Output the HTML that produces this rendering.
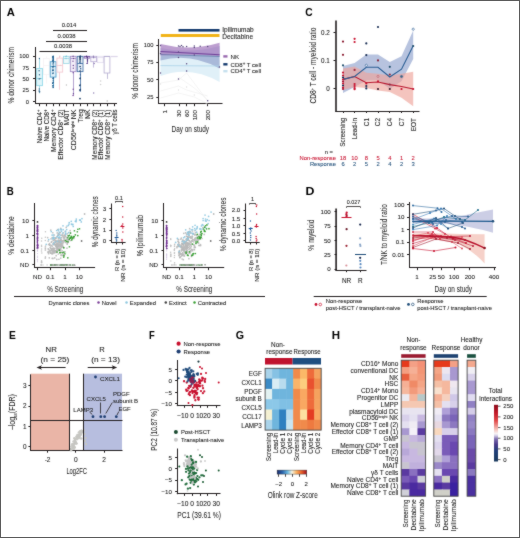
<!DOCTYPE html>
<html><head><meta charset="utf-8"><style>
html,body{margin:0;padding:0;background:#fff;}
body{width:520px;height:538px;overflow:hidden;}
svg{display:block;font-family:"Liberation Sans",sans-serif;will-change:transform;}
</style></head><body>
<svg width="520" height="538" viewBox="0 0 520 538">
<defs><filter id="soft" x="0" y="0" width="520" height="538" filterUnits="userSpaceOnUse" color-interpolation-filters="sRGB"><feConvolveMatrix order="3" kernelMatrix="1 2 1 2 24 2 1 2 1" edgeMode="duplicate"/></filter></defs>
<g filter="url(#soft)">
<rect x="0" y="0" width="520" height="538" fill="#fff"/>
<text transform="translate(6.82 16.30) scale(1.030 1)" x="0" y="0" font-size="10.87" font-weight="bold" fill="#000">A</text>
<line x1="35.5" y1="47" x2="35.5" y2="104" stroke="#231f20" stroke-width="1"/>
<line x1="35" y1="103.5" x2="117" y2="103.5" stroke="#231f20" stroke-width="1"/>
<line x1="33" y1="101.5" x2="35" y2="101.5" stroke="#231f20" stroke-width="1"/>
<text x="29.00" y="103.59" font-size="5.8" text-anchor="end" fill="#222" stroke="#222" stroke-width="0.08">0</text>
<line x1="33" y1="90.5" x2="35" y2="90.5" stroke="#231f20" stroke-width="1"/>
<text x="29.00" y="92.29" font-size="5.8" text-anchor="end" fill="#222" stroke="#222" stroke-width="0.08">25</text>
<line x1="33" y1="78.5" x2="35" y2="78.5" stroke="#231f20" stroke-width="1"/>
<text x="29.00" y="80.99" font-size="5.8" text-anchor="end" fill="#222" stroke="#222" stroke-width="0.08">50</text>
<line x1="33" y1="67.5" x2="35" y2="67.5" stroke="#231f20" stroke-width="1"/>
<text x="29.00" y="69.69" font-size="5.8" text-anchor="end" fill="#222" stroke="#222" stroke-width="0.08">75</text>
<line x1="33" y1="56.5" x2="35" y2="56.5" stroke="#231f20" stroke-width="1"/>
<text x="29.00" y="58.39" font-size="5.8" text-anchor="end" fill="#222" stroke="#222" stroke-width="0.08">100</text>
<text x="14.24" y="75.30" font-size="9.0" text-anchor="middle" textLength="56.5" lengthAdjust="spacingAndGlyphs" fill="#222" stroke="#222" stroke-width="0.04" transform="rotate(-90 14.24 75.30)">% donor chimerism</text>
<line x1="39.5" y1="103.5" x2="39.5" y2="106.2" stroke="#231f20" stroke-width="1"/>
<line x1="46.5" y1="103.5" x2="46.5" y2="106.2" stroke="#231f20" stroke-width="1"/>
<line x1="53.5" y1="103.5" x2="53.5" y2="106.2" stroke="#231f20" stroke-width="1"/>
<line x1="59.5" y1="103.5" x2="59.5" y2="106.2" stroke="#231f20" stroke-width="1"/>
<line x1="66.5" y1="103.5" x2="66.5" y2="106.2" stroke="#231f20" stroke-width="1"/>
<line x1="73.5" y1="103.5" x2="73.5" y2="106.2" stroke="#231f20" stroke-width="1"/>
<line x1="80.5" y1="103.5" x2="80.5" y2="106.2" stroke="#231f20" stroke-width="1"/>
<line x1="87.5" y1="103.5" x2="87.5" y2="106.2" stroke="#231f20" stroke-width="1"/>
<line x1="93.5" y1="103.5" x2="93.5" y2="106.2" stroke="#231f20" stroke-width="1"/>
<line x1="100.5" y1="103.5" x2="100.5" y2="106.2" stroke="#231f20" stroke-width="1"/>
<line x1="107.5" y1="103.5" x2="107.5" y2="106.2" stroke="#231f20" stroke-width="1"/>
<line x1="114.5" y1="103.5" x2="114.5" y2="106.2" stroke="#231f20" stroke-width="1"/>
<text x="42.10" y="109.50" font-size="6.4" text-anchor="end" textLength="33.8" lengthAdjust="spacingAndGlyphs" fill="#222" stroke="#222" stroke-width="0.08" transform="rotate(-90 42.10 109.50)">Naive CD4<tspan dy="-2" font-size="4.6">+</tspan></text>
<text x="48.90" y="109.50" font-size="6.4" text-anchor="end" textLength="32" lengthAdjust="spacingAndGlyphs" fill="#222" stroke="#222" stroke-width="0.08" transform="rotate(-90 48.90 109.50)">Naive CD8<tspan dy="-2" font-size="4.6">+</tspan></text>
<text x="55.70" y="109.50" font-size="6.4" text-anchor="end" textLength="42.5" lengthAdjust="spacingAndGlyphs" fill="#222" stroke="#222" stroke-width="0.08" transform="rotate(-90 55.70 109.50)">Memory CD4<tspan dy="-2" font-size="4.6">+</tspan></text>
<text x="62.50" y="109.50" font-size="6.4" text-anchor="end" textLength="50.2" lengthAdjust="spacingAndGlyphs" fill="#222" stroke="#222" stroke-width="0.08" transform="rotate(-90 62.50 109.50)">Effector CD8<tspan dy="-2" font-size="4.6">+</tspan><tspan dy="2"> (2)</tspan></text>
<text x="69.30" y="109.50" font-size="6.4" text-anchor="end" textLength="16.1" lengthAdjust="spacingAndGlyphs" fill="#222" stroke="#222" stroke-width="0.08" transform="rotate(-90 69.30 109.50)">MAIT</text>
<text x="76.10" y="109.50" font-size="6.4" text-anchor="end" textLength="40.7" lengthAdjust="spacingAndGlyphs" fill="#222" stroke="#222" stroke-width="0.08" transform="rotate(-90 76.10 109.50)">CD56<tspan dy="-2" font-size="4">bright</tspan><tspan dy="2"> NK</tspan></text>
<text x="82.90" y="109.50" font-size="6.4" text-anchor="end" textLength="13" lengthAdjust="spacingAndGlyphs" fill="#222" stroke="#222" stroke-width="0.08" transform="rotate(-90 82.90 109.50)">Treg</text>
<text x="89.70" y="109.50" font-size="6.4" text-anchor="end" textLength="9.5" lengthAdjust="spacingAndGlyphs" fill="#222" stroke="#222" stroke-width="0.08" transform="rotate(-90 89.70 109.50)">NK</text>
<text x="96.50" y="109.50" font-size="6.4" text-anchor="end" textLength="50.2" lengthAdjust="spacingAndGlyphs" fill="#222" stroke="#222" stroke-width="0.08" transform="rotate(-90 96.50 109.50)">Memory CD8<tspan dy="-2" font-size="4.6">+</tspan><tspan dy="2"> (2)</tspan></text>
<text x="103.30" y="109.50" font-size="6.4" text-anchor="end" textLength="50.2" lengthAdjust="spacingAndGlyphs" fill="#222" stroke="#222" stroke-width="0.08" transform="rotate(-90 103.30 109.50)">Effector CD8<tspan dy="-2" font-size="4.6">+</tspan><tspan dy="2"> (1)</tspan></text>
<text x="110.10" y="109.50" font-size="6.4" text-anchor="end" textLength="50.2" lengthAdjust="spacingAndGlyphs" fill="#222" stroke="#222" stroke-width="0.08" transform="rotate(-90 110.10 109.50)">Memory CD8<tspan dy="-2" font-size="4.6">+</tspan><tspan dy="2"> (1)</tspan></text>
<text x="116.90" y="109.50" font-size="6.4" text-anchor="end" textLength="25.1" lengthAdjust="spacingAndGlyphs" fill="#222" stroke="#222" stroke-width="0.08" transform="rotate(-90 116.90 109.50)">γδ T cells</text>
<line x1="39.5" y1="51.5" x2="87" y2="51.5" stroke="#231f20" stroke-width="1"/>
<text x="63.00" y="48.12" font-size="5.9" text-anchor="middle" fill="#222" stroke="#222" stroke-width="0.08">0.0038</text>
<line x1="46" y1="41.5" x2="87" y2="41.5" stroke="#231f20" stroke-width="1"/>
<text x="66.50" y="37.72" font-size="5.9" text-anchor="middle" fill="#222" stroke="#222" stroke-width="0.08">0.0038</text>
<line x1="53" y1="30.5" x2="87" y2="30.5" stroke="#231f20" stroke-width="1"/>
<text x="69.00" y="27.12" font-size="5.9" text-anchor="middle" fill="#222" stroke="#222" stroke-width="0.08">0.014</text>
<line x1="39.5" y1="58.56" x2="39.5" y2="68.50399999999999" stroke="#8ad6e6" stroke-width="0.8"/>
<line x1="39.5" y1="85.68" x2="39.5" y2="93.364" stroke="#8ad6e6" stroke-width="0.8"/>
<rect x="36.70" y="68.50" width="5.80" height="17.18" fill="#dff5fa" stroke="#8ad6e6" stroke-width="0.8"/>
<line x1="36.7" y1="78.5" x2="42.5" y2="78.5" stroke="#8ad6e6" stroke-width="0.8"/>
<circle cx="39.39" cy="58.56" r="0.7" fill="#3a6a90"/>
<circle cx="39.18" cy="78.90" r="0.7" fill="#3a6a90"/>
<circle cx="39.09" cy="70.71" r="0.7" fill="#3a6a90"/>
<circle cx="39.44" cy="74.71" r="0.7" fill="#3a6a90"/>
<circle cx="39.61" cy="91.35" r="0.7" fill="#3a6a90"/>
<circle cx="39.52" cy="92.06" r="0.7" fill="#3a6a90"/>
<circle cx="39.11" cy="90.93" r="0.7" fill="#3a6a90"/>
<circle cx="39.99" cy="78.59" r="0.7" fill="#3a6a90"/>
<circle cx="39.27" cy="89.06" r="0.7" fill="#3a6a90"/>
<line x1="46.5" y1="56.3" x2="46.5" y2="58.56" stroke="#f6f2f4" stroke-width="0.8"/>
<line x1="46.5" y1="74.38" x2="46.5" y2="83.42" stroke="#f6f2f4" stroke-width="0.8"/>
<rect x="43.50" y="58.56" width="5.80" height="15.82" fill="#ffffff" stroke="#f6f2f4" stroke-width="0.8"/>
<line x1="43.5" y1="65.5" x2="49.3" y2="65.5" stroke="#f6f2f4" stroke-width="0.8"/>
<line x1="53.5" y1="56.3" x2="53.5" y2="61.724" stroke="#3f97c8" stroke-width="0.8"/>
<line x1="53.5" y1="77.092" x2="53.5" y2="87.94" stroke="#3f97c8" stroke-width="0.8"/>
<rect x="50.20" y="61.72" width="5.80" height="15.37" fill="#e2f1f9" stroke="#3f97c8" stroke-width="0.8"/>
<line x1="50.2" y1="66.5" x2="56.0" y2="66.5" stroke="#3f97c8" stroke-width="0.8"/>
<circle cx="53.25" cy="56.30" r="0.7" fill="#24608f"/>
<circle cx="53.64" cy="66.24" r="0.7" fill="#24608f"/>
<circle cx="52.98" cy="69.68" r="0.7" fill="#24608f"/>
<circle cx="52.56" cy="57.05" r="0.7" fill="#24608f"/>
<circle cx="52.85" cy="60.78" r="0.7" fill="#24608f"/>
<circle cx="52.64" cy="83.38" r="0.7" fill="#24608f"/>
<circle cx="53.48" cy="78.18" r="0.7" fill="#24608f"/>
<circle cx="53.20" cy="82.22" r="0.7" fill="#24608f"/>
<circle cx="52.95" cy="67.72" r="0.7" fill="#24608f"/>
<circle cx="52.58" cy="70.61" r="0.7" fill="#24608f"/>
<circle cx="52.75" cy="86.05" r="0.7" fill="#24608f"/>
<circle cx="53.01" cy="66.41" r="0.7" fill="#24608f"/>
<circle cx="53.20" cy="78.00" r="0.7" fill="#24608f"/>
<circle cx="52.86" cy="73.60" r="0.7" fill="#24608f"/>
<circle cx="53.34" cy="62.81" r="0.7" fill="#24608f"/>
<circle cx="53.19" cy="80.22" r="0.7" fill="#24608f"/>
<line x1="59.5" y1="56.3" x2="59.5" y2="58.108" stroke="#f2c6cf" stroke-width="0.8"/>
<line x1="59.5" y1="72.12" x2="59.5" y2="89.748" stroke="#f2c6cf" stroke-width="0.8"/>
<rect x="56.90" y="58.11" width="5.80" height="14.01" fill="#fffafa" stroke="#f2c6cf" stroke-width="0.8"/>
<line x1="56.9" y1="65.5" x2="62.699999999999996" y2="65.5" stroke="#f2c6cf" stroke-width="0.8"/>
<circle cx="59.83" cy="56.30" r="0.7" fill="#f0c0c8"/>
<circle cx="60.25" cy="65.34" r="0.7" fill="#f0c0c8"/>
<line x1="66.3" y1="56.5" x2="66.3" y2="56.5" stroke="#9ad6e4" stroke-width="0.8"/>
<line x1="66.3" y1="63.5" x2="66.3" y2="63.5" stroke="#9ad6e4" stroke-width="0.8"/>
<rect x="63.40" y="56.30" width="5.80" height="7.23" fill="#eef9fb" stroke="#9ad6e4" stroke-width="0.8"/>
<line x1="63.4" y1="58.5" x2="69.2" y2="58.5" stroke="#9ad6e4" stroke-width="0.8"/>
<circle cx="66.58" cy="56.30" r="0.7" fill="#7cc8dc"/>
<circle cx="66.05" cy="58.56" r="0.7" fill="#7cc8dc"/>
<circle cx="65.84" cy="56.44" r="0.7" fill="#7cc8dc"/>
<line x1="73.2" y1="56.5" x2="73.2" y2="56.5" stroke="#a08ac4" stroke-width="0.8"/>
<line x1="73.5" y1="71.668" x2="73.5" y2="95.172" stroke="#a08ac4" stroke-width="0.8"/>
<rect x="70.30" y="56.30" width="5.80" height="15.37" fill="#f3eef8" stroke="#a08ac4" stroke-width="0.8"/>
<line x1="70.3" y1="58.5" x2="76.10000000000001" y2="58.5" stroke="#a08ac4" stroke-width="0.8"/>
<circle cx="73.10" cy="56.30" r="0.7" fill="#6a3f90"/>
<circle cx="73.51" cy="58.56" r="0.7" fill="#6a3f90"/>
<circle cx="73.19" cy="89.26" r="0.7" fill="#6a3f90"/>
<circle cx="73.40" cy="93.65" r="0.7" fill="#6a3f90"/>
<circle cx="73.29" cy="65.45" r="0.7" fill="#6a3f90"/>
<circle cx="72.98" cy="61.14" r="0.7" fill="#6a3f90"/>
<circle cx="73.31" cy="68.14" r="0.7" fill="#6a3f90"/>
<circle cx="73.15" cy="72.63" r="0.7" fill="#6a3f90"/>
<line x1="80.1" y1="56.5" x2="80.1" y2="56.5" stroke="#3a6aa0" stroke-width="0.8"/>
<line x1="80.5" y1="71.668" x2="80.5" y2="91.556" stroke="#3a6aa0" stroke-width="0.8"/>
<rect x="77.20" y="56.30" width="5.80" height="15.37" fill="#eaf1f8" stroke="#3a6aa0" stroke-width="0.8"/>
<line x1="77.19999999999999" y1="63.5" x2="83.0" y2="63.5" stroke="#3a6aa0" stroke-width="0.8"/>
<circle cx="80.51" cy="56.30" r="0.7" fill="#1f4f86"/>
<circle cx="80.63" cy="63.08" r="0.7" fill="#1f4f86"/>
<circle cx="80.30" cy="74.84" r="0.7" fill="#1f4f86"/>
<circle cx="80.34" cy="89.42" r="0.7" fill="#1f4f86"/>
<circle cx="80.69" cy="68.74" r="0.7" fill="#1f4f86"/>
<circle cx="79.84" cy="62.58" r="0.7" fill="#1f4f86"/>
<circle cx="80.30" cy="77.95" r="0.7" fill="#1f4f86"/>
<circle cx="80.05" cy="90.76" r="0.7" fill="#1f4f86"/>
<circle cx="79.64" cy="85.63" r="0.7" fill="#1f4f86"/>
<circle cx="80.42" cy="89.48" r="0.7" fill="#1f4f86"/>
<line x1="87.0" y1="56.5" x2="87.0" y2="56.5" stroke="#7a58a8" stroke-width="0.8"/>
<line x1="87.5" y1="58.108" x2="87.5" y2="63.984" stroke="#7a58a8" stroke-width="0.8"/>
<rect x="84.10" y="56.30" width="5.80" height="1.81" fill="#efe8f6" stroke="#7a58a8" stroke-width="0.8"/>
<line x1="84.1" y1="56.5" x2="89.9" y2="56.5" stroke="#7a58a8" stroke-width="0.8"/>
<circle cx="86.56" cy="56.30" r="0.7" fill="#4a2f78"/>
<circle cx="86.70" cy="56.75" r="0.7" fill="#4a2f78"/>
<circle cx="87.45" cy="60.98" r="0.7" fill="#4a2f78"/>
<circle cx="86.94" cy="63.36" r="0.7" fill="#4a2f78"/>
<circle cx="87.46" cy="59.76" r="0.7" fill="#4a2f78"/>
<circle cx="87.44" cy="57.69" r="0.7" fill="#4a2f78"/>
<line x1="93.7" y1="56.5" x2="93.7" y2="56.5" stroke="#b8acd4" stroke-width="0.8"/>
<line x1="93.5" y1="61.724" x2="93.5" y2="67.6" stroke="#b8acd4" stroke-width="0.8"/>
<rect x="90.80" y="56.30" width="5.80" height="5.42" fill="#faf8fc" stroke="#b8acd4" stroke-width="0.8"/>
<line x1="90.8" y1="57.5" x2="96.60000000000001" y2="57.5" stroke="#b8acd4" stroke-width="0.8"/>
<circle cx="93.43" cy="56.30" r="0.7" fill="#8a78b0"/>
<circle cx="93.60" cy="57.66" r="0.7" fill="#8a78b0"/>
<circle cx="94.16" cy="63.55" r="0.7" fill="#8a78b0"/>
<line x1="100.4" y1="56.5" x2="100.4" y2="56.5" stroke="#e2dcee" stroke-width="0.8"/>
<line x1="100.4" y1="62.5" x2="100.4" y2="62.5" stroke="#e2dcee" stroke-width="0.8"/>
<rect x="97.50" y="56.30" width="5.80" height="6.33" fill="#fdfcfe" stroke="#e2dcee" stroke-width="0.8"/>
<line x1="97.5" y1="57.5" x2="103.30000000000001" y2="57.5" stroke="#e2dcee" stroke-width="0.8"/>
<line x1="107.0" y1="56.5" x2="107.0" y2="56.5" stroke="#b4acd0" stroke-width="0.8"/>
<line x1="107.5" y1="73.024" x2="107.5" y2="78.9" stroke="#b4acd0" stroke-width="0.8"/>
<rect x="104.10" y="56.30" width="5.80" height="16.72" fill="#ffffff" stroke="#b4acd0" stroke-width="0.8"/>
<line x1="104.1" y1="56.5" x2="109.9" y2="56.5" stroke="#b4acd0" stroke-width="0.8"/>
<line x1="114.3" y1="56.5" x2="114.3" y2="56.5" stroke="#ddd6ea" stroke-width="0.8"/>
<line x1="114.3" y1="56.5" x2="114.3" y2="56.5" stroke="#ddd6ea" stroke-width="0.8"/>
<rect x="111.40" y="56.30" width="5.80" height="0.45" fill="#ffffff" stroke="#ddd6ea" stroke-width="0.8"/>
<line x1="111.39999999999999" y1="56.5" x2="117.2" y2="56.5" stroke="#ddd6ea" stroke-width="0.8"/>
<circle cx="53.10" cy="56.50" r="0.8" fill="#24608f"/>
<circle cx="53.10" cy="57.50" r="0.8" fill="#24608f"/>
<circle cx="53.10" cy="58.50" r="0.8" fill="#24608f"/>
<circle cx="53.10" cy="59.50" r="0.8" fill="#24608f"/>
<circle cx="53.10" cy="60.50" r="0.8" fill="#24608f"/>
<circle cx="53.10" cy="61.50" r="0.8" fill="#24608f"/>
<circle cx="53.10" cy="64.00" r="0.8" fill="#24608f"/>
<circle cx="53.10" cy="66.50" r="0.8" fill="#24608f"/>
<circle cx="53.10" cy="70.50" r="0.8" fill="#24608f"/>
<circle cx="53.10" cy="73.00" r="0.8" fill="#24608f"/>
<circle cx="53.10" cy="78.50" r="0.8" fill="#24608f"/>
<circle cx="53.10" cy="82.50" r="0.8" fill="#24608f"/>
<circle cx="53.10" cy="85.50" r="0.8" fill="#24608f"/>
<circle cx="53.10" cy="87.50" r="0.8" fill="#24608f"/>
<circle cx="80.10" cy="56.30" r="0.85" fill="#1f3f66"/>
<circle cx="80.10" cy="57.20" r="0.85" fill="#1f3f66"/>
<circle cx="80.10" cy="58.20" r="0.85" fill="#1f3f66"/>
<circle cx="80.10" cy="59.50" r="0.85" fill="#1f3f66"/>
<circle cx="80.10" cy="61.00" r="0.85" fill="#1f3f66"/>
<circle cx="80.10" cy="66.50" r="0.85" fill="#1f3f66"/>
<circle cx="80.10" cy="71.00" r="0.85" fill="#1f3f66"/>
<circle cx="80.10" cy="78.50" r="0.85" fill="#1f3f66"/>
<circle cx="80.10" cy="85.00" r="0.85" fill="#1f3f66"/>
<circle cx="80.10" cy="90.00" r="0.85" fill="#1f3f66"/>
<circle cx="80.00" cy="98.60" r="0.9" fill="#1f3f66"/>
<circle cx="73.10" cy="95.50" r="0.8" fill="#7a4a9a"/>
<circle cx="66.40" cy="85.00" r="0.7" fill="#c0c0c0"/>
<circle cx="93.70" cy="93.00" r="0.7" fill="#8a78b0"/>
<circle cx="100.60" cy="81.00" r="0.8" fill="#d0d0d0"/>
<circle cx="100.60" cy="84.50" r="0.8" fill="#d0d0d0"/>
<circle cx="107.20" cy="101.00" r="0.7" fill="#aaa"/>
<line x1="158.5" y1="39" x2="158.5" y2="104" stroke="#231f20" stroke-width="1"/>
<line x1="158.5" y1="103.5" x2="222.5" y2="103.5" stroke="#231f20" stroke-width="1"/>
<line x1="156.3" y1="97.5" x2="158.5" y2="97.5" stroke="#231f20" stroke-width="1"/>
<text x="153.50" y="99.14" font-size="5.8" text-anchor="end" fill="#222" stroke="#222" stroke-width="0.08">25</text>
<line x1="156.3" y1="79.5" x2="158.5" y2="79.5" stroke="#231f20" stroke-width="1"/>
<text x="153.50" y="81.79" font-size="5.8" text-anchor="end" fill="#222" stroke="#222" stroke-width="0.08">50</text>
<line x1="156.3" y1="62.5" x2="158.5" y2="62.5" stroke="#231f20" stroke-width="1"/>
<text x="153.50" y="64.44" font-size="5.8" text-anchor="end" fill="#222" stroke="#222" stroke-width="0.08">75</text>
<line x1="156.3" y1="45.5" x2="158.5" y2="45.5" stroke="#231f20" stroke-width="1"/>
<text x="153.50" y="47.09" font-size="5.8" text-anchor="end" fill="#222" stroke="#222" stroke-width="0.08">100</text>
<text x="137.84" y="70.90" font-size="9.0" text-anchor="middle" textLength="55.7" lengthAdjust="spacingAndGlyphs" fill="#222" stroke="#222" stroke-width="0.04" transform="rotate(-90 137.84 70.90)">% donor chimerism</text>
<line x1="164.5" y1="103.5" x2="164.5" y2="106.2" stroke="#231f20" stroke-width="1"/>
<text x="166.83" y="110.00" font-size="6.2" text-anchor="end" fill="#222" stroke="#222" stroke-width="0.08" transform="rotate(-90 166.83 110.00)">1</text>
<line x1="179.5" y1="103.5" x2="179.5" y2="106.2" stroke="#231f20" stroke-width="1"/>
<text x="181.43" y="110.00" font-size="6.2" text-anchor="end" fill="#222" stroke="#222" stroke-width="0.08" transform="rotate(-90 181.43 110.00)">30</text>
<line x1="186.5" y1="103.5" x2="186.5" y2="106.2" stroke="#231f20" stroke-width="1"/>
<text x="188.83" y="110.00" font-size="6.2" text-anchor="end" fill="#222" stroke="#222" stroke-width="0.08" transform="rotate(-90 188.83 110.00)">60</text>
<line x1="194.5" y1="103.5" x2="194.5" y2="106.2" stroke="#231f20" stroke-width="1"/>
<text x="196.53" y="110.00" font-size="6.2" text-anchor="end" fill="#222" stroke="#222" stroke-width="0.08" transform="rotate(-90 196.53 110.00)">100</text>
<line x1="207.5" y1="103.5" x2="207.5" y2="106.2" stroke="#231f20" stroke-width="1"/>
<text x="209.93" y="110.00" font-size="6.2" text-anchor="end" fill="#222" stroke="#222" stroke-width="0.08" transform="rotate(-90 209.93 110.00)">200</text>
<text x="190.30" y="132.44" font-size="9.0" text-anchor="middle" textLength="37.5" lengthAdjust="spacingAndGlyphs" fill="#222" stroke="#222" stroke-width="0.04">Day on study</text>
<rect x="160.80" y="34.00" width="58.70" height="3.00" fill="#f2b418"/>
<rect x="178.50" y="29.00" width="41.00" height="2.60" fill="#143a6e"/>
<text x="222.30" y="31.94" font-size="6.5" fill="#222" stroke="#222" stroke-width="0.08">Ipilimumab</text>
<text x="222.30" y="38.94" font-size="6.5" fill="#222" stroke="#222" stroke-width="0.08">Decitabine</text>
<path d="M160.5,58 Q190,55.0 219.6,60 L219.6,82 Q190,65.0 160.5,76 Z" fill="#e0f0f8"/>
<path d="M160.5,48 Q190,54.0 219.6,46 L219.6,68.5 Q190,52.5 160.5,60.5 Z" fill="#a9b9d9"/>
<path d="M160.5,44 Q190,51.449999999999996 219.6,42.7 L219.6,56.2 Q190,53.74999999999999 160.5,55.5 Z" fill="#b18ec8" opacity="0.85"/>
<line x1="160.5" y1="51.5" x2="219.6" y2="54.8" stroke="#6e4098" stroke-width="1.1"/>
<line x1="160.5" y1="54.5" x2="219.6" y2="56.5" stroke="#3a5f90" stroke-width="0.5"/>
<line x1="160.5" y1="65.6" x2="219.6" y2="66.0" stroke="#a9d2e8" stroke-width="0.8"/>
<path d="M160.50,83.00 L178.50,80.00 L186.60,73.00 L207.70,101.00" fill="none" stroke="#ececec" stroke-width="0.6"/>
<path d="M160.50,91.00 L178.50,86.00 L186.60,90.00 L207.70,96.00" fill="none" stroke="#ececec" stroke-width="0.6"/>
<path d="M160.50,98.00 L178.50,93.00 L194.30,97.00 L207.70,104.00" fill="none" stroke="#ececec" stroke-width="0.6"/>
<path d="M178.50,77.00 L194.30,88.00 L207.70,100.00" fill="none" stroke="#ececec" stroke-width="0.6"/>
<circle cx="178.50" cy="46.00" r="0.75" fill="#5a4a80"/>
<circle cx="180.00" cy="46.50" r="0.75" fill="#5a4a80"/>
<circle cx="181.50" cy="45.50" r="0.75" fill="#5a4a80"/>
<circle cx="183.00" cy="46.80" r="0.75" fill="#5a4a80"/>
<circle cx="186.60" cy="46.50" r="0.75" fill="#5a4a80"/>
<circle cx="194.30" cy="46.00" r="0.75" fill="#5a4a80"/>
<circle cx="194.30" cy="47.50" r="0.75" fill="#5a4a80"/>
<circle cx="200.20" cy="46.20" r="0.75" fill="#5a4a80"/>
<circle cx="207.70" cy="46.50" r="0.75" fill="#5a4a80"/>
<circle cx="160.50" cy="45.50" r="0.75" fill="#5a4a80"/>
<circle cx="160.50" cy="53.50" r="0.75" fill="#5a4a80"/>
<circle cx="178.50" cy="57.50" r="0.75" fill="#5a4a80"/>
<circle cx="186.60" cy="63.70" r="0.75" fill="#5a4a80"/>
<circle cx="186.60" cy="71.00" r="0.75" fill="#5a4a80"/>
<circle cx="178.50" cy="79.00" r="0.75" fill="#5a4a80"/>
<circle cx="207.70" cy="100.70" r="0.75" fill="#5a4a80"/>
<circle cx="219.50" cy="67.00" r="0.75" fill="#5a4a80"/>
<circle cx="160.50" cy="73.00" r="0.75" fill="#5a4a80"/>
<circle cx="194.30" cy="55.00" r="0.75" fill="#5a4a80"/>
<circle cx="178.50" cy="52.00" r="0.75" fill="#5a4a80"/>
<circle cx="186.60" cy="87.00" r="0.7" fill="#e0e0e0"/>
<circle cx="178.50" cy="90.00" r="0.7" fill="#e0e0e0"/>
<circle cx="160.50" cy="84.00" r="0.7" fill="#e0e0e0"/>
<circle cx="194.30" cy="95.00" r="0.7" fill="#e0e0e0"/>
<rect x="223.30" y="55.20" width="4.20" height="2.40" fill="#9a6ab0"/>
<text x="230.60" y="58.73" font-size="6.2" fill="#222" stroke="#222" stroke-width="0.08">NK</text>
<rect x="223.30" y="63.10" width="4.20" height="2.40" fill="#143a6e"/>
<text x="230.60" y="66.53" font-size="6.2" textLength="30.5" lengthAdjust="spacingAndGlyphs" fill="#222" stroke="#222" stroke-width="0.08">CD8<tspan dy="-2" font-size="4.6">+</tspan><tspan dy="2"> T cell</tspan></text>
<rect x="223.30" y="70.00" width="4.20" height="2.40" fill="#c6e0ee"/>
<text x="230.60" y="73.43" font-size="6.2" textLength="30.5" lengthAdjust="spacingAndGlyphs" fill="#222" stroke="#222" stroke-width="0.08">CD4<tspan dy="-2" font-size="4.6">+</tspan><tspan dy="2"> T cell</tspan></text>
<text transform="translate(305.19 15.90) scale(0.941 1)" x="0" y="0" font-size="10.87" font-weight="bold" fill="#000">C</text>
<line x1="336.0" y1="20.5" x2="336.0" y2="111.8" stroke="#231f20" stroke-width="1.6"/>
<line x1="335.3" y1="111.5" x2="419.5" y2="111.5" stroke="#231f20" stroke-width="1"/>
<line x1="333.5" y1="88.5" x2="335.8" y2="88.5" stroke="#231f20" stroke-width="1"/>
<text x="329.80" y="91.17" font-size="6.3" text-anchor="end" fill="#222" stroke="#222" stroke-width="0.08">0</text>
<line x1="333.5" y1="60.5" x2="335.8" y2="60.5" stroke="#231f20" stroke-width="1"/>
<text x="329.80" y="63.17" font-size="6.3" text-anchor="end" fill="#222" stroke="#222" stroke-width="0.08">0.1</text>
<line x1="333.5" y1="32.5" x2="335.8" y2="32.5" stroke="#231f20" stroke-width="1"/>
<text x="329.80" y="35.17" font-size="6.3" text-anchor="end" fill="#222" stroke="#222" stroke-width="0.08">0.2</text>
<text x="316.22" y="65.50" font-size="8.4" text-anchor="middle" textLength="76" lengthAdjust="spacingAndGlyphs" fill="#222" stroke="#222" stroke-width="0.04" transform="rotate(-90 316.22 65.50)">CD8<tspan dy="-2" font-size="4.6">+</tspan><tspan dy="2"> T cell - myeloid ratio</tspan></text>
<line x1="343.5" y1="111" x2="343.5" y2="113" stroke="#231f20" stroke-width="1"/>
<text x="345.30" y="118.00" font-size="6.4" text-anchor="end" fill="#222" stroke="#222" stroke-width="0.08" transform="rotate(-90 345.30 118.00)">Screening</text>
<line x1="354.5" y1="111" x2="354.5" y2="113" stroke="#231f20" stroke-width="1"/>
<text x="356.90" y="118.00" font-size="6.4" text-anchor="end" fill="#222" stroke="#222" stroke-width="0.08" transform="rotate(-90 356.90 118.00)">Lead-in</text>
<line x1="366.5" y1="111" x2="366.5" y2="113" stroke="#231f20" stroke-width="1"/>
<text x="368.60" y="118.00" font-size="6.4" text-anchor="end" fill="#222" stroke="#222" stroke-width="0.08" transform="rotate(-90 368.60 118.00)">C1</text>
<line x1="378.5" y1="111" x2="378.5" y2="113" stroke="#231f20" stroke-width="1"/>
<text x="380.30" y="118.00" font-size="6.4" text-anchor="end" fill="#222" stroke="#222" stroke-width="0.08" transform="rotate(-90 380.30 118.00)">C2</text>
<line x1="389.5" y1="111" x2="389.5" y2="113" stroke="#231f20" stroke-width="1"/>
<text x="392.10" y="118.00" font-size="6.4" text-anchor="end" fill="#222" stroke="#222" stroke-width="0.08" transform="rotate(-90 392.10 118.00)">C4</text>
<line x1="401.5" y1="111" x2="401.5" y2="113" stroke="#231f20" stroke-width="1"/>
<text x="403.80" y="118.00" font-size="6.4" text-anchor="end" fill="#222" stroke="#222" stroke-width="0.08" transform="rotate(-90 403.80 118.00)">C7</text>
<line x1="413.5" y1="111" x2="413.5" y2="113" stroke="#231f20" stroke-width="1"/>
<text x="415.50" y="118.00" font-size="6.4" text-anchor="end" fill="#222" stroke="#222" stroke-width="0.08" transform="rotate(-90 415.50 118.00)">EOT</text>
<path d="M343.00,66.00 L354.60,63.00 L366.30,54.40 L378.00,54.40 L389.80,62.00 L401.50,56.30 L413.20,30.40 L413.20,59.00 L401.50,81.30 L389.80,89.00 L378.00,80.00 L366.30,80.40 L354.60,87.00 L343.00,93.00Z" fill="#9fafd4" opacity="0.75"/>
<path d="M343.00,68.50 L354.60,66.50 L366.30,72.70 L378.00,73.70 L389.80,75.60 L401.50,73.70 L413.20,71.70 L413.20,106.30 L401.50,97.70 L389.80,92.00 L378.00,90.40 L366.30,88.00 L354.60,87.00 L343.00,90.00Z" fill="#eea59b" opacity="0.65"/>
<path d="M343.00,79.40 L354.60,76.50 L366.30,82.70 L378.00,82.00 L389.80,84.60 L401.50,86.50 L413.20,89.00" fill="none" stroke="#b8172f" stroke-width="1.1"/>
<path d="M343.00,79.40 L354.60,76.50 L366.30,67.30 L378.00,67.30 L389.80,77.00 L401.50,69.20 L413.20,45.80" fill="none" stroke="#2a5d93" stroke-width="1.1"/>
<circle cx="343.00" cy="41.60" r="1.1" fill="#8a1a30"/>
<circle cx="343.00" cy="54.80" r="1.1" fill="#8a1a30"/>
<circle cx="354.60" cy="38.80" r="1.1" fill="#c8102e"/>
<circle cx="354.60" cy="42.00" r="1.1" fill="#c8102e"/>
<circle cx="366.30" cy="43.40" r="1.1" fill="#1a2f55"/>
<circle cx="378.00" cy="27.00" r="1.1" fill="#1a2f55"/>
<circle cx="343.00" cy="65.30" r="1.1" fill="#1f4f6a"/>
<circle cx="366.30" cy="55.10" r="1.1" fill="#1a2f55"/>
<circle cx="354.60" cy="69.90" r="1.1" fill="#9a2a40"/>
<circle cx="378.00" cy="60.40" r="1.1" fill="#8a2a40"/>
<circle cx="389.80" cy="66.80" r="1.1" fill="#1f4f6a"/>
<circle cx="389.80" cy="74.50" r="1.1" fill="#8a2a40"/>
<circle cx="401.50" cy="76.50" r="1.1" fill="#3a6a7a"/>
<circle cx="413.20" cy="46.00" r="1.1" fill="#1f4f6a"/>
<circle cx="378.00" cy="89.00" r="1.1" fill="#3a1a2a"/>
<circle cx="389.80" cy="89.00" r="1.1" fill="#3a1a2a"/>
<circle cx="401.50" cy="89.00" r="1.1" fill="#c8102e"/>
<circle cx="413.20" cy="89.00" r="1.1" fill="#c8102e"/>
<circle cx="366.30" cy="88.40" r="1.1" fill="#1a2f55"/>
<circle cx="366.30" cy="83.40" r="1.1" fill="#c8102e"/>
<circle cx="378.00" cy="81.30" r="1.1" fill="#c8102e"/>
<circle cx="389.80" cy="84.50" r="1.1" fill="#8a2a40"/>
<circle cx="343.00" cy="72.60" r="1.1" fill="#c8102e"/>
<circle cx="366.30" cy="86.00" r="1.1" fill="#1a2f55"/>
<circle cx="343.00" cy="75.50" r="1.1" fill="#c8102e"/>
<circle cx="343.00" cy="77.50" r="1.1" fill="#1a2f55"/>
<circle cx="343.00" cy="79.50" r="1.1" fill="#c8102e"/>
<circle cx="343.00" cy="81.50" r="1.1" fill="#a01030"/>
<circle cx="343.00" cy="83.50" r="1.1" fill="#c8102e"/>
<circle cx="343.00" cy="85.50" r="1.1" fill="#1a2f55"/>
<circle cx="343.00" cy="87.50" r="1.1" fill="#c8102e"/>
<circle cx="343.00" cy="89.00" r="1.1" fill="#a01030"/>
<circle cx="354.60" cy="84.00" r="1.1" fill="#c8102e"/>
<circle cx="354.60" cy="86.00" r="1.1" fill="#c8102e"/>
<circle cx="354.60" cy="88.00" r="1.1" fill="#c8102e"/>
<circle cx="354.60" cy="89.20" r="1.1" fill="#c8102e"/>
<circle cx="413.20" cy="29.20" r="1.1" fill="#fff" stroke="#2a5d93" stroke-width="0.6"/>
<circle cx="366.30" cy="65.30" r="1.1" fill="#fff" stroke="#2a5d93" stroke-width="0.6"/>
<circle cx="378.00" cy="76.40" r="1.1" fill="none" stroke="#c06070" stroke-width="0.6"/>
<circle cx="401.50" cy="76.50" r="1.1" fill="none" stroke="#2a5d93" stroke-width="0.6"/>
<text x="333.00" y="154.49" font-size="5.8" text-anchor="end" fill="#222" stroke="#222" stroke-width="0.08">n =</text>
<text x="336.00" y="160.29" font-size="5.8" text-anchor="end" fill="#c8102e" stroke="#c8102e" stroke-width="0.08">Non-response</text>
<text x="336.00" y="166.19" font-size="5.8" text-anchor="end" fill="#1f4e79" stroke="#1f4e79" stroke-width="0.08">Response</text>
<text x="343.00" y="160.29" font-size="5.8" text-anchor="middle" fill="#c8102e" stroke="#c8102e" stroke-width="0.08">18</text>
<text x="343.00" y="166.19" font-size="5.8" text-anchor="middle" fill="#1f4e79" stroke="#1f4e79" stroke-width="0.08">6</text>
<text x="354.60" y="160.29" font-size="5.8" text-anchor="middle" fill="#c8102e" stroke="#c8102e" stroke-width="0.08">10</text>
<text x="354.60" y="166.19" font-size="5.8" text-anchor="middle" fill="#1f4e79" stroke="#1f4e79" stroke-width="0.08">2</text>
<text x="366.30" y="160.29" font-size="5.8" text-anchor="middle" fill="#c8102e" stroke="#c8102e" stroke-width="0.08">8</text>
<text x="366.30" y="166.19" font-size="5.8" text-anchor="middle" fill="#1f4e79" stroke="#1f4e79" stroke-width="0.08">5</text>
<text x="378.00" y="160.29" font-size="5.8" text-anchor="middle" fill="#c8102e" stroke="#c8102e" stroke-width="0.08">5</text>
<text x="378.00" y="166.19" font-size="5.8" text-anchor="middle" fill="#1f4e79" stroke="#1f4e79" stroke-width="0.08">2</text>
<text x="389.80" y="160.29" font-size="5.8" text-anchor="middle" fill="#c8102e" stroke="#c8102e" stroke-width="0.08">4</text>
<text x="389.80" y="166.19" font-size="5.8" text-anchor="middle" fill="#1f4e79" stroke="#1f4e79" stroke-width="0.08">4</text>
<text x="401.50" y="160.29" font-size="5.8" text-anchor="middle" fill="#c8102e" stroke="#c8102e" stroke-width="0.08">1</text>
<text x="401.50" y="166.19" font-size="5.8" text-anchor="middle" fill="#1f4e79" stroke="#1f4e79" stroke-width="0.08">2</text>
<text x="413.20" y="160.29" font-size="5.8" text-anchor="middle" fill="#c8102e" stroke="#c8102e" stroke-width="0.08">2</text>
<text x="413.20" y="166.19" font-size="5.8" text-anchor="middle" fill="#1f4e79" stroke="#1f4e79" stroke-width="0.08">3</text>
<text transform="translate(6.87 195.10) scale(0.890 1)" x="0" y="0" font-size="10.87" font-weight="bold" fill="#000">B</text>
<line x1="34.5" y1="203" x2="34.5" y2="268" stroke="#231f20" stroke-width="1"/>
<line x1="34.6" y1="267.5" x2="95.1" y2="267.5" stroke="#231f20" stroke-width="1"/>
<line x1="32.4" y1="220.5" x2="34.6" y2="220.5" stroke="#231f20" stroke-width="1"/>
<text x="29.00" y="222.63" font-size="6.2" text-anchor="end" fill="#222" stroke="#222" stroke-width="0.08">10</text>
<line x1="32.4" y1="235.5" x2="34.6" y2="235.5" stroke="#231f20" stroke-width="1"/>
<text x="29.00" y="237.73" font-size="6.2" text-anchor="end" fill="#222" stroke="#222" stroke-width="0.08">1</text>
<line x1="32.4" y1="250.5" x2="34.6" y2="250.5" stroke="#231f20" stroke-width="1"/>
<text x="29.00" y="252.53" font-size="6.2" text-anchor="end" fill="#222" stroke="#222" stroke-width="0.08">0.1</text>
<line x1="32.4" y1="264.5" x2="34.6" y2="264.5" stroke="#231f20" stroke-width="1"/>
<text x="29.00" y="267.03" font-size="6.2" text-anchor="end" fill="#222" stroke="#222" stroke-width="0.08">ND</text>
<line x1="37.5" y1="267.5" x2="37.5" y2="270.2" stroke="#231f20" stroke-width="1"/>
<text x="37.50" y="279.43" font-size="6.2" text-anchor="middle" fill="#222" stroke="#222" stroke-width="0.08">ND</text>
<line x1="50.5" y1="267.5" x2="50.5" y2="270.2" stroke="#231f20" stroke-width="1"/>
<text x="50.20" y="279.43" font-size="6.2" text-anchor="middle" fill="#222" stroke="#222" stroke-width="0.08">0.1</text>
<line x1="65.5" y1="267.5" x2="65.5" y2="270.2" stroke="#231f20" stroke-width="1"/>
<text x="65.10" y="279.43" font-size="6.2" text-anchor="middle" fill="#222" stroke="#222" stroke-width="0.08">1</text>
<line x1="79.5" y1="267.5" x2="79.5" y2="270.2" stroke="#231f20" stroke-width="1"/>
<text x="79.30" y="279.43" font-size="6.2" text-anchor="middle" fill="#222" stroke="#222" stroke-width="0.08">10</text>
<text x="65.20" y="291.64" font-size="9.0" text-anchor="middle" textLength="36" lengthAdjust="spacingAndGlyphs" fill="#222" stroke="#222" stroke-width="0.04">% Screening</text>
<text x="13.84" y="235.50" font-size="9.0" text-anchor="middle" textLength="38.5" lengthAdjust="spacingAndGlyphs" fill="#222" stroke="#222" stroke-width="0.04" transform="rotate(-90 13.84 235.50)">% decitabine</text>
<circle cx="37.40" cy="248.01" r="0.75" fill="#6e2e90" opacity="0.9"/>
<circle cx="37.42" cy="229.64" r="0.75" fill="#6e2e90" opacity="0.9"/>
<circle cx="37.50" cy="230.98" r="0.75" fill="#6e2e90" opacity="0.9"/>
<circle cx="37.43" cy="239.34" r="0.75" fill="#6e2e90" opacity="0.9"/>
<circle cx="37.48" cy="225.60" r="0.75" fill="#6e2e90" opacity="0.9"/>
<circle cx="37.52" cy="234.18" r="0.75" fill="#6e2e90" opacity="0.9"/>
<circle cx="37.56" cy="247.90" r="0.75" fill="#6e2e90" opacity="0.9"/>
<circle cx="37.54" cy="237.61" r="0.75" fill="#6e2e90" opacity="0.9"/>
<circle cx="37.37" cy="241.39" r="0.75" fill="#6e2e90" opacity="0.9"/>
<circle cx="37.58" cy="246.64" r="0.75" fill="#6e2e90" opacity="0.9"/>
<circle cx="37.59" cy="246.05" r="0.75" fill="#6e2e90" opacity="0.9"/>
<circle cx="37.47" cy="234.72" r="0.75" fill="#6e2e90" opacity="0.9"/>
<circle cx="37.54" cy="227.93" r="0.75" fill="#6e2e90" opacity="0.9"/>
<circle cx="37.37" cy="226.96" r="0.75" fill="#6e2e90" opacity="0.9"/>
<circle cx="37.40" cy="230.41" r="0.75" fill="#6e2e90" opacity="0.9"/>
<circle cx="37.37" cy="233.49" r="0.75" fill="#6e2e90" opacity="0.9"/>
<circle cx="37.40" cy="225.51" r="0.75" fill="#6e2e90" opacity="0.9"/>
<circle cx="37.46" cy="227.88" r="0.75" fill="#6e2e90" opacity="0.9"/>
<circle cx="37.61" cy="226.10" r="0.75" fill="#6e2e90" opacity="0.9"/>
<circle cx="37.39" cy="239.93" r="0.75" fill="#6e2e90" opacity="0.9"/>
<circle cx="37.45" cy="231.43" r="0.75" fill="#6e2e90" opacity="0.9"/>
<circle cx="37.39" cy="234.06" r="0.75" fill="#6e2e90" opacity="0.9"/>
<circle cx="37.65" cy="245.45" r="0.75" fill="#6e2e90" opacity="0.9"/>
<circle cx="37.50" cy="236.45" r="0.75" fill="#6e2e90" opacity="0.9"/>
<circle cx="37.38" cy="227.52" r="0.75" fill="#6e2e90" opacity="0.9"/>
<circle cx="37.43" cy="233.55" r="0.75" fill="#6e2e90" opacity="0.9"/>
<circle cx="37.40" cy="244.98" r="0.75" fill="#6e2e90" opacity="0.9"/>
<circle cx="37.64" cy="226.04" r="0.75" fill="#6e2e90" opacity="0.9"/>
<circle cx="37.39" cy="237.91" r="0.75" fill="#6e2e90" opacity="0.9"/>
<circle cx="37.36" cy="238.26" r="0.75" fill="#6e2e90" opacity="0.9"/>
<circle cx="37.64" cy="237.91" r="0.75" fill="#6e2e90" opacity="0.9"/>
<circle cx="37.56" cy="245.79" r="0.75" fill="#6e2e90" opacity="0.9"/>
<circle cx="37.46" cy="231.64" r="0.75" fill="#6e2e90" opacity="0.9"/>
<circle cx="37.58" cy="229.43" r="0.75" fill="#6e2e90" opacity="0.9"/>
<circle cx="37.58" cy="238.02" r="0.75" fill="#6e2e90" opacity="0.9"/>
<circle cx="37.42" cy="233.25" r="0.75" fill="#6e2e90" opacity="0.9"/>
<circle cx="37.65" cy="244.57" r="0.75" fill="#6e2e90" opacity="0.9"/>
<circle cx="37.59" cy="245.54" r="0.75" fill="#6e2e90" opacity="0.9"/>
<circle cx="37.57" cy="244.73" r="0.75" fill="#6e2e90" opacity="0.9"/>
<circle cx="37.51" cy="230.83" r="0.75" fill="#6e2e90" opacity="0.9"/>
<circle cx="37.36" cy="233.86" r="0.75" fill="#6e2e90" opacity="0.9"/>
<circle cx="37.43" cy="226.16" r="0.75" fill="#6e2e90" opacity="0.9"/>
<circle cx="37.56" cy="231.59" r="0.75" fill="#6e2e90" opacity="0.9"/>
<circle cx="37.48" cy="247.98" r="0.75" fill="#6e2e90" opacity="0.9"/>
<circle cx="37.65" cy="247.52" r="0.75" fill="#6e2e90" opacity="0.9"/>
<circle cx="37.46" cy="247.94" r="0.75" fill="#6e2e90" opacity="0.9"/>
<circle cx="37.42" cy="230.68" r="0.75" fill="#6e2e90" opacity="0.9"/>
<circle cx="37.41" cy="230.12" r="0.75" fill="#6e2e90" opacity="0.9"/>
<circle cx="37.62" cy="240.17" r="0.75" fill="#6e2e90" opacity="0.9"/>
<circle cx="37.49" cy="245.25" r="0.75" fill="#6e2e90" opacity="0.9"/>
<circle cx="37.59" cy="240.84" r="0.75" fill="#6e2e90" opacity="0.9"/>
<circle cx="37.55" cy="227.49" r="0.75" fill="#6e2e90" opacity="0.9"/>
<circle cx="37.58" cy="246.88" r="0.75" fill="#6e2e90" opacity="0.9"/>
<circle cx="37.49" cy="243.13" r="0.75" fill="#6e2e90" opacity="0.9"/>
<circle cx="37.59" cy="229.70" r="0.75" fill="#6e2e90" opacity="0.9"/>
<circle cx="37.59" cy="233.31" r="0.75" fill="#6e2e90" opacity="0.9"/>
<circle cx="37.47" cy="248.33" r="0.75" fill="#6e2e90" opacity="0.9"/>
<circle cx="37.63" cy="234.93" r="0.75" fill="#6e2e90" opacity="0.9"/>
<circle cx="37.40" cy="242.53" r="0.75" fill="#6e2e90" opacity="0.9"/>
<circle cx="37.40" cy="228.49" r="0.75" fill="#6e2e90" opacity="0.9"/>
<circle cx="37.50" cy="260.76" r="0.6" fill="#cbbcdc" opacity="0.8"/>
<circle cx="37.50" cy="259.48" r="0.6" fill="#cbbcdc" opacity="0.8"/>
<circle cx="37.50" cy="250.90" r="0.6" fill="#cbbcdc" opacity="0.8"/>
<circle cx="37.50" cy="259.74" r="0.6" fill="#cbbcdc" opacity="0.8"/>
<circle cx="37.50" cy="261.74" r="0.6" fill="#cbbcdc" opacity="0.8"/>
<circle cx="37.50" cy="257.54" r="0.6" fill="#cbbcdc" opacity="0.8"/>
<circle cx="37.50" cy="253.56" r="0.6" fill="#cbbcdc" opacity="0.8"/>
<circle cx="37.50" cy="256.13" r="0.6" fill="#cbbcdc" opacity="0.8"/>
<circle cx="37.50" cy="250.70" r="0.6" fill="#cbbcdc" opacity="0.8"/>
<circle cx="37.50" cy="249.19" r="0.6" fill="#cbbcdc" opacity="0.8"/>
<circle cx="37.50" cy="221.90" r="0.9" fill="#333"/>
<circle cx="41.79" cy="253.09" r="0.75" fill="#bdbdbd" opacity="0.9"/>
<circle cx="41.61" cy="262.74" r="0.75" fill="#bdbdbd" opacity="0.9"/>
<circle cx="41.57" cy="260.64" r="0.75" fill="#bdbdbd" opacity="0.9"/>
<circle cx="41.73" cy="238.18" r="0.75" fill="#bdbdbd" opacity="0.9"/>
<circle cx="41.50" cy="240.96" r="0.75" fill="#bdbdbd" opacity="0.9"/>
<circle cx="41.50" cy="250.94" r="0.75" fill="#bdbdbd" opacity="0.9"/>
<circle cx="41.50" cy="245.25" r="0.75" fill="#bdbdbd" opacity="0.9"/>
<circle cx="41.45" cy="261.94" r="0.75" fill="#bdbdbd" opacity="0.9"/>
<circle cx="41.54" cy="246.58" r="0.75" fill="#bdbdbd" opacity="0.9"/>
<circle cx="41.63" cy="261.75" r="0.75" fill="#bdbdbd" opacity="0.9"/>
<circle cx="41.57" cy="262.20" r="0.75" fill="#bdbdbd" opacity="0.9"/>
<circle cx="41.60" cy="249.08" r="0.75" fill="#bdbdbd" opacity="0.9"/>
<circle cx="45.41" cy="231.64" r="0.75" fill="#bdbdbd" opacity="0.9"/>
<circle cx="45.38" cy="237.23" r="0.75" fill="#bdbdbd" opacity="0.9"/>
<circle cx="45.20" cy="258.17" r="0.75" fill="#bdbdbd" opacity="0.9"/>
<circle cx="45.27" cy="247.10" r="0.75" fill="#bdbdbd" opacity="0.9"/>
<circle cx="45.49" cy="249.92" r="0.75" fill="#bdbdbd" opacity="0.9"/>
<circle cx="45.33" cy="248.62" r="0.75" fill="#bdbdbd" opacity="0.9"/>
<circle cx="45.42" cy="257.67" r="0.75" fill="#bdbdbd" opacity="0.9"/>
<circle cx="45.24" cy="250.05" r="0.75" fill="#bdbdbd" opacity="0.9"/>
<circle cx="45.30" cy="240.42" r="0.75" fill="#bdbdbd" opacity="0.9"/>
<circle cx="45.51" cy="248.26" r="0.75" fill="#bdbdbd" opacity="0.9"/>
<circle cx="45.42" cy="256.84" r="0.75" fill="#bdbdbd" opacity="0.9"/>
<circle cx="45.56" cy="246.07" r="0.75" fill="#bdbdbd" opacity="0.9"/>
<circle cx="50.94" cy="245.98" r="0.85" fill="#b9b9b9" opacity="0.9"/>
<circle cx="48.08" cy="252.27" r="0.85" fill="#b9b9b9" opacity="0.9"/>
<circle cx="50.70" cy="252.98" r="0.85" fill="#b9b9b9" opacity="0.9"/>
<circle cx="51.05" cy="238.87" r="0.85" fill="#b9b9b9" opacity="0.9"/>
<circle cx="60.97" cy="240.64" r="0.85" fill="#b9b9b9" opacity="0.9"/>
<circle cx="58.24" cy="241.81" r="0.85" fill="#b9b9b9" opacity="0.9"/>
<circle cx="62.52" cy="245.49" r="0.85" fill="#b9b9b9" opacity="0.9"/>
<circle cx="61.36" cy="243.94" r="0.85" fill="#b9b9b9" opacity="0.9"/>
<circle cx="65.63" cy="242.40" r="0.85" fill="#b9b9b9" opacity="0.9"/>
<circle cx="57.22" cy="232.91" r="0.85" fill="#b9b9b9" opacity="0.9"/>
<circle cx="63.87" cy="247.74" r="0.85" fill="#b9b9b9" opacity="0.9"/>
<circle cx="54.81" cy="244.58" r="0.85" fill="#b9b9b9" opacity="0.9"/>
<circle cx="66.24" cy="227.40" r="0.85" fill="#b9b9b9" opacity="0.9"/>
<circle cx="62.73" cy="255.37" r="0.85" fill="#b9b9b9" opacity="0.9"/>
<circle cx="52.55" cy="253.40" r="0.85" fill="#b9b9b9" opacity="0.9"/>
<circle cx="67.90" cy="235.84" r="0.85" fill="#b9b9b9" opacity="0.9"/>
<circle cx="61.44" cy="247.32" r="0.85" fill="#b9b9b9" opacity="0.9"/>
<circle cx="51.74" cy="249.40" r="0.85" fill="#b9b9b9" opacity="0.9"/>
<circle cx="59.79" cy="248.22" r="0.85" fill="#b9b9b9" opacity="0.9"/>
<circle cx="56.67" cy="244.69" r="0.85" fill="#b9b9b9" opacity="0.9"/>
<circle cx="50.78" cy="248.58" r="0.85" fill="#b9b9b9" opacity="0.9"/>
<circle cx="62.39" cy="241.73" r="0.85" fill="#b9b9b9" opacity="0.9"/>
<circle cx="51.14" cy="245.39" r="0.85" fill="#b9b9b9" opacity="0.9"/>
<circle cx="73.93" cy="238.40" r="0.85" fill="#b9b9b9" opacity="0.9"/>
<circle cx="57.69" cy="229.48" r="0.85" fill="#b9b9b9" opacity="0.9"/>
<circle cx="61.28" cy="244.92" r="0.85" fill="#b9b9b9" opacity="0.9"/>
<circle cx="67.38" cy="239.56" r="0.85" fill="#b9b9b9" opacity="0.9"/>
<circle cx="57.34" cy="248.44" r="0.85" fill="#b9b9b9" opacity="0.9"/>
<circle cx="58.14" cy="240.43" r="0.85" fill="#b9b9b9" opacity="0.9"/>
<circle cx="66.96" cy="248.18" r="0.85" fill="#b9b9b9" opacity="0.9"/>
<circle cx="48.17" cy="248.90" r="0.85" fill="#b9b9b9" opacity="0.9"/>
<circle cx="59.01" cy="245.02" r="0.85" fill="#b9b9b9" opacity="0.9"/>
<circle cx="53.62" cy="242.54" r="0.85" fill="#b9b9b9" opacity="0.9"/>
<circle cx="70.64" cy="240.51" r="0.85" fill="#b9b9b9" opacity="0.9"/>
<circle cx="48.56" cy="244.51" r="0.85" fill="#b9b9b9" opacity="0.9"/>
<circle cx="68.17" cy="242.27" r="0.85" fill="#b9b9b9" opacity="0.9"/>
<circle cx="68.63" cy="240.81" r="0.85" fill="#b9b9b9" opacity="0.9"/>
<circle cx="52.35" cy="250.99" r="0.85" fill="#b9b9b9" opacity="0.9"/>
<circle cx="57.39" cy="248.40" r="0.85" fill="#b9b9b9" opacity="0.9"/>
<circle cx="52.73" cy="248.37" r="0.85" fill="#b9b9b9" opacity="0.9"/>
<circle cx="60.21" cy="245.18" r="0.85" fill="#b9b9b9" opacity="0.9"/>
<circle cx="61.05" cy="243.48" r="0.85" fill="#b9b9b9" opacity="0.9"/>
<circle cx="56.17" cy="251.00" r="0.85" fill="#b9b9b9" opacity="0.9"/>
<circle cx="56.39" cy="241.13" r="0.85" fill="#b9b9b9" opacity="0.9"/>
<circle cx="53.47" cy="248.50" r="0.85" fill="#b9b9b9" opacity="0.9"/>
<circle cx="56.65" cy="246.81" r="0.85" fill="#b9b9b9" opacity="0.9"/>
<circle cx="57.31" cy="246.38" r="0.85" fill="#b9b9b9" opacity="0.9"/>
<circle cx="54.81" cy="239.85" r="0.85" fill="#b9b9b9" opacity="0.9"/>
<circle cx="60.81" cy="248.75" r="0.85" fill="#b9b9b9" opacity="0.9"/>
<circle cx="59.39" cy="242.47" r="0.85" fill="#b9b9b9" opacity="0.9"/>
<circle cx="58.53" cy="238.53" r="0.85" fill="#b9b9b9" opacity="0.9"/>
<circle cx="52.59" cy="253.67" r="0.85" fill="#b9b9b9" opacity="0.9"/>
<circle cx="47.66" cy="237.56" r="0.85" fill="#b9b9b9" opacity="0.9"/>
<circle cx="52.96" cy="258.38" r="0.85" fill="#b9b9b9" opacity="0.9"/>
<circle cx="53.24" cy="240.49" r="0.85" fill="#b9b9b9" opacity="0.9"/>
<circle cx="53.30" cy="251.77" r="0.85" fill="#b9b9b9" opacity="0.9"/>
<circle cx="60.19" cy="244.00" r="0.85" fill="#b9b9b9" opacity="0.9"/>
<circle cx="66.55" cy="241.91" r="0.85" fill="#b9b9b9" opacity="0.9"/>
<circle cx="57.69" cy="248.58" r="0.85" fill="#b9b9b9" opacity="0.9"/>
<circle cx="67.86" cy="242.41" r="0.85" fill="#b9b9b9" opacity="0.9"/>
<circle cx="61.74" cy="235.17" r="0.85" fill="#b9b9b9" opacity="0.9"/>
<circle cx="57.11" cy="249.86" r="0.85" fill="#b9b9b9" opacity="0.9"/>
<circle cx="56.66" cy="252.27" r="0.85" fill="#b9b9b9" opacity="0.9"/>
<circle cx="61.65" cy="247.18" r="0.85" fill="#b9b9b9" opacity="0.9"/>
<circle cx="58.92" cy="259.25" r="0.85" fill="#b9b9b9" opacity="0.9"/>
<circle cx="64.03" cy="238.47" r="0.85" fill="#b9b9b9" opacity="0.9"/>
<circle cx="60.74" cy="258.04" r="0.85" fill="#b9b9b9" opacity="0.9"/>
<circle cx="56.16" cy="251.52" r="0.85" fill="#b9b9b9" opacity="0.9"/>
<circle cx="62.79" cy="240.83" r="0.85" fill="#b9b9b9" opacity="0.9"/>
<circle cx="50.56" cy="252.04" r="0.85" fill="#b9b9b9" opacity="0.9"/>
<circle cx="60.54" cy="249.42" r="0.85" fill="#b9b9b9" opacity="0.9"/>
<circle cx="61.67" cy="241.86" r="0.85" fill="#b9b9b9" opacity="0.9"/>
<circle cx="62.70" cy="244.10" r="0.85" fill="#b9b9b9" opacity="0.9"/>
<circle cx="58.36" cy="244.79" r="0.85" fill="#b9b9b9" opacity="0.9"/>
<circle cx="56.51" cy="250.10" r="0.85" fill="#b9b9b9" opacity="0.9"/>
<circle cx="50.23" cy="247.42" r="0.85" fill="#b9b9b9" opacity="0.9"/>
<circle cx="55.37" cy="238.16" r="0.85" fill="#b9b9b9" opacity="0.9"/>
<circle cx="52.16" cy="237.55" r="0.85" fill="#b9b9b9" opacity="0.9"/>
<circle cx="53.82" cy="251.62" r="0.85" fill="#b9b9b9" opacity="0.9"/>
<circle cx="60.32" cy="242.51" r="0.85" fill="#b9b9b9" opacity="0.9"/>
<circle cx="54.05" cy="239.53" r="0.85" fill="#b9b9b9" opacity="0.9"/>
<circle cx="68.32" cy="239.31" r="0.85" fill="#b9b9b9" opacity="0.9"/>
<circle cx="62.38" cy="235.84" r="0.85" fill="#b9b9b9" opacity="0.9"/>
<circle cx="53.84" cy="237.29" r="0.85" fill="#b9b9b9" opacity="0.9"/>
<circle cx="62.75" cy="246.43" r="0.85" fill="#b9b9b9" opacity="0.9"/>
<circle cx="58.64" cy="233.66" r="0.85" fill="#b9b9b9" opacity="0.9"/>
<circle cx="51.77" cy="241.51" r="0.85" fill="#b9b9b9" opacity="0.9"/>
<circle cx="57.58" cy="246.60" r="0.85" fill="#b9b9b9" opacity="0.9"/>
<circle cx="61.62" cy="245.97" r="0.85" fill="#b9b9b9" opacity="0.9"/>
<circle cx="67.21" cy="244.11" r="0.85" fill="#b9b9b9" opacity="0.9"/>
<circle cx="48.88" cy="249.27" r="0.85" fill="#b9b9b9" opacity="0.9"/>
<circle cx="49.66" cy="245.21" r="0.85" fill="#b9b9b9" opacity="0.9"/>
<circle cx="56.64" cy="245.92" r="0.85" fill="#b9b9b9" opacity="0.9"/>
<circle cx="58.04" cy="235.21" r="0.85" fill="#b9b9b9" opacity="0.9"/>
<circle cx="49.89" cy="251.33" r="0.85" fill="#b9b9b9" opacity="0.9"/>
<circle cx="55.57" cy="244.90" r="0.85" fill="#b9b9b9" opacity="0.9"/>
<circle cx="55.82" cy="242.00" r="0.85" fill="#b9b9b9" opacity="0.9"/>
<circle cx="61.59" cy="243.91" r="0.85" fill="#b9b9b9" opacity="0.9"/>
<circle cx="55.78" cy="242.56" r="0.85" fill="#b9b9b9" opacity="0.9"/>
<circle cx="52.82" cy="232.73" r="0.85" fill="#b9b9b9" opacity="0.9"/>
<circle cx="51.45" cy="250.40" r="0.85" fill="#b9b9b9" opacity="0.9"/>
<circle cx="48.62" cy="253.72" r="0.85" fill="#b9b9b9" opacity="0.9"/>
<circle cx="56.30" cy="237.90" r="0.85" fill="#b9b9b9" opacity="0.9"/>
<circle cx="55.27" cy="245.13" r="0.85" fill="#b9b9b9" opacity="0.9"/>
<circle cx="60.50" cy="246.35" r="0.85" fill="#b9b9b9" opacity="0.9"/>
<circle cx="55.87" cy="241.42" r="0.85" fill="#b9b9b9" opacity="0.9"/>
<circle cx="56.18" cy="245.87" r="0.85" fill="#b9b9b9" opacity="0.9"/>
<circle cx="61.71" cy="243.45" r="0.85" fill="#b9b9b9" opacity="0.9"/>
<circle cx="51.28" cy="242.20" r="0.85" fill="#b9b9b9" opacity="0.9"/>
<circle cx="54.05" cy="243.59" r="0.85" fill="#b9b9b9" opacity="0.9"/>
<circle cx="50.51" cy="250.26" r="0.85" fill="#b9b9b9" opacity="0.9"/>
<circle cx="54.38" cy="248.38" r="0.85" fill="#b9b9b9" opacity="0.9"/>
<circle cx="59.64" cy="240.92" r="0.85" fill="#b9b9b9" opacity="0.9"/>
<circle cx="70.20" cy="232.74" r="0.85" fill="#b9b9b9" opacity="0.9"/>
<circle cx="63.64" cy="240.82" r="0.85" fill="#b9b9b9" opacity="0.9"/>
<circle cx="60.72" cy="228.26" r="0.85" fill="#b9b9b9" opacity="0.9"/>
<circle cx="53.04" cy="250.34" r="0.85" fill="#b9b9b9" opacity="0.9"/>
<circle cx="63.40" cy="254.29" r="0.85" fill="#b9b9b9" opacity="0.9"/>
<circle cx="60.51" cy="250.35" r="0.85" fill="#b9b9b9" opacity="0.9"/>
<circle cx="62.68" cy="246.56" r="0.85" fill="#b9b9b9" opacity="0.9"/>
<circle cx="59.87" cy="242.27" r="0.85" fill="#b9b9b9" opacity="0.9"/>
<circle cx="58.76" cy="237.67" r="0.85" fill="#b9b9b9" opacity="0.9"/>
<circle cx="62.73" cy="234.74" r="0.85" fill="#b9b9b9" opacity="0.9"/>
<circle cx="61.09" cy="254.91" r="0.85" fill="#b9b9b9" opacity="0.9"/>
<circle cx="55.83" cy="246.67" r="0.85" fill="#b9b9b9" opacity="0.9"/>
<circle cx="63.88" cy="240.05" r="0.85" fill="#b9b9b9" opacity="0.9"/>
<circle cx="52.73" cy="250.67" r="0.85" fill="#b9b9b9" opacity="0.9"/>
<circle cx="61.33" cy="246.26" r="0.85" fill="#b9b9b9" opacity="0.9"/>
<circle cx="54.72" cy="257.97" r="0.85" fill="#b9b9b9" opacity="0.9"/>
<circle cx="66.79" cy="237.59" r="0.85" fill="#b9b9b9" opacity="0.9"/>
<circle cx="58.14" cy="242.07" r="0.85" fill="#b9b9b9" opacity="0.9"/>
<circle cx="64.46" cy="235.19" r="0.85" fill="#b9b9b9" opacity="0.9"/>
<circle cx="60.43" cy="239.87" r="0.85" fill="#b9b9b9" opacity="0.9"/>
<circle cx="53.94" cy="252.42" r="0.85" fill="#b9b9b9" opacity="0.9"/>
<circle cx="64.82" cy="239.05" r="0.85" fill="#b9b9b9" opacity="0.9"/>
<circle cx="54.14" cy="252.81" r="0.85" fill="#b9b9b9" opacity="0.9"/>
<circle cx="57.19" cy="247.29" r="0.85" fill="#b9b9b9" opacity="0.9"/>
<circle cx="67.29" cy="243.85" r="0.85" fill="#b9b9b9" opacity="0.9"/>
<circle cx="56.83" cy="259.41" r="0.85" fill="#b9b9b9" opacity="0.9"/>
<circle cx="58.06" cy="249.41" r="0.85" fill="#b9b9b9" opacity="0.9"/>
<circle cx="53.29" cy="248.38" r="0.85" fill="#b9b9b9" opacity="0.9"/>
<circle cx="63.56" cy="232.87" r="0.85" fill="#b9b9b9" opacity="0.9"/>
<circle cx="63.37" cy="237.56" r="0.85" fill="#b9b9b9" opacity="0.9"/>
<circle cx="56.37" cy="244.23" r="0.85" fill="#b9b9b9" opacity="0.9"/>
<circle cx="55.09" cy="240.64" r="0.85" fill="#b9b9b9" opacity="0.9"/>
<circle cx="55.51" cy="238.19" r="0.85" fill="#b9b9b9" opacity="0.9"/>
<circle cx="57.06" cy="247.39" r="0.85" fill="#b9b9b9" opacity="0.9"/>
<circle cx="59.53" cy="242.10" r="0.85" fill="#b9b9b9" opacity="0.9"/>
<circle cx="52.05" cy="250.64" r="0.85" fill="#b9b9b9" opacity="0.9"/>
<circle cx="56.17" cy="255.66" r="0.85" fill="#b9b9b9" opacity="0.9"/>
<circle cx="61.41" cy="241.24" r="0.85" fill="#b9b9b9" opacity="0.9"/>
<circle cx="53.52" cy="244.25" r="0.85" fill="#b9b9b9" opacity="0.9"/>
<circle cx="51.24" cy="248.23" r="0.85" fill="#b9b9b9" opacity="0.9"/>
<circle cx="59.43" cy="246.66" r="0.85" fill="#b9b9b9" opacity="0.9"/>
<circle cx="62.92" cy="253.26" r="0.85" fill="#b9b9b9" opacity="0.9"/>
<circle cx="53.03" cy="248.95" r="0.85" fill="#b9b9b9" opacity="0.9"/>
<circle cx="54.28" cy="248.85" r="0.85" fill="#b9b9b9" opacity="0.9"/>
<circle cx="58.48" cy="246.80" r="0.85" fill="#b9b9b9" opacity="0.9"/>
<circle cx="56.15" cy="248.48" r="0.85" fill="#b9b9b9" opacity="0.9"/>
<circle cx="58.33" cy="249.10" r="0.85" fill="#b9b9b9" opacity="0.9"/>
<circle cx="55.85" cy="240.35" r="0.85" fill="#b9b9b9" opacity="0.9"/>
<circle cx="51.79" cy="253.65" r="0.85" fill="#b9b9b9" opacity="0.9"/>
<circle cx="54.09" cy="251.79" r="0.85" fill="#b9b9b9" opacity="0.9"/>
<circle cx="61.79" cy="243.45" r="0.85" fill="#b9b9b9" opacity="0.9"/>
<circle cx="59.92" cy="242.54" r="0.85" fill="#b9b9b9" opacity="0.9"/>
<circle cx="48.89" cy="252.11" r="0.85" fill="#b9b9b9" opacity="0.9"/>
<circle cx="59.10" cy="240.67" r="0.85" fill="#b9b9b9" opacity="0.9"/>
<circle cx="57.42" cy="249.72" r="0.85" fill="#b9b9b9" opacity="0.9"/>
<circle cx="52.78" cy="252.91" r="0.85" fill="#b9b9b9" opacity="0.9"/>
<circle cx="67.24" cy="233.79" r="0.85" fill="#b9b9b9" opacity="0.9"/>
<circle cx="57.77" cy="244.04" r="0.85" fill="#b9b9b9" opacity="0.9"/>
<circle cx="66.41" cy="239.69" r="0.85" fill="#b9b9b9" opacity="0.9"/>
<circle cx="61.48" cy="237.74" r="0.85" fill="#b9b9b9" opacity="0.9"/>
<circle cx="56.99" cy="245.53" r="0.85" fill="#b9b9b9" opacity="0.9"/>
<circle cx="60.22" cy="232.44" r="0.85" fill="#b9b9b9" opacity="0.9"/>
<circle cx="61.26" cy="241.27" r="0.85" fill="#b9b9b9" opacity="0.9"/>
<circle cx="60.14" cy="245.18" r="0.85" fill="#b9b9b9" opacity="0.9"/>
<circle cx="48.15" cy="251.63" r="0.85" fill="#b9b9b9" opacity="0.9"/>
<circle cx="65.07" cy="235.46" r="0.85" fill="#b9b9b9" opacity="0.9"/>
<circle cx="49.54" cy="243.61" r="0.85" fill="#b9b9b9" opacity="0.9"/>
<circle cx="50.42" cy="253.04" r="0.85" fill="#b9b9b9" opacity="0.9"/>
<circle cx="67.43" cy="239.52" r="0.85" fill="#b9b9b9" opacity="0.9"/>
<circle cx="61.20" cy="255.49" r="0.85" fill="#b9b9b9" opacity="0.9"/>
<circle cx="53.28" cy="244.62" r="0.85" fill="#b9b9b9" opacity="0.9"/>
<circle cx="60.82" cy="245.71" r="0.85" fill="#b9b9b9" opacity="0.9"/>
<circle cx="49.81" cy="244.52" r="0.85" fill="#b9b9b9" opacity="0.9"/>
<circle cx="59.08" cy="245.34" r="0.85" fill="#b9b9b9" opacity="0.9"/>
<circle cx="49.28" cy="250.76" r="0.85" fill="#b9b9b9" opacity="0.9"/>
<circle cx="54.50" cy="250.41" r="0.85" fill="#b9b9b9" opacity="0.9"/>
<circle cx="56.32" cy="245.63" r="0.85" fill="#b9b9b9" opacity="0.9"/>
<circle cx="56.31" cy="252.46" r="0.85" fill="#b9b9b9" opacity="0.9"/>
<circle cx="64.73" cy="236.99" r="0.85" fill="#b9b9b9" opacity="0.9"/>
<circle cx="61.10" cy="237.65" r="0.85" fill="#b9b9b9" opacity="0.9"/>
<circle cx="58.42" cy="248.90" r="0.85" fill="#b9b9b9" opacity="0.9"/>
<circle cx="65.42" cy="236.32" r="0.85" fill="#b9b9b9" opacity="0.9"/>
<circle cx="56.91" cy="246.84" r="0.85" fill="#b9b9b9" opacity="0.9"/>
<circle cx="48.43" cy="252.77" r="0.85" fill="#b9b9b9" opacity="0.9"/>
<circle cx="53.63" cy="250.60" r="0.85" fill="#b9b9b9" opacity="0.9"/>
<circle cx="48.17" cy="241.04" r="0.85" fill="#b9b9b9" opacity="0.9"/>
<circle cx="57.63" cy="246.62" r="0.85" fill="#b9b9b9" opacity="0.9"/>
<circle cx="54.98" cy="252.58" r="0.85" fill="#b9b9b9" opacity="0.9"/>
<circle cx="54.79" cy="243.78" r="0.85" fill="#b9b9b9" opacity="0.9"/>
<circle cx="57.99" cy="235.37" r="0.85" fill="#b9b9b9" opacity="0.9"/>
<circle cx="53.15" cy="248.65" r="0.85" fill="#b9b9b9" opacity="0.9"/>
<circle cx="61.83" cy="240.61" r="0.85" fill="#b9b9b9" opacity="0.9"/>
<circle cx="58.10" cy="240.74" r="0.85" fill="#b9b9b9" opacity="0.9"/>
<circle cx="60.85" cy="252.37" r="0.85" fill="#b9b9b9" opacity="0.9"/>
<circle cx="53.39" cy="248.68" r="0.85" fill="#b9b9b9" opacity="0.9"/>
<circle cx="59.33" cy="249.79" r="0.85" fill="#b9b9b9" opacity="0.9"/>
<circle cx="61.57" cy="246.57" r="0.85" fill="#b9b9b9" opacity="0.9"/>
<circle cx="63.87" cy="255.66" r="0.85" fill="#b9b9b9" opacity="0.9"/>
<circle cx="58.59" cy="245.79" r="0.85" fill="#b9b9b9" opacity="0.9"/>
<circle cx="62.93" cy="242.88" r="0.85" fill="#b9b9b9" opacity="0.9"/>
<circle cx="65.26" cy="231.32" r="0.85" fill="#b9b9b9" opacity="0.9"/>
<circle cx="50.79" cy="230.08" r="0.85" fill="#b9b9b9" opacity="0.9"/>
<circle cx="61.37" cy="239.74" r="0.85" fill="#b9b9b9" opacity="0.9"/>
<circle cx="65.04" cy="251.84" r="0.85" fill="#b9b9b9" opacity="0.9"/>
<circle cx="56.76" cy="244.26" r="0.85" fill="#b9b9b9" opacity="0.9"/>
<circle cx="53.20" cy="243.71" r="0.85" fill="#b9b9b9" opacity="0.9"/>
<circle cx="54.21" cy="251.72" r="0.85" fill="#b9b9b9" opacity="0.9"/>
<circle cx="57.39" cy="245.65" r="0.85" fill="#b9b9b9" opacity="0.9"/>
<circle cx="57.19" cy="250.90" r="0.85" fill="#b9b9b9" opacity="0.9"/>
<circle cx="59.79" cy="242.42" r="0.85" fill="#b9b9b9" opacity="0.9"/>
<circle cx="60.77" cy="241.55" r="0.85" fill="#b9b9b9" opacity="0.9"/>
<circle cx="52.16" cy="258.31" r="0.85" fill="#b9b9b9" opacity="0.9"/>
<circle cx="58.65" cy="238.48" r="0.85" fill="#b9b9b9" opacity="0.9"/>
<circle cx="63.77" cy="242.05" r="0.85" fill="#b9b9b9" opacity="0.9"/>
<circle cx="60.10" cy="248.36" r="0.85" fill="#b9b9b9" opacity="0.9"/>
<circle cx="58.07" cy="243.80" r="0.85" fill="#b9b9b9" opacity="0.9"/>
<circle cx="49.29" cy="257.79" r="0.85" fill="#b9b9b9" opacity="0.9"/>
<circle cx="56.93" cy="243.92" r="0.85" fill="#b9b9b9" opacity="0.9"/>
<circle cx="59.23" cy="244.21" r="0.85" fill="#b9b9b9" opacity="0.9"/>
<circle cx="60.57" cy="240.40" r="0.85" fill="#b9b9b9" opacity="0.9"/>
<circle cx="54.32" cy="234.98" r="0.85" fill="#b9b9b9" opacity="0.9"/>
<circle cx="55.46" cy="250.91" r="0.85" fill="#b9b9b9" opacity="0.9"/>
<circle cx="64.42" cy="237.26" r="0.85" fill="#b9b9b9" opacity="0.9"/>
<circle cx="58.30" cy="254.00" r="0.85" fill="#b9b9b9" opacity="0.9"/>
<circle cx="56.09" cy="250.73" r="0.85" fill="#b9b9b9" opacity="0.9"/>
<circle cx="66.88" cy="237.64" r="0.85" fill="#b9b9b9" opacity="0.9"/>
<circle cx="63.36" cy="236.06" r="0.85" fill="#b9b9b9" opacity="0.9"/>
<circle cx="58.21" cy="244.12" r="0.85" fill="#b9b9b9" opacity="0.9"/>
<circle cx="59.12" cy="250.60" r="0.85" fill="#b9b9b9" opacity="0.9"/>
<circle cx="70.16" cy="230.70" r="0.85" fill="#b9b9b9" opacity="0.9"/>
<circle cx="54.36" cy="250.75" r="0.85" fill="#b9b9b9" opacity="0.9"/>
<circle cx="51.58" cy="253.05" r="0.85" fill="#b9b9b9" opacity="0.9"/>
<circle cx="60.08" cy="241.37" r="0.85" fill="#b9b9b9" opacity="0.9"/>
<circle cx="58.32" cy="235.20" r="0.85" fill="#b9b9b9" opacity="0.9"/>
<circle cx="59.65" cy="234.13" r="0.85" fill="#b9b9b9" opacity="0.9"/>
<circle cx="52.39" cy="246.06" r="0.85" fill="#b9b9b9" opacity="0.9"/>
<circle cx="55.80" cy="251.72" r="0.85" fill="#b9b9b9" opacity="0.9"/>
<circle cx="57.10" cy="243.12" r="0.85" fill="#b9b9b9" opacity="0.9"/>
<circle cx="62.15" cy="250.80" r="0.85" fill="#b9b9b9" opacity="0.9"/>
<circle cx="57.57" cy="247.30" r="0.85" fill="#b9b9b9" opacity="0.9"/>
<circle cx="64.61" cy="240.89" r="0.85" fill="#b9b9b9" opacity="0.9"/>
<circle cx="79.58" cy="220.00" r="0.85" fill="#8fc8e0" opacity="0.95"/>
<circle cx="59.66" cy="237.13" r="0.85" fill="#8fc8e0" opacity="0.95"/>
<circle cx="71.47" cy="224.14" r="0.85" fill="#8fc8e0" opacity="0.95"/>
<circle cx="63.01" cy="225.82" r="0.85" fill="#8fc8e0" opacity="0.95"/>
<circle cx="76.29" cy="219.08" r="0.85" fill="#8fc8e0" opacity="0.95"/>
<circle cx="59.32" cy="232.33" r="0.85" fill="#8fc8e0" opacity="0.95"/>
<circle cx="66.70" cy="229.62" r="0.85" fill="#8fc8e0" opacity="0.95"/>
<circle cx="60.21" cy="235.23" r="0.85" fill="#8fc8e0" opacity="0.95"/>
<circle cx="61.46" cy="231.21" r="0.85" fill="#8fc8e0" opacity="0.95"/>
<circle cx="57.21" cy="236.30" r="0.85" fill="#8fc8e0" opacity="0.95"/>
<circle cx="68.57" cy="232.63" r="0.85" fill="#8fc8e0" opacity="0.95"/>
<circle cx="72.92" cy="224.40" r="0.85" fill="#8fc8e0" opacity="0.95"/>
<circle cx="69.22" cy="222.61" r="0.85" fill="#8fc8e0" opacity="0.95"/>
<circle cx="80.43" cy="220.23" r="0.85" fill="#8fc8e0" opacity="0.95"/>
<circle cx="60.63" cy="241.96" r="0.85" fill="#8fc8e0" opacity="0.95"/>
<circle cx="72.16" cy="224.56" r="0.85" fill="#8fc8e0" opacity="0.95"/>
<circle cx="75.34" cy="221.24" r="0.85" fill="#8fc8e0" opacity="0.95"/>
<circle cx="76.05" cy="221.68" r="0.85" fill="#8fc8e0" opacity="0.95"/>
<circle cx="69.02" cy="224.11" r="0.85" fill="#8fc8e0" opacity="0.95"/>
<circle cx="65.57" cy="231.38" r="0.85" fill="#8fc8e0" opacity="0.95"/>
<circle cx="58.66" cy="229.39" r="0.85" fill="#8fc8e0" opacity="0.95"/>
<circle cx="62.51" cy="233.09" r="0.85" fill="#8fc8e0" opacity="0.95"/>
<circle cx="73.25" cy="226.40" r="0.85" fill="#8fc8e0" opacity="0.95"/>
<circle cx="61.17" cy="229.27" r="0.85" fill="#8fc8e0" opacity="0.95"/>
<circle cx="58.73" cy="237.31" r="0.85" fill="#8fc8e0" opacity="0.95"/>
<circle cx="68.43" cy="225.41" r="0.85" fill="#8fc8e0" opacity="0.95"/>
<circle cx="58.41" cy="230.74" r="0.85" fill="#8fc8e0" opacity="0.95"/>
<circle cx="60.13" cy="238.35" r="0.85" fill="#8fc8e0" opacity="0.95"/>
<circle cx="60.92" cy="229.71" r="0.85" fill="#8fc8e0" opacity="0.95"/>
<circle cx="71.27" cy="221.29" r="0.85" fill="#8fc8e0" opacity="0.95"/>
<circle cx="65.69" cy="234.47" r="0.85" fill="#8fc8e0" opacity="0.95"/>
<circle cx="65.67" cy="233.13" r="0.85" fill="#8fc8e0" opacity="0.95"/>
<circle cx="67.00" cy="226.01" r="0.85" fill="#8fc8e0" opacity="0.95"/>
<circle cx="76.17" cy="220.63" r="0.85" fill="#8fc8e0" opacity="0.95"/>
<circle cx="52.09" cy="235.06" r="0.85" fill="#8fc8e0" opacity="0.95"/>
<circle cx="81.26" cy="221.91" r="0.85" fill="#8fc8e0" opacity="0.95"/>
<circle cx="63.15" cy="229.72" r="0.85" fill="#8fc8e0" opacity="0.95"/>
<circle cx="56.68" cy="230.50" r="0.85" fill="#8fc8e0" opacity="0.95"/>
<circle cx="53.36" cy="234.99" r="0.85" fill="#8fc8e0" opacity="0.95"/>
<circle cx="80.18" cy="220.10" r="0.85" fill="#8fc8e0" opacity="0.95"/>
<circle cx="81.99" cy="218.54" r="0.85" fill="#8fc8e0" opacity="0.95"/>
<circle cx="58.68" cy="234.37" r="0.85" fill="#8fc8e0" opacity="0.95"/>
<circle cx="57.19" cy="236.85" r="0.85" fill="#8fc8e0" opacity="0.95"/>
<circle cx="53.67" cy="237.89" r="0.85" fill="#8fc8e0" opacity="0.95"/>
<circle cx="53.23" cy="237.24" r="0.85" fill="#8fc8e0" opacity="0.95"/>
<circle cx="46.21" cy="244.37" r="0.85" fill="#8fc8e0" opacity="0.95"/>
<circle cx="53.81" cy="237.77" r="0.85" fill="#8fc8e0" opacity="0.95"/>
<circle cx="53.40" cy="243.96" r="0.85" fill="#8fc8e0" opacity="0.95"/>
<circle cx="48.69" cy="239.56" r="0.85" fill="#8fc8e0" opacity="0.95"/>
<circle cx="54.76" cy="242.10" r="0.85" fill="#8fc8e0" opacity="0.95"/>
<circle cx="51.26" cy="231.57" r="0.85" fill="#8fc8e0" opacity="0.95"/>
<circle cx="57.57" cy="241.31" r="0.85" fill="#8fc8e0" opacity="0.95"/>
<circle cx="52.65" cy="238.89" r="0.85" fill="#8fc8e0" opacity="0.95"/>
<circle cx="53.65" cy="238.30" r="0.85" fill="#8fc8e0" opacity="0.95"/>
<circle cx="70.59" cy="233.05" r="0.85" fill="#3aa035" opacity="0.95"/>
<circle cx="66.80" cy="241.28" r="0.85" fill="#3aa035" opacity="0.95"/>
<circle cx="69.50" cy="235.47" r="0.85" fill="#3aa035" opacity="0.95"/>
<circle cx="73.21" cy="237.68" r="0.85" fill="#3aa035" opacity="0.95"/>
<circle cx="71.74" cy="239.93" r="0.85" fill="#3aa035" opacity="0.95"/>
<circle cx="74.43" cy="230.76" r="0.85" fill="#3aa035" opacity="0.95"/>
<circle cx="71.96" cy="237.25" r="0.85" fill="#3aa035" opacity="0.95"/>
<circle cx="72.26" cy="238.68" r="0.85" fill="#3aa035" opacity="0.95"/>
<circle cx="74.22" cy="236.59" r="0.85" fill="#3aa035" opacity="0.95"/>
<circle cx="65.43" cy="240.56" r="0.85" fill="#3aa035" opacity="0.95"/>
<circle cx="73.77" cy="236.64" r="0.85" fill="#3aa035" opacity="0.95"/>
<circle cx="70.82" cy="238.08" r="0.85" fill="#3aa035" opacity="0.95"/>
<circle cx="79.52" cy="228.77" r="0.85" fill="#3aa035" opacity="0.95"/>
<circle cx="77.77" cy="235.54" r="0.85" fill="#3aa035" opacity="0.95"/>
<circle cx="75.35" cy="234.84" r="0.85" fill="#3aa035" opacity="0.95"/>
<circle cx="67.90" cy="237.76" r="0.85" fill="#3aa035" opacity="0.95"/>
<circle cx="63.73" cy="247.67" r="0.85" fill="#3aa035" opacity="0.95"/>
<circle cx="67.97" cy="241.76" r="0.85" fill="#3aa035" opacity="0.95"/>
<circle cx="77.34" cy="231.73" r="0.85" fill="#3aa035" opacity="0.95"/>
<circle cx="77.84" cy="229.26" r="0.85" fill="#3aa035" opacity="0.95"/>
<circle cx="71.48" cy="236.43" r="0.85" fill="#3aa035" opacity="0.95"/>
<circle cx="69.39" cy="246.74" r="0.85" fill="#3aa035" opacity="0.95"/>
<circle cx="59.33" cy="250.16" r="0.85" fill="#3aa035" opacity="0.95"/>
<circle cx="63.74" cy="257.06" r="0.85" fill="#3aa035" opacity="0.95"/>
<circle cx="63.91" cy="255.63" r="0.85" fill="#3aa035" opacity="0.95"/>
<circle cx="60.05" cy="252.57" r="0.85" fill="#3aa035" opacity="0.95"/>
<circle cx="63.82" cy="252.18" r="0.85" fill="#3aa035" opacity="0.95"/>
<circle cx="57.07" cy="252.00" r="0.85" fill="#3aa035" opacity="0.95"/>
<circle cx="67.83" cy="257.85" r="0.85" fill="#3aa035" opacity="0.95"/>
<circle cx="59.88" cy="252.54" r="0.85" fill="#3aa035" opacity="0.95"/>
<circle cx="62.18" cy="252.50" r="0.85" fill="#3aa035" opacity="0.95"/>
<circle cx="64.88" cy="253.84" r="0.85" fill="#3aa035" opacity="0.95"/>
<circle cx="69.30" cy="239.31" r="0.85" fill="#3aa035"/>
<circle cx="69.90" cy="238.22" r="0.85" fill="#3aa035"/>
<circle cx="70.58" cy="237.69" r="0.85" fill="#3aa035"/>
<circle cx="70.99" cy="237.31" r="0.85" fill="#3aa035"/>
<circle cx="68.39" cy="235.79" r="0.85" fill="#3aa035"/>
<circle cx="61.15" cy="265.07" r="0.75" fill="#9a9a9a" opacity="0.85"/>
<circle cx="56.23" cy="264.80" r="0.75" fill="#6a9a6a" opacity="0.85"/>
<circle cx="51.21" cy="264.86" r="0.75" fill="#9a9a9a" opacity="0.85"/>
<circle cx="61.69" cy="264.97" r="0.75" fill="#6a9a6a" opacity="0.85"/>
<circle cx="59.83" cy="265.16" r="0.75" fill="#9a9a9a" opacity="0.85"/>
<circle cx="52.98" cy="264.89" r="0.75" fill="#6a9a6a" opacity="0.85"/>
<circle cx="62.36" cy="264.81" r="0.75" fill="#9a9a9a" opacity="0.85"/>
<circle cx="50.65" cy="264.94" r="0.75" fill="#6a9a6a" opacity="0.85"/>
<circle cx="52.51" cy="264.94" r="0.75" fill="#9a9a9a" opacity="0.85"/>
<circle cx="54.64" cy="265.03" r="0.75" fill="#6a9a6a" opacity="0.85"/>
<circle cx="61.20" cy="264.88" r="0.75" fill="#9a9a9a" opacity="0.85"/>
<circle cx="61.83" cy="264.99" r="0.75" fill="#6a9a6a" opacity="0.85"/>
<circle cx="53.03" cy="265.17" r="0.75" fill="#9a9a9a" opacity="0.85"/>
<circle cx="54.98" cy="264.86" r="0.75" fill="#6a9a6a" opacity="0.85"/>
<circle cx="52.32" cy="265.06" r="0.75" fill="#9a9a9a" opacity="0.85"/>
<circle cx="66.28" cy="265.11" r="0.75" fill="#6a9a6a" opacity="0.85"/>
<circle cx="57.84" cy="264.91" r="0.75" fill="#9a9a9a" opacity="0.85"/>
<circle cx="50.81" cy="265.06" r="0.75" fill="#6a9a6a" opacity="0.85"/>
<circle cx="60.72" cy="264.94" r="0.75" fill="#9a9a9a" opacity="0.85"/>
<circle cx="62.22" cy="264.98" r="0.75" fill="#6a9a6a" opacity="0.85"/>
<circle cx="67.47" cy="265.09" r="0.75" fill="#9a9a9a" opacity="0.85"/>
<circle cx="55.07" cy="265.16" r="0.75" fill="#6a9a6a" opacity="0.85"/>
<circle cx="51.39" cy="265.01" r="0.75" fill="#9a9a9a" opacity="0.85"/>
<circle cx="57.91" cy="264.90" r="0.75" fill="#6a9a6a" opacity="0.85"/>
<circle cx="51.65" cy="265.11" r="0.75" fill="#9a9a9a" opacity="0.85"/>
<circle cx="50.82" cy="265.02" r="0.75" fill="#6a9a6a" opacity="0.85"/>
<circle cx="67.54" cy="264.86" r="0.75" fill="#9a9a9a" opacity="0.85"/>
<circle cx="54.19" cy="265.04" r="0.75" fill="#6a9a6a" opacity="0.85"/>
<circle cx="59.73" cy="265.06" r="0.75" fill="#9a9a9a" opacity="0.85"/>
<circle cx="65.24" cy="264.87" r="0.75" fill="#6a9a6a" opacity="0.85"/>
<circle cx="56.17" cy="264.92" r="0.75" fill="#9a9a9a" opacity="0.85"/>
<circle cx="51.47" cy="265.16" r="0.75" fill="#6a9a6a" opacity="0.85"/>
<circle cx="64.69" cy="265.09" r="0.75" fill="#9a9a9a" opacity="0.85"/>
<circle cx="50.71" cy="265.14" r="0.75" fill="#6a9a6a" opacity="0.85"/>
<circle cx="64.01" cy="264.99" r="0.75" fill="#9a9a9a" opacity="0.85"/>
<circle cx="63.95" cy="264.98" r="0.75" fill="#6a9a6a" opacity="0.85"/>
<circle cx="54.67" cy="264.84" r="0.75" fill="#9a9a9a" opacity="0.85"/>
<circle cx="54.78" cy="264.82" r="0.75" fill="#6a9a6a" opacity="0.85"/>
<circle cx="56.64" cy="265.10" r="0.75" fill="#9a9a9a" opacity="0.85"/>
<circle cx="63.11" cy="265.14" r="0.75" fill="#6a9a6a" opacity="0.85"/>
<circle cx="63.41" cy="264.91" r="0.75" fill="#9a9a9a" opacity="0.85"/>
<circle cx="60.57" cy="264.97" r="0.75" fill="#6a9a6a" opacity="0.85"/>
<circle cx="64.79" cy="265.01" r="0.75" fill="#9a9a9a" opacity="0.85"/>
<circle cx="55.38" cy="265.06" r="0.75" fill="#6a9a6a" opacity="0.85"/>
<circle cx="67.97" cy="264.89" r="0.75" fill="#9a9a9a" opacity="0.85"/>
<circle cx="66.44" cy="264.81" r="0.75" fill="#6a9a6a" opacity="0.85"/>
<circle cx="55.29" cy="264.89" r="0.75" fill="#9a9a9a" opacity="0.85"/>
<circle cx="63.99" cy="265.18" r="0.75" fill="#6a9a6a" opacity="0.85"/>
<circle cx="64.03" cy="264.93" r="0.75" fill="#9a9a9a" opacity="0.85"/>
<circle cx="66.44" cy="264.93" r="0.75" fill="#6a9a6a" opacity="0.85"/>
<circle cx="70.75" cy="265.16" r="0.75" fill="#9a9a9a" opacity="0.85"/>
<circle cx="74.28" cy="265.08" r="0.75" fill="#6a9a6a" opacity="0.85"/>
<circle cx="74.59" cy="265.19" r="0.75" fill="#9a9a9a" opacity="0.85"/>
<circle cx="72.83" cy="265.14" r="0.75" fill="#6a9a6a" opacity="0.85"/>
<circle cx="74.88" cy="265.14" r="0.75" fill="#9a9a9a" opacity="0.85"/>
<circle cx="72.53" cy="265.09" r="0.75" fill="#6a9a6a" opacity="0.85"/>
<circle cx="73.73" cy="264.92" r="0.75" fill="#9a9a9a" opacity="0.85"/>
<circle cx="70.51" cy="265.05" r="0.75" fill="#6a9a6a" opacity="0.85"/>
<circle cx="69.30" cy="265.16" r="0.75" fill="#9a9a9a" opacity="0.85"/>
<circle cx="69.90" cy="264.81" r="0.75" fill="#6a9a6a" opacity="0.85"/>
<circle cx="41.35" cy="265.00" r="0.7" fill="#c4c4c4"/>
<circle cx="47.10" cy="265.00" r="0.7" fill="#c4c4c4"/>
<circle cx="43.01" cy="265.00" r="0.7" fill="#c4c4c4"/>
<circle cx="41.59" cy="265.00" r="0.7" fill="#c4c4c4"/>
<circle cx="40.80" cy="265.00" r="0.7" fill="#c4c4c4"/>
<circle cx="84.60" cy="214.00" r="0.9" fill="#bbb"/>
<circle cx="81.60" cy="241.00" r="0.9" fill="#777"/>
<line x1="111.5" y1="203.5" x2="111.5" y2="243" stroke="#231f20" stroke-width="1"/>
<line x1="111.1" y1="242.5" x2="125.6" y2="242.5" stroke="#231f20" stroke-width="1"/>
<line x1="109.39999999999999" y1="208.5" x2="111.6" y2="208.5" stroke="#231f20" stroke-width="1"/>
<text x="106.20" y="211.03" font-size="6.2" text-anchor="end" fill="#222" stroke="#222" stroke-width="0.08">3</text>
<line x1="109.39999999999999" y1="219.5" x2="111.6" y2="219.5" stroke="#231f20" stroke-width="1"/>
<text x="106.20" y="221.63" font-size="6.2" text-anchor="end" fill="#222" stroke="#222" stroke-width="0.08">2</text>
<line x1="109.39999999999999" y1="230.5" x2="111.6" y2="230.5" stroke="#231f20" stroke-width="1"/>
<text x="106.20" y="232.23" font-size="6.2" text-anchor="end" fill="#222" stroke="#222" stroke-width="0.08">1</text>
<line x1="109.39999999999999" y1="240.5" x2="111.6" y2="240.5" stroke="#231f20" stroke-width="1"/>
<text x="106.20" y="242.73" font-size="6.2" text-anchor="end" fill="#222" stroke="#222" stroke-width="0.08">0</text>
<text x="98.14" y="221.70" font-size="9.0" text-anchor="middle" textLength="51" lengthAdjust="spacingAndGlyphs" fill="#222" stroke="#222" stroke-width="0.04" transform="rotate(-90 98.14 221.70)">% dynamic clones</text>
<line x1="116.5" y1="242.5" x2="116.5" y2="244.5" stroke="#231f20" stroke-width="1"/>
<line x1="122.5" y1="242.5" x2="122.5" y2="244.5" stroke="#231f20" stroke-width="1"/>
<text x="118.83" y="248.50" font-size="6.2" text-anchor="end" textLength="22.6" lengthAdjust="spacingAndGlyphs" fill="#222" stroke="#222" stroke-width="0.08" transform="rotate(-90 118.83 248.50)">R (n = 8)</text>
<text x="124.63" y="248.50" font-size="6.2" text-anchor="end" textLength="33.3" lengthAdjust="spacingAndGlyphs" fill="#222" stroke="#222" stroke-width="0.08" transform="rotate(-90 124.63 248.50)">NR (n = 10)</text>
<line x1="115.3" y1="201.5" x2="122.7" y2="201.5" stroke="#231f20" stroke-width="0.8"/>
<line x1="115.5" y1="201.5" x2="115.5" y2="202.7" stroke="#231f20" stroke-width="0.8"/>
<line x1="122.5" y1="201.5" x2="122.5" y2="202.7" stroke="#231f20" stroke-width="0.8"/>
<text x="119.00" y="200.02" font-size="5.6" text-anchor="middle" fill="#222" stroke="#222" stroke-width="0.08">0.1</text>
<circle cx="116.14" cy="230.50" r="0.7" fill="#1f5a99"/>
<circle cx="116.79" cy="233.00" r="0.7" fill="#1f5a99"/>
<circle cx="116.73" cy="235.00" r="0.7" fill="#1f5a99"/>
<circle cx="116.80" cy="236.00" r="0.7" fill="#1f5a99"/>
<circle cx="116.84" cy="237.50" r="0.7" fill="#1f5a99"/>
<circle cx="116.17" cy="239.00" r="0.7" fill="#1f5a99"/>
<circle cx="116.69" cy="240.00" r="0.7" fill="#1f5a99"/>
<circle cx="116.46" cy="241.00" r="0.7" fill="#1f5a99"/>
<circle cx="122.72" cy="206.50" r="0.7" fill="#c8102e"/>
<circle cx="122.72" cy="217.00" r="0.7" fill="#c8102e"/>
<circle cx="122.79" cy="224.00" r="0.7" fill="#c8102e"/>
<circle cx="121.97" cy="225.50" r="0.7" fill="#c8102e"/>
<circle cx="122.77" cy="226.50" r="0.7" fill="#c8102e"/>
<circle cx="122.81" cy="228.00" r="0.7" fill="#c8102e"/>
<circle cx="122.84" cy="232.00" r="0.7" fill="#c8102e"/>
<circle cx="122.01" cy="239.50" r="0.7" fill="#c8102e"/>
<circle cx="122.11" cy="241.00" r="0.7" fill="#c8102e"/>
<line x1="114.6" y1="237.5" x2="118.6" y2="237.5" stroke="#1f5a99" stroke-width="1.0"/>
<line x1="120.39999999999999" y1="226.5" x2="124.39999999999999" y2="226.5" stroke="#c8102e" stroke-width="1.0"/>
<line x1="163.5" y1="203" x2="163.5" y2="268" stroke="#231f20" stroke-width="1"/>
<line x1="163.7" y1="267.5" x2="224.2" y2="267.5" stroke="#231f20" stroke-width="1"/>
<line x1="161.5" y1="220.5" x2="163.7" y2="220.5" stroke="#231f20" stroke-width="1"/>
<text x="158.10" y="222.63" font-size="6.2" text-anchor="end" fill="#222" stroke="#222" stroke-width="0.08">10</text>
<line x1="161.5" y1="235.5" x2="163.7" y2="235.5" stroke="#231f20" stroke-width="1"/>
<text x="158.10" y="237.73" font-size="6.2" text-anchor="end" fill="#222" stroke="#222" stroke-width="0.08">1</text>
<line x1="161.5" y1="250.5" x2="163.7" y2="250.5" stroke="#231f20" stroke-width="1"/>
<text x="158.10" y="252.53" font-size="6.2" text-anchor="end" fill="#222" stroke="#222" stroke-width="0.08">0.1</text>
<line x1="161.5" y1="264.5" x2="163.7" y2="264.5" stroke="#231f20" stroke-width="1"/>
<text x="158.10" y="267.03" font-size="6.2" text-anchor="end" fill="#222" stroke="#222" stroke-width="0.08">ND</text>
<line x1="166.5" y1="267.5" x2="166.5" y2="270.2" stroke="#231f20" stroke-width="1"/>
<text x="166.60" y="279.43" font-size="6.2" text-anchor="middle" fill="#222" stroke="#222" stroke-width="0.08">ND</text>
<line x1="179.5" y1="267.5" x2="179.5" y2="270.2" stroke="#231f20" stroke-width="1"/>
<text x="179.30" y="279.43" font-size="6.2" text-anchor="middle" fill="#222" stroke="#222" stroke-width="0.08">0.1</text>
<line x1="194.5" y1="267.5" x2="194.5" y2="270.2" stroke="#231f20" stroke-width="1"/>
<text x="194.20" y="279.43" font-size="6.2" text-anchor="middle" fill="#222" stroke="#222" stroke-width="0.08">1</text>
<line x1="208.5" y1="267.5" x2="208.5" y2="270.2" stroke="#231f20" stroke-width="1"/>
<text x="208.40" y="279.43" font-size="6.2" text-anchor="middle" fill="#222" stroke="#222" stroke-width="0.08">10</text>
<text x="194.30" y="291.64" font-size="9.0" text-anchor="middle" textLength="36" lengthAdjust="spacingAndGlyphs" fill="#222" stroke="#222" stroke-width="0.04">% Screening</text>
<text x="142.94" y="235.50" font-size="9.0" text-anchor="middle" textLength="41.4" lengthAdjust="spacingAndGlyphs" fill="#222" stroke="#222" stroke-width="0.04" transform="rotate(-90 142.94 235.50)">% Ipilimumab</text>
<circle cx="166.46" cy="228.13" r="0.75" fill="#6e2e90" opacity="0.9"/>
<circle cx="166.69" cy="245.42" r="0.75" fill="#6e2e90" opacity="0.9"/>
<circle cx="166.70" cy="240.40" r="0.75" fill="#6e2e90" opacity="0.9"/>
<circle cx="166.54" cy="240.34" r="0.75" fill="#6e2e90" opacity="0.9"/>
<circle cx="166.48" cy="227.85" r="0.75" fill="#6e2e90" opacity="0.9"/>
<circle cx="166.51" cy="243.30" r="0.75" fill="#6e2e90" opacity="0.9"/>
<circle cx="166.58" cy="233.00" r="0.75" fill="#6e2e90" opacity="0.9"/>
<circle cx="166.53" cy="225.99" r="0.75" fill="#6e2e90" opacity="0.9"/>
<circle cx="166.66" cy="232.14" r="0.75" fill="#6e2e90" opacity="0.9"/>
<circle cx="166.55" cy="234.15" r="0.75" fill="#6e2e90" opacity="0.9"/>
<circle cx="166.60" cy="248.15" r="0.75" fill="#6e2e90" opacity="0.9"/>
<circle cx="166.64" cy="245.51" r="0.75" fill="#6e2e90" opacity="0.9"/>
<circle cx="166.57" cy="226.23" r="0.75" fill="#6e2e90" opacity="0.9"/>
<circle cx="166.68" cy="235.76" r="0.75" fill="#6e2e90" opacity="0.9"/>
<circle cx="166.66" cy="233.65" r="0.75" fill="#6e2e90" opacity="0.9"/>
<circle cx="166.51" cy="238.14" r="0.75" fill="#6e2e90" opacity="0.9"/>
<circle cx="166.48" cy="245.76" r="0.75" fill="#6e2e90" opacity="0.9"/>
<circle cx="166.50" cy="244.77" r="0.75" fill="#6e2e90" opacity="0.9"/>
<circle cx="166.51" cy="225.53" r="0.75" fill="#6e2e90" opacity="0.9"/>
<circle cx="166.74" cy="243.41" r="0.75" fill="#6e2e90" opacity="0.9"/>
<circle cx="166.60" cy="225.60" r="0.75" fill="#6e2e90" opacity="0.9"/>
<circle cx="166.69" cy="237.05" r="0.75" fill="#6e2e90" opacity="0.9"/>
<circle cx="166.60" cy="229.84" r="0.75" fill="#6e2e90" opacity="0.9"/>
<circle cx="166.70" cy="233.66" r="0.75" fill="#6e2e90" opacity="0.9"/>
<circle cx="166.73" cy="231.62" r="0.75" fill="#6e2e90" opacity="0.9"/>
<circle cx="166.51" cy="232.17" r="0.75" fill="#6e2e90" opacity="0.9"/>
<circle cx="166.60" cy="241.94" r="0.75" fill="#6e2e90" opacity="0.9"/>
<circle cx="166.64" cy="228.08" r="0.75" fill="#6e2e90" opacity="0.9"/>
<circle cx="166.69" cy="227.40" r="0.75" fill="#6e2e90" opacity="0.9"/>
<circle cx="166.69" cy="241.88" r="0.75" fill="#6e2e90" opacity="0.9"/>
<circle cx="166.56" cy="240.26" r="0.75" fill="#6e2e90" opacity="0.9"/>
<circle cx="166.57" cy="234.93" r="0.75" fill="#6e2e90" opacity="0.9"/>
<circle cx="166.48" cy="246.42" r="0.75" fill="#6e2e90" opacity="0.9"/>
<circle cx="166.46" cy="246.38" r="0.75" fill="#6e2e90" opacity="0.9"/>
<circle cx="166.53" cy="230.34" r="0.75" fill="#6e2e90" opacity="0.9"/>
<circle cx="166.60" cy="246.68" r="0.75" fill="#6e2e90" opacity="0.9"/>
<circle cx="166.72" cy="234.41" r="0.75" fill="#6e2e90" opacity="0.9"/>
<circle cx="166.59" cy="230.99" r="0.75" fill="#6e2e90" opacity="0.9"/>
<circle cx="166.68" cy="237.99" r="0.75" fill="#6e2e90" opacity="0.9"/>
<circle cx="166.64" cy="243.20" r="0.75" fill="#6e2e90" opacity="0.9"/>
<circle cx="166.55" cy="233.69" r="0.75" fill="#6e2e90" opacity="0.9"/>
<circle cx="166.70" cy="229.15" r="0.75" fill="#6e2e90" opacity="0.9"/>
<circle cx="166.67" cy="241.06" r="0.75" fill="#6e2e90" opacity="0.9"/>
<circle cx="166.58" cy="229.48" r="0.75" fill="#6e2e90" opacity="0.9"/>
<circle cx="166.62" cy="243.68" r="0.75" fill="#6e2e90" opacity="0.9"/>
<circle cx="166.59" cy="228.46" r="0.75" fill="#6e2e90" opacity="0.9"/>
<circle cx="166.52" cy="246.30" r="0.75" fill="#6e2e90" opacity="0.9"/>
<circle cx="166.54" cy="230.00" r="0.75" fill="#6e2e90" opacity="0.9"/>
<circle cx="166.70" cy="242.02" r="0.75" fill="#6e2e90" opacity="0.9"/>
<circle cx="166.50" cy="229.13" r="0.75" fill="#6e2e90" opacity="0.9"/>
<circle cx="166.55" cy="231.32" r="0.75" fill="#6e2e90" opacity="0.9"/>
<circle cx="166.50" cy="237.77" r="0.75" fill="#6e2e90" opacity="0.9"/>
<circle cx="166.51" cy="233.21" r="0.75" fill="#6e2e90" opacity="0.9"/>
<circle cx="166.67" cy="248.42" r="0.75" fill="#6e2e90" opacity="0.9"/>
<circle cx="166.74" cy="227.89" r="0.75" fill="#6e2e90" opacity="0.9"/>
<circle cx="166.57" cy="227.89" r="0.75" fill="#6e2e90" opacity="0.9"/>
<circle cx="166.69" cy="248.62" r="0.75" fill="#6e2e90" opacity="0.9"/>
<circle cx="166.58" cy="242.73" r="0.75" fill="#6e2e90" opacity="0.9"/>
<circle cx="166.64" cy="230.11" r="0.75" fill="#6e2e90" opacity="0.9"/>
<circle cx="166.51" cy="228.01" r="0.75" fill="#6e2e90" opacity="0.9"/>
<circle cx="166.60" cy="254.05" r="0.6" fill="#cbbcdc" opacity="0.8"/>
<circle cx="166.60" cy="249.44" r="0.6" fill="#cbbcdc" opacity="0.8"/>
<circle cx="166.60" cy="254.19" r="0.6" fill="#cbbcdc" opacity="0.8"/>
<circle cx="166.60" cy="259.28" r="0.6" fill="#cbbcdc" opacity="0.8"/>
<circle cx="166.60" cy="258.01" r="0.6" fill="#cbbcdc" opacity="0.8"/>
<circle cx="166.60" cy="255.51" r="0.6" fill="#cbbcdc" opacity="0.8"/>
<circle cx="166.60" cy="257.22" r="0.6" fill="#cbbcdc" opacity="0.8"/>
<circle cx="166.60" cy="255.02" r="0.6" fill="#cbbcdc" opacity="0.8"/>
<circle cx="166.60" cy="250.84" r="0.6" fill="#cbbcdc" opacity="0.8"/>
<circle cx="166.60" cy="256.85" r="0.6" fill="#cbbcdc" opacity="0.8"/>
<circle cx="166.60" cy="221.90" r="0.9" fill="#333"/>
<circle cx="170.66" cy="256.19" r="0.75" fill="#bdbdbd" opacity="0.9"/>
<circle cx="170.86" cy="245.62" r="0.75" fill="#bdbdbd" opacity="0.9"/>
<circle cx="170.73" cy="256.47" r="0.75" fill="#bdbdbd" opacity="0.9"/>
<circle cx="170.67" cy="238.77" r="0.75" fill="#bdbdbd" opacity="0.9"/>
<circle cx="170.79" cy="260.92" r="0.75" fill="#bdbdbd" opacity="0.9"/>
<circle cx="170.81" cy="254.80" r="0.75" fill="#bdbdbd" opacity="0.9"/>
<circle cx="170.84" cy="254.11" r="0.75" fill="#bdbdbd" opacity="0.9"/>
<circle cx="170.76" cy="246.43" r="0.75" fill="#bdbdbd" opacity="0.9"/>
<circle cx="170.63" cy="252.36" r="0.75" fill="#bdbdbd" opacity="0.9"/>
<circle cx="170.54" cy="245.27" r="0.75" fill="#bdbdbd" opacity="0.9"/>
<circle cx="170.81" cy="255.25" r="0.75" fill="#bdbdbd" opacity="0.9"/>
<circle cx="170.75" cy="239.50" r="0.75" fill="#bdbdbd" opacity="0.9"/>
<circle cx="174.47" cy="246.48" r="0.75" fill="#bdbdbd" opacity="0.9"/>
<circle cx="174.55" cy="244.92" r="0.75" fill="#bdbdbd" opacity="0.9"/>
<circle cx="174.57" cy="262.63" r="0.75" fill="#bdbdbd" opacity="0.9"/>
<circle cx="174.37" cy="253.25" r="0.75" fill="#bdbdbd" opacity="0.9"/>
<circle cx="174.61" cy="244.22" r="0.75" fill="#bdbdbd" opacity="0.9"/>
<circle cx="174.50" cy="264.14" r="0.75" fill="#bdbdbd" opacity="0.9"/>
<circle cx="174.32" cy="249.47" r="0.75" fill="#bdbdbd" opacity="0.9"/>
<circle cx="174.36" cy="257.58" r="0.75" fill="#bdbdbd" opacity="0.9"/>
<circle cx="174.68" cy="248.65" r="0.75" fill="#bdbdbd" opacity="0.9"/>
<circle cx="174.34" cy="250.54" r="0.75" fill="#bdbdbd" opacity="0.9"/>
<circle cx="174.52" cy="255.39" r="0.75" fill="#bdbdbd" opacity="0.9"/>
<circle cx="174.50" cy="252.73" r="0.75" fill="#bdbdbd" opacity="0.9"/>
<circle cx="188.27" cy="237.38" r="0.85" fill="#b9b9b9" opacity="0.9"/>
<circle cx="190.15" cy="251.05" r="0.85" fill="#b9b9b9" opacity="0.9"/>
<circle cx="179.80" cy="257.16" r="0.85" fill="#b9b9b9" opacity="0.9"/>
<circle cx="200.64" cy="245.58" r="0.85" fill="#b9b9b9" opacity="0.9"/>
<circle cx="185.30" cy="247.85" r="0.85" fill="#b9b9b9" opacity="0.9"/>
<circle cx="186.50" cy="251.23" r="0.85" fill="#b9b9b9" opacity="0.9"/>
<circle cx="192.32" cy="240.95" r="0.85" fill="#b9b9b9" opacity="0.9"/>
<circle cx="179.21" cy="255.73" r="0.85" fill="#b9b9b9" opacity="0.9"/>
<circle cx="184.23" cy="250.90" r="0.85" fill="#b9b9b9" opacity="0.9"/>
<circle cx="189.67" cy="252.36" r="0.85" fill="#b9b9b9" opacity="0.9"/>
<circle cx="192.26" cy="237.78" r="0.85" fill="#b9b9b9" opacity="0.9"/>
<circle cx="190.34" cy="252.65" r="0.85" fill="#b9b9b9" opacity="0.9"/>
<circle cx="183.60" cy="250.25" r="0.85" fill="#b9b9b9" opacity="0.9"/>
<circle cx="194.61" cy="246.07" r="0.85" fill="#b9b9b9" opacity="0.9"/>
<circle cx="187.62" cy="236.41" r="0.85" fill="#b9b9b9" opacity="0.9"/>
<circle cx="179.18" cy="252.79" r="0.85" fill="#b9b9b9" opacity="0.9"/>
<circle cx="191.50" cy="256.38" r="0.85" fill="#b9b9b9" opacity="0.9"/>
<circle cx="182.57" cy="255.32" r="0.85" fill="#b9b9b9" opacity="0.9"/>
<circle cx="188.66" cy="233.44" r="0.85" fill="#b9b9b9" opacity="0.9"/>
<circle cx="181.65" cy="250.26" r="0.85" fill="#b9b9b9" opacity="0.9"/>
<circle cx="183.15" cy="247.10" r="0.85" fill="#b9b9b9" opacity="0.9"/>
<circle cx="187.96" cy="239.20" r="0.85" fill="#b9b9b9" opacity="0.9"/>
<circle cx="188.14" cy="240.08" r="0.85" fill="#b9b9b9" opacity="0.9"/>
<circle cx="183.69" cy="250.80" r="0.85" fill="#b9b9b9" opacity="0.9"/>
<circle cx="183.22" cy="249.69" r="0.85" fill="#b9b9b9" opacity="0.9"/>
<circle cx="195.51" cy="237.96" r="0.85" fill="#b9b9b9" opacity="0.9"/>
<circle cx="186.24" cy="249.88" r="0.85" fill="#b9b9b9" opacity="0.9"/>
<circle cx="185.38" cy="252.67" r="0.85" fill="#b9b9b9" opacity="0.9"/>
<circle cx="179.50" cy="254.75" r="0.85" fill="#b9b9b9" opacity="0.9"/>
<circle cx="182.27" cy="243.96" r="0.85" fill="#b9b9b9" opacity="0.9"/>
<circle cx="195.44" cy="232.76" r="0.85" fill="#b9b9b9" opacity="0.9"/>
<circle cx="197.18" cy="240.36" r="0.85" fill="#b9b9b9" opacity="0.9"/>
<circle cx="193.46" cy="233.64" r="0.85" fill="#b9b9b9" opacity="0.9"/>
<circle cx="194.90" cy="247.03" r="0.85" fill="#b9b9b9" opacity="0.9"/>
<circle cx="185.37" cy="245.41" r="0.85" fill="#b9b9b9" opacity="0.9"/>
<circle cx="200.66" cy="234.60" r="0.85" fill="#b9b9b9" opacity="0.9"/>
<circle cx="182.99" cy="244.38" r="0.85" fill="#b9b9b9" opacity="0.9"/>
<circle cx="189.18" cy="245.01" r="0.85" fill="#b9b9b9" opacity="0.9"/>
<circle cx="189.30" cy="253.25" r="0.85" fill="#b9b9b9" opacity="0.9"/>
<circle cx="184.87" cy="249.44" r="0.85" fill="#b9b9b9" opacity="0.9"/>
<circle cx="193.46" cy="233.48" r="0.85" fill="#b9b9b9" opacity="0.9"/>
<circle cx="194.42" cy="249.67" r="0.85" fill="#b9b9b9" opacity="0.9"/>
<circle cx="177.03" cy="246.52" r="0.85" fill="#b9b9b9" opacity="0.9"/>
<circle cx="177.96" cy="241.25" r="0.85" fill="#b9b9b9" opacity="0.9"/>
<circle cx="186.60" cy="234.05" r="0.85" fill="#b9b9b9" opacity="0.9"/>
<circle cx="190.84" cy="250.37" r="0.85" fill="#b9b9b9" opacity="0.9"/>
<circle cx="181.60" cy="247.71" r="0.85" fill="#b9b9b9" opacity="0.9"/>
<circle cx="187.17" cy="247.96" r="0.85" fill="#b9b9b9" opacity="0.9"/>
<circle cx="184.21" cy="247.24" r="0.85" fill="#b9b9b9" opacity="0.9"/>
<circle cx="183.17" cy="248.70" r="0.85" fill="#b9b9b9" opacity="0.9"/>
<circle cx="179.48" cy="251.45" r="0.85" fill="#b9b9b9" opacity="0.9"/>
<circle cx="197.40" cy="236.70" r="0.85" fill="#b9b9b9" opacity="0.9"/>
<circle cx="179.20" cy="252.83" r="0.85" fill="#b9b9b9" opacity="0.9"/>
<circle cx="178.58" cy="241.91" r="0.85" fill="#b9b9b9" opacity="0.9"/>
<circle cx="182.81" cy="252.72" r="0.85" fill="#b9b9b9" opacity="0.9"/>
<circle cx="188.31" cy="243.17" r="0.85" fill="#b9b9b9" opacity="0.9"/>
<circle cx="179.53" cy="244.55" r="0.85" fill="#b9b9b9" opacity="0.9"/>
<circle cx="194.32" cy="240.24" r="0.85" fill="#b9b9b9" opacity="0.9"/>
<circle cx="178.15" cy="239.51" r="0.85" fill="#b9b9b9" opacity="0.9"/>
<circle cx="179.44" cy="250.63" r="0.85" fill="#b9b9b9" opacity="0.9"/>
<circle cx="187.23" cy="243.70" r="0.85" fill="#b9b9b9" opacity="0.9"/>
<circle cx="182.94" cy="239.97" r="0.85" fill="#b9b9b9" opacity="0.9"/>
<circle cx="182.13" cy="258.99" r="0.85" fill="#b9b9b9" opacity="0.9"/>
<circle cx="182.83" cy="253.36" r="0.85" fill="#b9b9b9" opacity="0.9"/>
<circle cx="188.96" cy="249.43" r="0.85" fill="#b9b9b9" opacity="0.9"/>
<circle cx="180.40" cy="253.87" r="0.85" fill="#b9b9b9" opacity="0.9"/>
<circle cx="187.55" cy="239.96" r="0.85" fill="#b9b9b9" opacity="0.9"/>
<circle cx="187.89" cy="238.72" r="0.85" fill="#b9b9b9" opacity="0.9"/>
<circle cx="181.56" cy="249.23" r="0.85" fill="#b9b9b9" opacity="0.9"/>
<circle cx="178.64" cy="242.99" r="0.85" fill="#b9b9b9" opacity="0.9"/>
<circle cx="184.65" cy="251.36" r="0.85" fill="#b9b9b9" opacity="0.9"/>
<circle cx="185.37" cy="253.77" r="0.85" fill="#b9b9b9" opacity="0.9"/>
<circle cx="177.90" cy="244.50" r="0.85" fill="#b9b9b9" opacity="0.9"/>
<circle cx="195.68" cy="240.05" r="0.85" fill="#b9b9b9" opacity="0.9"/>
<circle cx="190.69" cy="236.83" r="0.85" fill="#b9b9b9" opacity="0.9"/>
<circle cx="191.18" cy="242.94" r="0.85" fill="#b9b9b9" opacity="0.9"/>
<circle cx="189.99" cy="242.51" r="0.85" fill="#b9b9b9" opacity="0.9"/>
<circle cx="192.42" cy="236.46" r="0.85" fill="#b9b9b9" opacity="0.9"/>
<circle cx="178.84" cy="242.74" r="0.85" fill="#b9b9b9" opacity="0.9"/>
<circle cx="192.05" cy="236.24" r="0.85" fill="#b9b9b9" opacity="0.9"/>
<circle cx="179.02" cy="245.81" r="0.85" fill="#b9b9b9" opacity="0.9"/>
<circle cx="182.09" cy="241.28" r="0.85" fill="#b9b9b9" opacity="0.9"/>
<circle cx="183.76" cy="243.76" r="0.85" fill="#b9b9b9" opacity="0.9"/>
<circle cx="181.85" cy="243.35" r="0.85" fill="#b9b9b9" opacity="0.9"/>
<circle cx="185.86" cy="243.02" r="0.85" fill="#b9b9b9" opacity="0.9"/>
<circle cx="187.17" cy="246.20" r="0.85" fill="#b9b9b9" opacity="0.9"/>
<circle cx="185.55" cy="232.92" r="0.85" fill="#b9b9b9" opacity="0.9"/>
<circle cx="182.14" cy="244.09" r="0.85" fill="#b9b9b9" opacity="0.9"/>
<circle cx="188.80" cy="233.90" r="0.85" fill="#b9b9b9" opacity="0.9"/>
<circle cx="181.70" cy="247.46" r="0.85" fill="#b9b9b9" opacity="0.9"/>
<circle cx="185.44" cy="252.07" r="0.85" fill="#b9b9b9" opacity="0.9"/>
<circle cx="184.79" cy="252.45" r="0.85" fill="#b9b9b9" opacity="0.9"/>
<circle cx="193.79" cy="241.83" r="0.85" fill="#b9b9b9" opacity="0.9"/>
<circle cx="189.18" cy="243.77" r="0.85" fill="#b9b9b9" opacity="0.9"/>
<circle cx="187.55" cy="237.10" r="0.85" fill="#b9b9b9" opacity="0.9"/>
<circle cx="191.06" cy="238.29" r="0.85" fill="#b9b9b9" opacity="0.9"/>
<circle cx="192.02" cy="241.21" r="0.85" fill="#b9b9b9" opacity="0.9"/>
<circle cx="192.58" cy="239.40" r="0.85" fill="#b9b9b9" opacity="0.9"/>
<circle cx="184.20" cy="248.61" r="0.85" fill="#b9b9b9" opacity="0.9"/>
<circle cx="183.08" cy="244.82" r="0.85" fill="#b9b9b9" opacity="0.9"/>
<circle cx="186.97" cy="245.73" r="0.85" fill="#b9b9b9" opacity="0.9"/>
<circle cx="195.05" cy="238.45" r="0.85" fill="#b9b9b9" opacity="0.9"/>
<circle cx="199.27" cy="245.49" r="0.85" fill="#b9b9b9" opacity="0.9"/>
<circle cx="197.43" cy="242.57" r="0.85" fill="#b9b9b9" opacity="0.9"/>
<circle cx="187.12" cy="245.56" r="0.85" fill="#b9b9b9" opacity="0.9"/>
<circle cx="184.50" cy="242.53" r="0.85" fill="#b9b9b9" opacity="0.9"/>
<circle cx="185.05" cy="242.61" r="0.85" fill="#b9b9b9" opacity="0.9"/>
<circle cx="196.35" cy="240.30" r="0.85" fill="#b9b9b9" opacity="0.9"/>
<circle cx="181.31" cy="238.07" r="0.85" fill="#b9b9b9" opacity="0.9"/>
<circle cx="185.39" cy="243.67" r="0.85" fill="#b9b9b9" opacity="0.9"/>
<circle cx="178.54" cy="245.03" r="0.85" fill="#b9b9b9" opacity="0.9"/>
<circle cx="188.92" cy="258.72" r="0.85" fill="#b9b9b9" opacity="0.9"/>
<circle cx="185.84" cy="244.91" r="0.85" fill="#b9b9b9" opacity="0.9"/>
<circle cx="194.74" cy="239.24" r="0.85" fill="#b9b9b9" opacity="0.9"/>
<circle cx="186.72" cy="242.84" r="0.85" fill="#b9b9b9" opacity="0.9"/>
<circle cx="184.49" cy="255.90" r="0.85" fill="#b9b9b9" opacity="0.9"/>
<circle cx="194.06" cy="249.28" r="0.85" fill="#b9b9b9" opacity="0.9"/>
<circle cx="184.21" cy="247.33" r="0.85" fill="#b9b9b9" opacity="0.9"/>
<circle cx="182.25" cy="254.56" r="0.85" fill="#b9b9b9" opacity="0.9"/>
<circle cx="178.80" cy="255.01" r="0.85" fill="#b9b9b9" opacity="0.9"/>
<circle cx="194.25" cy="247.30" r="0.85" fill="#b9b9b9" opacity="0.9"/>
<circle cx="182.06" cy="255.46" r="0.85" fill="#b9b9b9" opacity="0.9"/>
<circle cx="181.15" cy="245.14" r="0.85" fill="#b9b9b9" opacity="0.9"/>
<circle cx="179.91" cy="257.63" r="0.85" fill="#b9b9b9" opacity="0.9"/>
<circle cx="195.05" cy="234.62" r="0.85" fill="#b9b9b9" opacity="0.9"/>
<circle cx="181.39" cy="247.45" r="0.85" fill="#b9b9b9" opacity="0.9"/>
<circle cx="201.95" cy="238.49" r="0.85" fill="#b9b9b9" opacity="0.9"/>
<circle cx="180.90" cy="239.13" r="0.85" fill="#b9b9b9" opacity="0.9"/>
<circle cx="183.72" cy="254.66" r="0.85" fill="#b9b9b9" opacity="0.9"/>
<circle cx="196.71" cy="235.20" r="0.85" fill="#b9b9b9" opacity="0.9"/>
<circle cx="181.58" cy="246.27" r="0.85" fill="#b9b9b9" opacity="0.9"/>
<circle cx="181.18" cy="256.03" r="0.85" fill="#b9b9b9" opacity="0.9"/>
<circle cx="186.96" cy="240.30" r="0.85" fill="#b9b9b9" opacity="0.9"/>
<circle cx="190.74" cy="241.79" r="0.85" fill="#b9b9b9" opacity="0.9"/>
<circle cx="180.13" cy="254.25" r="0.85" fill="#b9b9b9" opacity="0.9"/>
<circle cx="188.79" cy="231.89" r="0.85" fill="#b9b9b9" opacity="0.9"/>
<circle cx="197.39" cy="239.22" r="0.85" fill="#b9b9b9" opacity="0.9"/>
<circle cx="188.38" cy="232.55" r="0.85" fill="#b9b9b9" opacity="0.9"/>
<circle cx="181.61" cy="247.21" r="0.85" fill="#b9b9b9" opacity="0.9"/>
<circle cx="190.70" cy="233.03" r="0.85" fill="#b9b9b9" opacity="0.9"/>
<circle cx="178.64" cy="239.59" r="0.85" fill="#b9b9b9" opacity="0.9"/>
<circle cx="185.22" cy="248.39" r="0.85" fill="#b9b9b9" opacity="0.9"/>
<circle cx="191.06" cy="250.98" r="0.85" fill="#b9b9b9" opacity="0.9"/>
<circle cx="189.69" cy="240.79" r="0.85" fill="#b9b9b9" opacity="0.9"/>
<circle cx="178.24" cy="246.47" r="0.85" fill="#b9b9b9" opacity="0.9"/>
<circle cx="182.52" cy="249.42" r="0.85" fill="#b9b9b9" opacity="0.9"/>
<circle cx="187.91" cy="254.07" r="0.85" fill="#b9b9b9" opacity="0.9"/>
<circle cx="186.58" cy="238.76" r="0.85" fill="#b9b9b9" opacity="0.9"/>
<circle cx="196.30" cy="242.83" r="0.85" fill="#b9b9b9" opacity="0.9"/>
<circle cx="185.92" cy="241.41" r="0.85" fill="#b9b9b9" opacity="0.9"/>
<circle cx="190.52" cy="237.11" r="0.85" fill="#b9b9b9" opacity="0.9"/>
<circle cx="178.78" cy="252.81" r="0.85" fill="#b9b9b9" opacity="0.9"/>
<circle cx="188.34" cy="247.36" r="0.85" fill="#b9b9b9" opacity="0.9"/>
<circle cx="191.69" cy="249.40" r="0.85" fill="#b9b9b9" opacity="0.9"/>
<circle cx="182.51" cy="254.42" r="0.85" fill="#b9b9b9" opacity="0.9"/>
<circle cx="181.31" cy="253.71" r="0.85" fill="#b9b9b9" opacity="0.9"/>
<circle cx="187.53" cy="245.86" r="0.85" fill="#b9b9b9" opacity="0.9"/>
<circle cx="191.79" cy="240.77" r="0.85" fill="#b9b9b9" opacity="0.9"/>
<circle cx="193.70" cy="244.54" r="0.85" fill="#b9b9b9" opacity="0.9"/>
<circle cx="186.31" cy="242.02" r="0.85" fill="#b9b9b9" opacity="0.9"/>
<circle cx="181.20" cy="246.48" r="0.85" fill="#b9b9b9" opacity="0.9"/>
<circle cx="185.00" cy="246.35" r="0.85" fill="#b9b9b9" opacity="0.9"/>
<circle cx="204.25" cy="234.38" r="0.85" fill="#b9b9b9" opacity="0.9"/>
<circle cx="189.63" cy="237.50" r="0.85" fill="#b9b9b9" opacity="0.9"/>
<circle cx="181.70" cy="247.31" r="0.85" fill="#b9b9b9" opacity="0.9"/>
<circle cx="186.07" cy="239.40" r="0.85" fill="#b9b9b9" opacity="0.9"/>
<circle cx="194.87" cy="234.95" r="0.85" fill="#b9b9b9" opacity="0.9"/>
<circle cx="189.65" cy="228.64" r="0.85" fill="#b9b9b9" opacity="0.9"/>
<circle cx="186.49" cy="246.92" r="0.85" fill="#b9b9b9" opacity="0.9"/>
<circle cx="188.03" cy="247.59" r="0.85" fill="#b9b9b9" opacity="0.9"/>
<circle cx="188.02" cy="244.97" r="0.85" fill="#b9b9b9" opacity="0.9"/>
<circle cx="187.75" cy="243.05" r="0.85" fill="#b9b9b9" opacity="0.9"/>
<circle cx="180.74" cy="246.53" r="0.85" fill="#b9b9b9" opacity="0.9"/>
<circle cx="198.98" cy="245.30" r="0.85" fill="#b9b9b9" opacity="0.9"/>
<circle cx="187.41" cy="252.22" r="0.85" fill="#b9b9b9" opacity="0.9"/>
<circle cx="182.35" cy="243.44" r="0.85" fill="#b9b9b9" opacity="0.9"/>
<circle cx="183.18" cy="249.12" r="0.85" fill="#b9b9b9" opacity="0.9"/>
<circle cx="202.95" cy="227.68" r="0.85" fill="#b9b9b9" opacity="0.9"/>
<circle cx="186.82" cy="246.64" r="0.85" fill="#b9b9b9" opacity="0.9"/>
<circle cx="187.12" cy="250.32" r="0.85" fill="#b9b9b9" opacity="0.9"/>
<circle cx="195.01" cy="230.76" r="0.85" fill="#b9b9b9" opacity="0.9"/>
<circle cx="186.82" cy="243.40" r="0.85" fill="#b9b9b9" opacity="0.9"/>
<circle cx="186.43" cy="236.13" r="0.85" fill="#b9b9b9" opacity="0.9"/>
<circle cx="189.48" cy="243.94" r="0.85" fill="#b9b9b9" opacity="0.9"/>
<circle cx="183.79" cy="233.31" r="0.85" fill="#b9b9b9" opacity="0.9"/>
<circle cx="183.13" cy="243.52" r="0.85" fill="#b9b9b9" opacity="0.9"/>
<circle cx="176.90" cy="247.71" r="0.85" fill="#b9b9b9" opacity="0.9"/>
<circle cx="190.90" cy="244.87" r="0.85" fill="#b9b9b9" opacity="0.9"/>
<circle cx="186.69" cy="248.18" r="0.85" fill="#b9b9b9" opacity="0.9"/>
<circle cx="182.79" cy="248.75" r="0.85" fill="#b9b9b9" opacity="0.9"/>
<circle cx="187.10" cy="248.08" r="0.85" fill="#b9b9b9" opacity="0.9"/>
<circle cx="185.62" cy="245.12" r="0.85" fill="#b9b9b9" opacity="0.9"/>
<circle cx="184.64" cy="242.92" r="0.85" fill="#b9b9b9" opacity="0.9"/>
<circle cx="199.77" cy="237.35" r="0.85" fill="#b9b9b9" opacity="0.9"/>
<circle cx="191.44" cy="254.90" r="0.85" fill="#b9b9b9" opacity="0.9"/>
<circle cx="192.47" cy="230.98" r="0.85" fill="#b9b9b9" opacity="0.9"/>
<circle cx="191.24" cy="246.35" r="0.85" fill="#b9b9b9" opacity="0.9"/>
<circle cx="198.71" cy="243.03" r="0.85" fill="#b9b9b9" opacity="0.9"/>
<circle cx="189.26" cy="235.91" r="0.85" fill="#b9b9b9" opacity="0.9"/>
<circle cx="181.47" cy="251.02" r="0.85" fill="#b9b9b9" opacity="0.9"/>
<circle cx="187.90" cy="237.97" r="0.85" fill="#b9b9b9" opacity="0.9"/>
<circle cx="183.49" cy="245.34" r="0.85" fill="#b9b9b9" opacity="0.9"/>
<circle cx="186.95" cy="246.89" r="0.85" fill="#b9b9b9" opacity="0.9"/>
<circle cx="183.05" cy="240.69" r="0.85" fill="#b9b9b9" opacity="0.9"/>
<circle cx="195.32" cy="247.52" r="0.85" fill="#b9b9b9" opacity="0.9"/>
<circle cx="186.82" cy="251.13" r="0.85" fill="#b9b9b9" opacity="0.9"/>
<circle cx="189.57" cy="246.67" r="0.85" fill="#b9b9b9" opacity="0.9"/>
<circle cx="188.08" cy="239.37" r="0.85" fill="#b9b9b9" opacity="0.9"/>
<circle cx="190.74" cy="247.80" r="0.85" fill="#b9b9b9" opacity="0.9"/>
<circle cx="183.36" cy="259.63" r="0.85" fill="#b9b9b9" opacity="0.9"/>
<circle cx="200.51" cy="244.58" r="0.85" fill="#b9b9b9" opacity="0.9"/>
<circle cx="198.63" cy="239.66" r="0.85" fill="#b9b9b9" opacity="0.9"/>
<circle cx="183.52" cy="244.12" r="0.85" fill="#b9b9b9" opacity="0.9"/>
<circle cx="181.62" cy="249.98" r="0.85" fill="#b9b9b9" opacity="0.9"/>
<circle cx="186.81" cy="249.01" r="0.85" fill="#b9b9b9" opacity="0.9"/>
<circle cx="199.37" cy="234.44" r="0.85" fill="#b9b9b9" opacity="0.9"/>
<circle cx="190.69" cy="244.63" r="0.85" fill="#b9b9b9" opacity="0.9"/>
<circle cx="187.54" cy="243.14" r="0.85" fill="#b9b9b9" opacity="0.9"/>
<circle cx="184.50" cy="241.97" r="0.85" fill="#b9b9b9" opacity="0.9"/>
<circle cx="187.20" cy="244.52" r="0.85" fill="#b9b9b9" opacity="0.9"/>
<circle cx="187.03" cy="239.69" r="0.85" fill="#b9b9b9" opacity="0.9"/>
<circle cx="186.49" cy="245.55" r="0.85" fill="#b9b9b9" opacity="0.9"/>
<circle cx="188.43" cy="237.28" r="0.85" fill="#b9b9b9" opacity="0.9"/>
<circle cx="189.81" cy="248.40" r="0.85" fill="#b9b9b9" opacity="0.9"/>
<circle cx="189.22" cy="240.79" r="0.85" fill="#b9b9b9" opacity="0.9"/>
<circle cx="183.07" cy="246.68" r="0.85" fill="#b9b9b9" opacity="0.9"/>
<circle cx="192.29" cy="249.76" r="0.85" fill="#b9b9b9" opacity="0.9"/>
<circle cx="184.51" cy="243.05" r="0.85" fill="#b9b9b9" opacity="0.9"/>
<circle cx="188.62" cy="244.72" r="0.85" fill="#b9b9b9" opacity="0.9"/>
<circle cx="180.05" cy="246.17" r="0.85" fill="#b9b9b9" opacity="0.9"/>
<circle cx="186.42" cy="249.35" r="0.85" fill="#b9b9b9" opacity="0.9"/>
<circle cx="178.06" cy="246.14" r="0.85" fill="#b9b9b9" opacity="0.9"/>
<circle cx="187.62" cy="236.98" r="0.85" fill="#b9b9b9" opacity="0.9"/>
<circle cx="187.25" cy="246.74" r="0.85" fill="#b9b9b9" opacity="0.9"/>
<circle cx="184.33" cy="240.94" r="0.85" fill="#b9b9b9" opacity="0.9"/>
<circle cx="185.45" cy="244.13" r="0.85" fill="#b9b9b9" opacity="0.9"/>
<circle cx="187.14" cy="239.69" r="0.85" fill="#b9b9b9" opacity="0.9"/>
<circle cx="190.52" cy="231.88" r="0.85" fill="#b9b9b9" opacity="0.9"/>
<circle cx="185.19" cy="246.38" r="0.85" fill="#b9b9b9" opacity="0.9"/>
<circle cx="191.05" cy="237.84" r="0.85" fill="#b9b9b9" opacity="0.9"/>
<circle cx="188.69" cy="240.05" r="0.85" fill="#b9b9b9" opacity="0.9"/>
<circle cx="192.57" cy="250.64" r="0.85" fill="#b9b9b9" opacity="0.9"/>
<circle cx="184.41" cy="249.64" r="0.85" fill="#b9b9b9" opacity="0.9"/>
<circle cx="181.99" cy="254.82" r="0.85" fill="#b9b9b9" opacity="0.9"/>
<circle cx="193.26" cy="239.86" r="0.85" fill="#b9b9b9" opacity="0.9"/>
<circle cx="180.10" cy="252.96" r="0.85" fill="#b9b9b9" opacity="0.9"/>
<circle cx="194.17" cy="245.43" r="0.85" fill="#b9b9b9" opacity="0.9"/>
<circle cx="188.72" cy="232.44" r="0.85" fill="#b9b9b9" opacity="0.9"/>
<circle cx="183.96" cy="255.87" r="0.85" fill="#b9b9b9" opacity="0.9"/>
<circle cx="180.45" cy="257.04" r="0.85" fill="#b9b9b9" opacity="0.9"/>
<circle cx="198.03" cy="240.27" r="0.85" fill="#b9b9b9" opacity="0.9"/>
<circle cx="205.53" cy="218.98" r="0.85" fill="#8fc8e0" opacity="0.95"/>
<circle cx="197.23" cy="226.64" r="0.85" fill="#8fc8e0" opacity="0.95"/>
<circle cx="209.13" cy="220.49" r="0.85" fill="#8fc8e0" opacity="0.95"/>
<circle cx="186.80" cy="240.31" r="0.85" fill="#8fc8e0" opacity="0.95"/>
<circle cx="188.15" cy="238.79" r="0.85" fill="#8fc8e0" opacity="0.95"/>
<circle cx="192.54" cy="233.50" r="0.85" fill="#8fc8e0" opacity="0.95"/>
<circle cx="195.05" cy="225.25" r="0.85" fill="#8fc8e0" opacity="0.95"/>
<circle cx="189.53" cy="231.29" r="0.85" fill="#8fc8e0" opacity="0.95"/>
<circle cx="187.44" cy="238.30" r="0.85" fill="#8fc8e0" opacity="0.95"/>
<circle cx="196.73" cy="228.84" r="0.85" fill="#8fc8e0" opacity="0.95"/>
<circle cx="196.73" cy="232.16" r="0.85" fill="#8fc8e0" opacity="0.95"/>
<circle cx="208.12" cy="223.72" r="0.85" fill="#8fc8e0" opacity="0.95"/>
<circle cx="205.63" cy="227.56" r="0.85" fill="#8fc8e0" opacity="0.95"/>
<circle cx="206.11" cy="221.18" r="0.85" fill="#8fc8e0" opacity="0.95"/>
<circle cx="203.14" cy="220.51" r="0.85" fill="#8fc8e0" opacity="0.95"/>
<circle cx="208.59" cy="216.41" r="0.85" fill="#8fc8e0" opacity="0.95"/>
<circle cx="188.97" cy="234.97" r="0.85" fill="#8fc8e0" opacity="0.95"/>
<circle cx="211.07" cy="212.11" r="0.85" fill="#8fc8e0" opacity="0.95"/>
<circle cx="205.46" cy="220.64" r="0.85" fill="#8fc8e0" opacity="0.95"/>
<circle cx="203.02" cy="225.19" r="0.85" fill="#8fc8e0" opacity="0.95"/>
<circle cx="187.43" cy="234.03" r="0.85" fill="#8fc8e0" opacity="0.95"/>
<circle cx="192.56" cy="229.67" r="0.85" fill="#8fc8e0" opacity="0.95"/>
<circle cx="194.73" cy="228.58" r="0.85" fill="#8fc8e0" opacity="0.95"/>
<circle cx="192.00" cy="233.11" r="0.85" fill="#8fc8e0" opacity="0.95"/>
<circle cx="205.04" cy="215.12" r="0.85" fill="#8fc8e0" opacity="0.95"/>
<circle cx="207.25" cy="219.64" r="0.85" fill="#8fc8e0" opacity="0.95"/>
<circle cx="200.19" cy="229.20" r="0.85" fill="#8fc8e0" opacity="0.95"/>
<circle cx="185.69" cy="229.80" r="0.85" fill="#8fc8e0" opacity="0.95"/>
<circle cx="200.03" cy="228.72" r="0.85" fill="#8fc8e0" opacity="0.95"/>
<circle cx="197.22" cy="227.84" r="0.85" fill="#8fc8e0" opacity="0.95"/>
<circle cx="191.23" cy="229.77" r="0.85" fill="#8fc8e0" opacity="0.95"/>
<circle cx="202.24" cy="224.61" r="0.85" fill="#8fc8e0" opacity="0.95"/>
<circle cx="188.02" cy="232.46" r="0.85" fill="#8fc8e0" opacity="0.95"/>
<circle cx="188.93" cy="235.04" r="0.85" fill="#8fc8e0" opacity="0.95"/>
<circle cx="189.97" cy="232.58" r="0.85" fill="#8fc8e0" opacity="0.95"/>
<circle cx="193.08" cy="234.13" r="0.85" fill="#8fc8e0" opacity="0.95"/>
<circle cx="203.11" cy="218.51" r="0.85" fill="#8fc8e0" opacity="0.95"/>
<circle cx="201.97" cy="229.04" r="0.85" fill="#8fc8e0" opacity="0.95"/>
<circle cx="192.66" cy="226.85" r="0.85" fill="#8fc8e0" opacity="0.95"/>
<circle cx="195.47" cy="230.01" r="0.85" fill="#8fc8e0" opacity="0.95"/>
<circle cx="187.40" cy="232.33" r="0.85" fill="#8fc8e0" opacity="0.95"/>
<circle cx="201.46" cy="225.96" r="0.85" fill="#8fc8e0" opacity="0.95"/>
<circle cx="183.61" cy="237.75" r="0.85" fill="#8fc8e0" opacity="0.95"/>
<circle cx="177.34" cy="238.38" r="0.85" fill="#8fc8e0" opacity="0.95"/>
<circle cx="179.13" cy="251.56" r="0.85" fill="#8fc8e0" opacity="0.95"/>
<circle cx="179.76" cy="246.60" r="0.85" fill="#8fc8e0" opacity="0.95"/>
<circle cx="182.51" cy="241.25" r="0.85" fill="#8fc8e0" opacity="0.95"/>
<circle cx="184.67" cy="236.88" r="0.85" fill="#8fc8e0" opacity="0.95"/>
<circle cx="185.37" cy="241.51" r="0.85" fill="#8fc8e0" opacity="0.95"/>
<circle cx="175.64" cy="242.41" r="0.85" fill="#8fc8e0" opacity="0.95"/>
<circle cx="183.91" cy="241.81" r="0.85" fill="#8fc8e0" opacity="0.95"/>
<circle cx="188.04" cy="238.34" r="0.85" fill="#8fc8e0" opacity="0.95"/>
<circle cx="183.75" cy="242.99" r="0.85" fill="#8fc8e0" opacity="0.95"/>
<circle cx="178.10" cy="244.80" r="0.85" fill="#8fc8e0" opacity="0.95"/>
<circle cx="204.29" cy="230.37" r="0.85" fill="#3aa035" opacity="0.95"/>
<circle cx="200.74" cy="232.03" r="0.85" fill="#3aa035" opacity="0.95"/>
<circle cx="201.22" cy="231.40" r="0.85" fill="#3aa035" opacity="0.95"/>
<circle cx="204.43" cy="231.24" r="0.85" fill="#3aa035" opacity="0.95"/>
<circle cx="208.96" cy="228.69" r="0.85" fill="#3aa035" opacity="0.95"/>
<circle cx="197.28" cy="234.36" r="0.85" fill="#3aa035" opacity="0.95"/>
<circle cx="198.97" cy="236.46" r="0.85" fill="#3aa035" opacity="0.95"/>
<circle cx="204.54" cy="227.20" r="0.85" fill="#3aa035" opacity="0.95"/>
<circle cx="197.25" cy="237.88" r="0.85" fill="#3aa035" opacity="0.95"/>
<circle cx="196.03" cy="241.92" r="0.85" fill="#3aa035" opacity="0.95"/>
<circle cx="197.70" cy="241.79" r="0.85" fill="#3aa035" opacity="0.95"/>
<circle cx="203.64" cy="229.02" r="0.85" fill="#3aa035" opacity="0.95"/>
<circle cx="195.94" cy="243.48" r="0.85" fill="#3aa035" opacity="0.95"/>
<circle cx="201.08" cy="234.03" r="0.85" fill="#3aa035" opacity="0.95"/>
<circle cx="205.03" cy="231.38" r="0.85" fill="#3aa035" opacity="0.95"/>
<circle cx="206.61" cy="228.86" r="0.85" fill="#3aa035" opacity="0.95"/>
<circle cx="199.89" cy="237.30" r="0.85" fill="#3aa035" opacity="0.95"/>
<circle cx="192.43" cy="244.03" r="0.85" fill="#3aa035" opacity="0.95"/>
<circle cx="206.91" cy="224.89" r="0.85" fill="#3aa035" opacity="0.95"/>
<circle cx="205.52" cy="225.74" r="0.85" fill="#3aa035" opacity="0.95"/>
<circle cx="201.99" cy="233.62" r="0.85" fill="#3aa035" opacity="0.95"/>
<circle cx="199.43" cy="238.41" r="0.85" fill="#3aa035" opacity="0.95"/>
<circle cx="189.34" cy="251.81" r="0.85" fill="#3aa035" opacity="0.95"/>
<circle cx="192.67" cy="255.13" r="0.85" fill="#3aa035" opacity="0.95"/>
<circle cx="188.09" cy="255.50" r="0.85" fill="#3aa035" opacity="0.95"/>
<circle cx="186.10" cy="252.15" r="0.85" fill="#3aa035" opacity="0.95"/>
<circle cx="193.52" cy="253.49" r="0.85" fill="#3aa035" opacity="0.95"/>
<circle cx="187.44" cy="255.03" r="0.85" fill="#3aa035" opacity="0.95"/>
<circle cx="192.99" cy="253.96" r="0.85" fill="#3aa035" opacity="0.95"/>
<circle cx="186.18" cy="253.31" r="0.85" fill="#3aa035" opacity="0.95"/>
<circle cx="191.75" cy="255.54" r="0.85" fill="#3aa035" opacity="0.95"/>
<circle cx="195.33" cy="253.49" r="0.85" fill="#3aa035" opacity="0.95"/>
<circle cx="199.12" cy="237.96" r="0.85" fill="#3aa035"/>
<circle cx="201.15" cy="237.06" r="0.85" fill="#3aa035"/>
<circle cx="201.27" cy="235.25" r="0.85" fill="#3aa035"/>
<circle cx="200.66" cy="237.32" r="0.85" fill="#3aa035"/>
<circle cx="200.25" cy="238.69" r="0.85" fill="#3aa035"/>
<circle cx="188.91" cy="265.00" r="0.75" fill="#9a9a9a" opacity="0.85"/>
<circle cx="183.09" cy="264.87" r="0.75" fill="#6a9a6a" opacity="0.85"/>
<circle cx="191.04" cy="265.04" r="0.75" fill="#9a9a9a" opacity="0.85"/>
<circle cx="186.06" cy="265.20" r="0.75" fill="#6a9a6a" opacity="0.85"/>
<circle cx="191.16" cy="264.82" r="0.75" fill="#9a9a9a" opacity="0.85"/>
<circle cx="187.11" cy="265.12" r="0.75" fill="#6a9a6a" opacity="0.85"/>
<circle cx="185.22" cy="265.08" r="0.75" fill="#9a9a9a" opacity="0.85"/>
<circle cx="179.77" cy="264.92" r="0.75" fill="#6a9a6a" opacity="0.85"/>
<circle cx="194.86" cy="265.03" r="0.75" fill="#9a9a9a" opacity="0.85"/>
<circle cx="191.73" cy="264.88" r="0.75" fill="#6a9a6a" opacity="0.85"/>
<circle cx="188.66" cy="265.02" r="0.75" fill="#9a9a9a" opacity="0.85"/>
<circle cx="184.49" cy="265.06" r="0.75" fill="#6a9a6a" opacity="0.85"/>
<circle cx="189.27" cy="265.20" r="0.75" fill="#9a9a9a" opacity="0.85"/>
<circle cx="190.04" cy="264.96" r="0.75" fill="#6a9a6a" opacity="0.85"/>
<circle cx="181.89" cy="264.86" r="0.75" fill="#9a9a9a" opacity="0.85"/>
<circle cx="193.37" cy="264.84" r="0.75" fill="#6a9a6a" opacity="0.85"/>
<circle cx="181.50" cy="264.87" r="0.75" fill="#9a9a9a" opacity="0.85"/>
<circle cx="189.10" cy="265.13" r="0.75" fill="#6a9a6a" opacity="0.85"/>
<circle cx="190.73" cy="265.12" r="0.75" fill="#9a9a9a" opacity="0.85"/>
<circle cx="180.82" cy="264.80" r="0.75" fill="#6a9a6a" opacity="0.85"/>
<circle cx="193.57" cy="264.93" r="0.75" fill="#9a9a9a" opacity="0.85"/>
<circle cx="192.58" cy="264.94" r="0.75" fill="#6a9a6a" opacity="0.85"/>
<circle cx="182.75" cy="264.91" r="0.75" fill="#9a9a9a" opacity="0.85"/>
<circle cx="181.49" cy="265.16" r="0.75" fill="#6a9a6a" opacity="0.85"/>
<circle cx="190.18" cy="264.94" r="0.75" fill="#9a9a9a" opacity="0.85"/>
<circle cx="187.80" cy="264.95" r="0.75" fill="#6a9a6a" opacity="0.85"/>
<circle cx="180.68" cy="265.16" r="0.75" fill="#9a9a9a" opacity="0.85"/>
<circle cx="190.19" cy="265.18" r="0.75" fill="#6a9a6a" opacity="0.85"/>
<circle cx="187.61" cy="265.05" r="0.75" fill="#9a9a9a" opacity="0.85"/>
<circle cx="184.19" cy="264.82" r="0.75" fill="#6a9a6a" opacity="0.85"/>
<circle cx="196.45" cy="265.14" r="0.75" fill="#9a9a9a" opacity="0.85"/>
<circle cx="185.37" cy="265.16" r="0.75" fill="#6a9a6a" opacity="0.85"/>
<circle cx="194.39" cy="264.92" r="0.75" fill="#9a9a9a" opacity="0.85"/>
<circle cx="190.55" cy="265.18" r="0.75" fill="#6a9a6a" opacity="0.85"/>
<circle cx="188.62" cy="265.18" r="0.75" fill="#9a9a9a" opacity="0.85"/>
<circle cx="184.07" cy="264.96" r="0.75" fill="#6a9a6a" opacity="0.85"/>
<circle cx="192.63" cy="264.89" r="0.75" fill="#9a9a9a" opacity="0.85"/>
<circle cx="185.26" cy="265.15" r="0.75" fill="#6a9a6a" opacity="0.85"/>
<circle cx="188.42" cy="265.12" r="0.75" fill="#9a9a9a" opacity="0.85"/>
<circle cx="184.08" cy="264.87" r="0.75" fill="#6a9a6a" opacity="0.85"/>
<circle cx="186.15" cy="264.87" r="0.75" fill="#9a9a9a" opacity="0.85"/>
<circle cx="197.19" cy="264.92" r="0.75" fill="#6a9a6a" opacity="0.85"/>
<circle cx="189.81" cy="264.85" r="0.75" fill="#9a9a9a" opacity="0.85"/>
<circle cx="189.31" cy="264.95" r="0.75" fill="#6a9a6a" opacity="0.85"/>
<circle cx="186.96" cy="264.83" r="0.75" fill="#9a9a9a" opacity="0.85"/>
<circle cx="181.92" cy="265.13" r="0.75" fill="#6a9a6a" opacity="0.85"/>
<circle cx="186.02" cy="264.90" r="0.75" fill="#9a9a9a" opacity="0.85"/>
<circle cx="183.14" cy="264.91" r="0.75" fill="#6a9a6a" opacity="0.85"/>
<circle cx="183.97" cy="264.81" r="0.75" fill="#9a9a9a" opacity="0.85"/>
<circle cx="191.66" cy="264.94" r="0.75" fill="#6a9a6a" opacity="0.85"/>
<circle cx="199.10" cy="265.08" r="0.75" fill="#9a9a9a" opacity="0.85"/>
<circle cx="198.53" cy="264.91" r="0.75" fill="#6a9a6a" opacity="0.85"/>
<circle cx="205.22" cy="264.85" r="0.75" fill="#9a9a9a" opacity="0.85"/>
<circle cx="201.69" cy="265.13" r="0.75" fill="#6a9a6a" opacity="0.85"/>
<circle cx="204.94" cy="264.86" r="0.75" fill="#9a9a9a" opacity="0.85"/>
<circle cx="200.88" cy="265.09" r="0.75" fill="#6a9a6a" opacity="0.85"/>
<circle cx="201.09" cy="265.18" r="0.75" fill="#9a9a9a" opacity="0.85"/>
<circle cx="199.57" cy="265.18" r="0.75" fill="#6a9a6a" opacity="0.85"/>
<circle cx="202.24" cy="264.89" r="0.75" fill="#9a9a9a" opacity="0.85"/>
<circle cx="201.77" cy="264.85" r="0.75" fill="#6a9a6a" opacity="0.85"/>
<circle cx="174.65" cy="265.00" r="0.7" fill="#c4c4c4"/>
<circle cx="171.53" cy="265.00" r="0.7" fill="#c4c4c4"/>
<circle cx="176.00" cy="265.00" r="0.7" fill="#c4c4c4"/>
<circle cx="173.81" cy="265.00" r="0.7" fill="#c4c4c4"/>
<circle cx="172.28" cy="265.00" r="0.7" fill="#c4c4c4"/>
<circle cx="213.70" cy="214.00" r="0.9" fill="#bbb"/>
<circle cx="210.70" cy="241.00" r="0.9" fill="#777"/>
<line x1="245.5" y1="203.5" x2="245.5" y2="243" stroke="#231f20" stroke-width="1"/>
<line x1="245.2" y1="242.5" x2="259.7" y2="242.5" stroke="#231f20" stroke-width="1"/>
<line x1="243.5" y1="210.5" x2="245.7" y2="210.5" stroke="#231f20" stroke-width="1"/>
<text x="240.30" y="212.23" font-size="6.2" text-anchor="end" fill="#222" stroke="#222" stroke-width="0.08">2.0</text>
<line x1="243.5" y1="218.5" x2="245.7" y2="218.5" stroke="#231f20" stroke-width="1"/>
<text x="240.30" y="220.53" font-size="6.2" text-anchor="end" fill="#222" stroke="#222" stroke-width="0.08">1.5</text>
<line x1="243.5" y1="225.5" x2="245.7" y2="225.5" stroke="#231f20" stroke-width="1"/>
<text x="240.30" y="227.73" font-size="6.2" text-anchor="end" fill="#222" stroke="#222" stroke-width="0.08">1.0</text>
<line x1="243.5" y1="233.5" x2="245.7" y2="233.5" stroke="#231f20" stroke-width="1"/>
<text x="240.30" y="235.53" font-size="6.2" text-anchor="end" fill="#222" stroke="#222" stroke-width="0.08">0.5</text>
<line x1="243.5" y1="240.5" x2="245.7" y2="240.5" stroke="#231f20" stroke-width="1"/>
<text x="240.30" y="242.53" font-size="6.2" text-anchor="end" fill="#222" stroke="#222" stroke-width="0.08">0.0</text>
<text x="226.04" y="224.30" font-size="9.0" text-anchor="middle" textLength="53.9" lengthAdjust="spacingAndGlyphs" fill="#222" stroke="#222" stroke-width="0.04" transform="rotate(-90 226.04 224.30)">% dynamic clones</text>
<line x1="250.5" y1="242.5" x2="250.5" y2="244.5" stroke="#231f20" stroke-width="1"/>
<line x1="256.5" y1="242.5" x2="256.5" y2="244.5" stroke="#231f20" stroke-width="1"/>
<text x="252.93" y="248.50" font-size="6.2" text-anchor="end" textLength="22.6" lengthAdjust="spacingAndGlyphs" fill="#222" stroke="#222" stroke-width="0.08" transform="rotate(-90 252.93 248.50)">R (n = 8)</text>
<text x="258.73" y="248.50" font-size="6.2" text-anchor="end" textLength="33.3" lengthAdjust="spacingAndGlyphs" fill="#222" stroke="#222" stroke-width="0.08" transform="rotate(-90 258.73 248.50)">NR (n = 10)</text>
<line x1="249.6" y1="203.5" x2="255.6" y2="203.5" stroke="#231f20" stroke-width="0.8"/>
<line x1="249.5" y1="203.4" x2="249.5" y2="204.6" stroke="#231f20" stroke-width="0.8"/>
<line x1="255.5" y1="203.4" x2="255.5" y2="204.6" stroke="#231f20" stroke-width="0.8"/>
<text x="252.60" y="200.62" font-size="5.6" text-anchor="middle" fill="#222" stroke="#222" stroke-width="0.08">1</text>
<circle cx="250.45" cy="221.00" r="0.7" fill="#1f5a99"/>
<circle cx="250.81" cy="228.00" r="0.7" fill="#1f5a99"/>
<circle cx="250.41" cy="229.50" r="0.7" fill="#1f5a99"/>
<circle cx="251.07" cy="231.00" r="0.7" fill="#1f5a99"/>
<circle cx="250.32" cy="233.00" r="0.7" fill="#1f5a99"/>
<circle cx="250.71" cy="235.50" r="0.7" fill="#1f5a99"/>
<circle cx="250.74" cy="237.50" r="0.7" fill="#1f5a99"/>
<circle cx="250.47" cy="240.00" r="0.7" fill="#1f5a99"/>
<circle cx="256.77" cy="205.00" r="0.7" fill="#c8102e"/>
<circle cx="256.38" cy="206.50" r="0.7" fill="#c8102e"/>
<circle cx="256.66" cy="214.00" r="0.7" fill="#c8102e"/>
<circle cx="256.57" cy="224.50" r="0.7" fill="#c8102e"/>
<circle cx="256.31" cy="225.80" r="0.7" fill="#c8102e"/>
<circle cx="256.39" cy="227.00" r="0.7" fill="#c8102e"/>
<circle cx="256.09" cy="236.50" r="0.7" fill="#c8102e"/>
<circle cx="256.18" cy="238.50" r="0.7" fill="#c8102e"/>
<circle cx="256.85" cy="240.00" r="0.7" fill="#c8102e"/>
<circle cx="256.32" cy="241.00" r="0.7" fill="#c8102e"/>
<line x1="248.7" y1="228.5" x2="252.7" y2="228.5" stroke="#1f5a99" stroke-width="1.0"/>
<line x1="254.5" y1="226.5" x2="258.5" y2="226.5" stroke="#c8102e" stroke-width="1.0"/>
<line x1="14" y1="296.5" x2="265" y2="296.5" stroke="#231f20" stroke-width="1.0"/>
<text x="48.50" y="304.69" font-size="5.8" fill="#222" stroke="#222" stroke-width="0.08">Dynamic clones</text>
<circle cx="98.50" cy="302.40" r="1.25" fill="#7b3f98"/>
<text x="101.80" y="304.69" font-size="5.8" fill="#222" stroke="#222" stroke-width="0.08">Novel</text>
<circle cx="126.50" cy="302.40" r="1.25" fill="#8fc8e0"/>
<text x="129.80" y="304.69" font-size="5.8" fill="#222" stroke="#222" stroke-width="0.08">Expanded</text>
<circle cx="165.80" cy="302.40" r="1.25" fill="#444"/>
<text x="169.10" y="304.69" font-size="5.8" fill="#222" stroke="#222" stroke-width="0.08">Extinct</text>
<circle cx="194.50" cy="302.40" r="1.25" fill="#3aa035"/>
<text x="197.80" y="304.69" font-size="5.8" fill="#222" stroke="#222" stroke-width="0.08">Contracted</text>
<text transform="translate(305.40 194.90) scale(1.137 1)" x="0" y="0" font-size="10.87" font-weight="bold" fill="#000">D</text>
<line x1="336.1" y1="208.5" x2="336.1" y2="271.0" stroke="#231f20" stroke-width="1.6"/>
<line x1="336.3" y1="270.5" x2="366.5" y2="270.5" stroke="#231f20" stroke-width="1"/>
<line x1="334.5" y1="269.5" x2="336.8" y2="269.5" stroke="#231f20" stroke-width="1"/>
<text x="330.80" y="271.23" font-size="6.2" text-anchor="end" fill="#222" stroke="#222" stroke-width="0.08">0</text>
<line x1="334.5" y1="254.5" x2="336.8" y2="254.5" stroke="#231f20" stroke-width="1"/>
<text x="330.80" y="256.91" font-size="6.2" text-anchor="end" fill="#222" stroke="#222" stroke-width="0.08">25</text>
<line x1="334.5" y1="240.5" x2="336.8" y2="240.5" stroke="#231f20" stroke-width="1"/>
<text x="330.80" y="242.58" font-size="6.2" text-anchor="end" fill="#222" stroke="#222" stroke-width="0.08">50</text>
<line x1="334.5" y1="226.5" x2="336.8" y2="226.5" stroke="#231f20" stroke-width="1"/>
<text x="330.80" y="228.26" font-size="6.2" text-anchor="end" fill="#222" stroke="#222" stroke-width="0.08">75</text>
<line x1="334.5" y1="211.5" x2="336.8" y2="211.5" stroke="#231f20" stroke-width="1"/>
<text x="330.80" y="213.93" font-size="6.2" text-anchor="end" fill="#222" stroke="#222" stroke-width="0.08">100</text>
<text x="314.44" y="235.00" font-size="9.0" text-anchor="middle" textLength="31.3" lengthAdjust="spacingAndGlyphs" fill="#222" stroke="#222" stroke-width="0.04" transform="rotate(-90 314.44 235.00)">% myeloid</text>
<line x1="346.5" y1="270" x2="346.5" y2="272.2" stroke="#231f20" stroke-width="1"/>
<line x1="360.5" y1="270" x2="360.5" y2="272.2" stroke="#231f20" stroke-width="1"/>
<text x="346.60" y="283.10" font-size="6.4" text-anchor="middle" fill="#222" stroke="#222" stroke-width="0.08">NR</text>
<text x="360.30" y="283.10" font-size="6.4" text-anchor="middle" fill="#222" stroke="#222" stroke-width="0.08">R</text>
<line x1="346.6" y1="206.5" x2="360.3" y2="206.5" stroke="#231f20" stroke-width="0.8"/>
<line x1="346.5" y1="206.6" x2="346.5" y2="207.8" stroke="#231f20" stroke-width="0.8"/>
<line x1="360.5" y1="206.6" x2="360.5" y2="207.8" stroke="#231f20" stroke-width="0.8"/>
<text x="353.50" y="204.14" font-size="5.4" text-anchor="middle" fill="#222" stroke="#222" stroke-width="0.08">0.027</text>
<circle cx="346.70" cy="212.50" r="1.1" fill="#c8102e"/>
<circle cx="346.37" cy="214.20" r="1.1" fill="#c8102e"/>
<circle cx="346.64" cy="215.50" r="1.1" fill="#a01830"/>
<circle cx="346.52" cy="216.80" r="1.1" fill="#c8102e"/>
<circle cx="346.60" cy="229.20" r="1.1" fill="#6a1a2a"/>
<circle cx="346.48" cy="245.80" r="1.1" fill="#9a2030"/>
<circle cx="346.34" cy="265.50" r="1.1" fill="#d89098"/>
<line x1="341.5" y1="217.5" x2="351.5" y2="217.5" stroke="#c8102e" stroke-width="1.0"/>
<circle cx="360.19" cy="224.60" r="1.1" fill="#1a2a50"/>
<circle cx="360.14" cy="238.30" r="1.1" fill="#8aa6c8"/>
<circle cx="360.08" cy="244.50" r="1.1" fill="#8aa6c8"/>
<circle cx="360.43" cy="246.00" r="1.1" fill="#8aa6c8"/>
<circle cx="360.17" cy="257.80" r="1.1" fill="#1a2a50"/>
<circle cx="360.24" cy="260.80" r="1.1" fill="#5a8ac0"/>
<circle cx="360.55" cy="264.20" r="1.1" fill="#5a8ac0"/>
<circle cx="360.46" cy="267.50" r="1.1" fill="#5a8ac0"/>
<line x1="355" y1="254.5" x2="366" y2="254.5" stroke="#1f4e79" stroke-width="1.0"/>
<line x1="409.5" y1="202" x2="409.5" y2="268" stroke="#231f20" stroke-width="1"/>
<line x1="409.2" y1="267.5" x2="496" y2="267.5" stroke="#231f20" stroke-width="1"/>
<line x1="407" y1="204.5" x2="409.2" y2="204.5" stroke="#231f20" stroke-width="1"/>
<text x="404.40" y="207.03" font-size="6.2" text-anchor="end" fill="#222" stroke="#222" stroke-width="0.08">100</text>
<line x1="407" y1="217.5" x2="409.2" y2="217.5" stroke="#231f20" stroke-width="1"/>
<text x="404.40" y="219.43" font-size="6.2" text-anchor="end" fill="#222" stroke="#222" stroke-width="0.08">10</text>
<line x1="407" y1="229.5" x2="409.2" y2="229.5" stroke="#231f20" stroke-width="1"/>
<text x="404.40" y="231.83" font-size="6.2" text-anchor="end" fill="#222" stroke="#222" stroke-width="0.08">1</text>
<line x1="407" y1="242.5" x2="409.2" y2="242.5" stroke="#231f20" stroke-width="1"/>
<text x="404.40" y="244.23" font-size="6.2" text-anchor="end" fill="#222" stroke="#222" stroke-width="0.08">0.1</text>
<line x1="407" y1="254.5" x2="409.2" y2="254.5" stroke="#231f20" stroke-width="1"/>
<text x="404.40" y="256.63" font-size="6.2" text-anchor="end" fill="#222" stroke="#222" stroke-width="0.08">0.01</text>
<text x="386.54" y="234.60" font-size="9.0" text-anchor="middle" textLength="60.8" lengthAdjust="spacingAndGlyphs" fill="#222" stroke="#222" stroke-width="0.04" transform="rotate(-90 386.54 234.60)">T/NK to myeloid ratio</text>
<line x1="417.5" y1="267.5" x2="417.5" y2="270.2" stroke="#231f20" stroke-width="1"/>
<text x="417.00" y="279.23" font-size="6.2" text-anchor="middle" fill="#222" stroke="#222" stroke-width="0.08">1</text>
<line x1="432.5" y1="267.5" x2="432.5" y2="270.2" stroke="#231f20" stroke-width="1"/>
<text x="432.80" y="279.23" font-size="6.2" text-anchor="middle" fill="#222" stroke="#222" stroke-width="0.08">25</text>
<line x1="441.5" y1="267.5" x2="441.5" y2="270.2" stroke="#231f20" stroke-width="1"/>
<text x="441.30" y="279.23" font-size="6.2" text-anchor="middle" fill="#222" stroke="#222" stroke-width="0.08">50</text>
<line x1="454.5" y1="267.5" x2="454.5" y2="270.2" stroke="#231f20" stroke-width="1"/>
<text x="454.00" y="279.23" font-size="6.2" text-anchor="middle" fill="#222" stroke="#222" stroke-width="0.08">100</text>
<line x1="469.5" y1="267.5" x2="469.5" y2="270.2" stroke="#231f20" stroke-width="1"/>
<text x="469.80" y="279.23" font-size="6.2" text-anchor="middle" fill="#222" stroke="#222" stroke-width="0.08">200</text>
<line x1="494.5" y1="267.5" x2="494.5" y2="270.2" stroke="#231f20" stroke-width="1"/>
<text x="494.00" y="279.23" font-size="6.2" text-anchor="middle" fill="#222" stroke="#222" stroke-width="0.08">400</text>
<text x="453.30" y="291.84" font-size="9.0" text-anchor="middle" textLength="37.5" lengthAdjust="spacingAndGlyphs" fill="#222" stroke="#222" stroke-width="0.04">Day on study</text>
<path d="M413,218.5 C440,219 455,218 470,214 L493,209.4 L493,232.7 C480,229 460,224.5 440,223.5 C430,223.2 420,223.2 413,223 Z" fill="#c3c6e0" opacity="0.85"/>
<path d="M413,233.5 C430,233 445,233 460,234 L484.6,234.2 L484.6,263.5 C472,250 460,243 445,240 C430,239 420,239 413,239 Z" fill="#f4c6bc" opacity="0.8"/>
<path d="M413.00,214.30 L437.00,228.00 L453.00,239.00" fill="none" stroke="#c8102e" stroke-width="0.65" opacity="0.9"/>
<circle cx="413.00" cy="214.30" r="1.0" fill="#c8102e"/>
<circle cx="437.00" cy="228.00" r="1.0" fill="#c8102e"/>
<circle cx="453.00" cy="239.00" r="1.0" fill="#c8102e"/>
<path d="M413.00,216.50 L435.00,228.50 L445.00,234.00" fill="none" stroke="#d0304a" stroke-width="0.65" opacity="0.9"/>
<circle cx="413.00" cy="216.50" r="1.0" fill="#d0304a"/>
<circle cx="435.00" cy="228.50" r="1.0" fill="#d0304a"/>
<circle cx="445.00" cy="234.00" r="1.0" fill="#d0304a"/>
<path d="M413.00,235.20 L432.00,236.50 L451.00,236.50 L470.00,236.00" fill="none" stroke="#b81d3a" stroke-width="0.65" opacity="0.9"/>
<circle cx="413.00" cy="235.20" r="1.0" fill="#b81d3a"/>
<circle cx="432.00" cy="236.50" r="1.0" fill="#b81d3a"/>
<circle cx="451.00" cy="236.50" r="1.0" fill="#b81d3a"/>
<circle cx="470.00" cy="236.00" r="1.0" fill="#b81d3a"/>
<path d="M413.00,236.00 L428.00,233.00 L442.00,237.00 L462.00,237.00" fill="none" stroke="#e0505f" stroke-width="0.65" opacity="0.9"/>
<circle cx="413.00" cy="236.00" r="1.0" fill="#e0505f"/>
<circle cx="428.00" cy="233.00" r="1.0" fill="#e0505f"/>
<circle cx="442.00" cy="237.00" r="1.0" fill="#e0505f"/>
<circle cx="462.00" cy="237.00" r="1.0" fill="#e0505f"/>
<path d="M413.00,238.00 L430.00,236.00 L447.00,238.00 L465.00,240.00" fill="none" stroke="#a01a30" stroke-width="0.65" opacity="0.9"/>
<circle cx="413.00" cy="238.00" r="1.0" fill="#a01a30"/>
<circle cx="430.00" cy="236.00" r="1.0" fill="#a01a30"/>
<circle cx="447.00" cy="238.00" r="1.0" fill="#a01a30"/>
<circle cx="465.00" cy="240.00" r="1.0" fill="#a01a30"/>
<path d="M413.00,240.00 L433.00,236.50 L450.00,237.00 L466.00,243.00" fill="none" stroke="#c8102e" stroke-width="0.65" opacity="0.9"/>
<circle cx="413.00" cy="240.00" r="1.0" fill="#c8102e"/>
<circle cx="433.00" cy="236.50" r="1.0" fill="#c8102e"/>
<circle cx="450.00" cy="237.00" r="1.0" fill="#c8102e"/>
<circle cx="466.00" cy="243.00" r="1.0" fill="#c8102e"/>
<path d="M413.00,241.30 L432.00,234.00 L441.00,236.00" fill="none" stroke="#d0304a" stroke-width="0.65" opacity="0.9"/>
<circle cx="413.00" cy="241.30" r="1.0" fill="#d0304a"/>
<circle cx="432.00" cy="234.00" r="1.0" fill="#d0304a"/>
<circle cx="441.00" cy="236.00" r="1.0" fill="#d0304a"/>
<path d="M413.00,243.50 L435.00,237.00 L455.00,240.00 L473.00,246.00" fill="none" stroke="#b81d3a" stroke-width="0.65" opacity="0.9"/>
<circle cx="413.00" cy="243.50" r="1.0" fill="#b81d3a"/>
<circle cx="435.00" cy="237.00" r="1.0" fill="#b81d3a"/>
<circle cx="455.00" cy="240.00" r="1.0" fill="#b81d3a"/>
<circle cx="473.00" cy="246.00" r="1.0" fill="#b81d3a"/>
<path d="M413.00,246.00 L431.00,238.00 L452.00,242.00 L462.00,248.50" fill="none" stroke="#e0505f" stroke-width="0.65" opacity="0.9"/>
<circle cx="413.00" cy="246.00" r="1.0" fill="#e0505f"/>
<circle cx="431.00" cy="238.00" r="1.0" fill="#e0505f"/>
<circle cx="452.00" cy="242.00" r="1.0" fill="#e0505f"/>
<circle cx="462.00" cy="248.50" r="1.0" fill="#e0505f"/>
<path d="M413.00,247.50 L436.00,239.00 L458.00,243.00 L470.00,249.00" fill="none" stroke="#a01a30" stroke-width="0.65" opacity="0.9"/>
<circle cx="413.00" cy="247.50" r="1.0" fill="#a01a30"/>
<circle cx="436.00" cy="239.00" r="1.0" fill="#a01a30"/>
<circle cx="458.00" cy="243.00" r="1.0" fill="#a01a30"/>
<circle cx="470.00" cy="249.00" r="1.0" fill="#a01a30"/>
<path d="M413.00,248.50 L434.00,251.00 L455.50,247.50" fill="none" stroke="#c8102e" stroke-width="0.65" opacity="0.9"/>
<circle cx="413.00" cy="248.50" r="1.0" fill="#c8102e"/>
<circle cx="434.00" cy="251.00" r="1.0" fill="#c8102e"/>
<circle cx="455.50" cy="247.50" r="1.0" fill="#c8102e"/>
<path d="M413.00,232.00 L433.00,232.00 L440.00,239.00" fill="none" stroke="#d0304a" stroke-width="0.65" opacity="0.9"/>
<circle cx="413.00" cy="232.00" r="1.0" fill="#d0304a"/>
<circle cx="433.00" cy="232.00" r="1.0" fill="#d0304a"/>
<circle cx="440.00" cy="239.00" r="1.0" fill="#d0304a"/>
<path d="M413.00,205.60 L437.50,208.20 L441.50,212.00" fill="none" stroke="#2c6aa0" stroke-width="0.65" opacity="0.9"/>
<circle cx="413.00" cy="205.60" r="1.0" fill="#2c6aa0"/>
<circle cx="437.50" cy="208.20" r="1.0" fill="#2c6aa0"/>
<circle cx="441.50" cy="212.00" r="1.0" fill="#2c6aa0"/>
<path d="M413.00,214.30 L436.00,210.50 L444.00,208.50 L455.00,216.00 L460.00,219.00" fill="none" stroke="#1f4e79" stroke-width="0.65" opacity="0.9"/>
<circle cx="413.00" cy="214.30" r="1.0" fill="#1f4e79"/>
<circle cx="436.00" cy="210.50" r="1.0" fill="#1f4e79"/>
<circle cx="444.00" cy="208.50" r="1.0" fill="#1f4e79"/>
<circle cx="455.00" cy="216.00" r="1.0" fill="#1f4e79"/>
<circle cx="460.00" cy="219.00" r="1.0" fill="#1f4e79"/>
<path d="M413.00,219.50 L430.00,213.00 L441.00,208.50 L456.00,219.00" fill="none" stroke="#3a7cb8" stroke-width="0.65" opacity="0.9"/>
<circle cx="413.00" cy="219.50" r="1.0" fill="#3a7cb8"/>
<circle cx="430.00" cy="213.00" r="1.0" fill="#3a7cb8"/>
<circle cx="441.00" cy="208.50" r="1.0" fill="#3a7cb8"/>
<circle cx="456.00" cy="219.00" r="1.0" fill="#3a7cb8"/>
<path d="M413.00,221.50 L436.00,220.00 L452.00,216.00 L468.00,216.50" fill="none" stroke="#2a5d93" stroke-width="0.65" opacity="0.9"/>
<circle cx="413.00" cy="221.50" r="1.0" fill="#2a5d93"/>
<circle cx="436.00" cy="220.00" r="1.0" fill="#2a5d93"/>
<circle cx="452.00" cy="216.00" r="1.0" fill="#2a5d93"/>
<circle cx="468.00" cy="216.50" r="1.0" fill="#2a5d93"/>
<path d="M413.00,224.50 L434.00,218.50 L441.00,224.00 L448.00,228.50" fill="none" stroke="#4a8ac0" stroke-width="0.65" opacity="0.9"/>
<circle cx="413.00" cy="224.50" r="1.0" fill="#4a8ac0"/>
<circle cx="434.00" cy="218.50" r="1.0" fill="#4a8ac0"/>
<circle cx="441.00" cy="224.00" r="1.0" fill="#4a8ac0"/>
<circle cx="448.00" cy="228.50" r="1.0" fill="#4a8ac0"/>
<path d="M413.00,226.50 L429.00,223.00 L444.00,217.00 L465.00,220.00 L478.00,210.00" fill="none" stroke="#1d6a8a" stroke-width="0.65" opacity="0.9"/>
<circle cx="413.00" cy="226.50" r="1.0" fill="#1d6a8a"/>
<circle cx="429.00" cy="223.00" r="1.0" fill="#1d6a8a"/>
<circle cx="444.00" cy="217.00" r="1.0" fill="#1d6a8a"/>
<circle cx="465.00" cy="220.00" r="1.0" fill="#1d6a8a"/>
<circle cx="478.00" cy="210.00" r="1.0" fill="#1d6a8a"/>
<path d="M413.00,216.50 L432.00,222.50 L446.00,220.00 L462.00,222.00" fill="none" stroke="#2c6aa0" stroke-width="0.65" opacity="0.9"/>
<circle cx="413.00" cy="216.50" r="1.0" fill="#2c6aa0"/>
<circle cx="432.00" cy="222.50" r="1.0" fill="#2c6aa0"/>
<circle cx="446.00" cy="220.00" r="1.0" fill="#2c6aa0"/>
<circle cx="462.00" cy="222.00" r="1.0" fill="#2c6aa0"/>
<path d="M413.00,228.00 L436.00,218.00 L448.00,228.50 L463.00,223.00" fill="none" stroke="#1f4e79" stroke-width="0.65" opacity="0.9"/>
<circle cx="413.00" cy="228.00" r="1.0" fill="#1f4e79"/>
<circle cx="436.00" cy="218.00" r="1.0" fill="#1f4e79"/>
<circle cx="448.00" cy="228.50" r="1.0" fill="#1f4e79"/>
<circle cx="463.00" cy="223.00" r="1.0" fill="#1f4e79"/>
<path d="M413.00,229.60 L437.00,225.50 L447.00,216.00" fill="none" stroke="#3a7cb8" stroke-width="0.65" opacity="0.9"/>
<circle cx="413.00" cy="229.60" r="1.0" fill="#3a7cb8"/>
<circle cx="437.00" cy="225.50" r="1.0" fill="#3a7cb8"/>
<circle cx="447.00" cy="216.00" r="1.0" fill="#3a7cb8"/>
<path d="M413.00,218.50 L433.00,224.00 L445.00,222.00 L462.00,227.00 L465.00,228.50" fill="none" stroke="#2a5d93" stroke-width="0.65" opacity="0.9"/>
<circle cx="413.00" cy="218.50" r="1.0" fill="#2a5d93"/>
<circle cx="433.00" cy="224.00" r="1.0" fill="#2a5d93"/>
<circle cx="445.00" cy="222.00" r="1.0" fill="#2a5d93"/>
<circle cx="462.00" cy="227.00" r="1.0" fill="#2a5d93"/>
<circle cx="465.00" cy="228.50" r="1.0" fill="#2a5d93"/>
<path d="M413,235.8 C430,235.6 448,236 460,238.5 C470,241 478,245 484.6,248" fill="none" stroke="#b8102a" stroke-width="1.35"/>
<path d="M413,221.6 C440,221 465,221 493,221.3" fill="none" stroke="#1f5a8e" stroke-width="1.35"/>
<circle cx="484.60" cy="248.00" r="1.3" fill="#8a1020"/>
<circle cx="493.00" cy="221.30" r="1.3" fill="#1f4e79"/>
<line x1="313.7" y1="296.5" x2="486.7" y2="296.5" stroke="#231f20" stroke-width="1.0"/>
<circle cx="316.00" cy="304.50" r="1.4" fill="#c8102e"/>
<circle cx="320.30" cy="304.50" r="1.3" fill="#fff" stroke="#c8102e" stroke-width="0.7"/>
<text x="325.80" y="303.39" font-size="5.8" fill="#222" stroke="#222" stroke-width="0.08">Non-response</text>
<text x="325.80" y="309.89" font-size="5.8" fill="#222" stroke="#222" stroke-width="0.08">post-HSCT / transplant-naive</text>
<circle cx="408.50" cy="304.40" r="1.4" fill="#1f4e79"/>
<circle cx="412.80" cy="304.40" r="1.3" fill="#fff" stroke="#1f4e79" stroke-width="0.7"/>
<text x="417.30" y="302.69" font-size="5.8" fill="#222" stroke="#222" stroke-width="0.08">Response</text>
<text x="417.30" y="310.29" font-size="5.8" fill="#222" stroke="#222" stroke-width="0.08">post-HSCT / transplant-naive</text>
<text transform="translate(8.93 338.80) scale(0.944 1)" x="0" y="0" font-size="10.87" font-weight="bold" fill="#000">E</text>
<rect x="30.60" y="373.70" width="39.10" height="76.60" fill="#eab5a7"/>
<rect x="83.50" y="373.70" width="38.50" height="76.60" fill="#b7bedf"/>
<line x1="30.5" y1="374.4" x2="30.5" y2="451" stroke="#231f20" stroke-width="1"/>
<line x1="30.1" y1="450.5" x2="122.5" y2="450.5" stroke="#231f20" stroke-width="1"/>
<line x1="28.4" y1="446.5" x2="30.6" y2="446.5" stroke="#231f20" stroke-width="1"/>
<text x="24.80" y="449.00" font-size="6.4" text-anchor="middle" fill="#222" stroke="#222" stroke-width="0.08">0</text>
<line x1="28.4" y1="426.5" x2="30.6" y2="426.5" stroke="#231f20" stroke-width="1"/>
<text x="24.80" y="428.70" font-size="6.4" text-anchor="middle" fill="#222" stroke="#222" stroke-width="0.08">1</text>
<line x1="28.4" y1="406.5" x2="30.6" y2="406.5" stroke="#231f20" stroke-width="1"/>
<text x="24.80" y="408.40" font-size="6.4" text-anchor="middle" fill="#222" stroke="#222" stroke-width="0.08">2</text>
<line x1="28.4" y1="385.5" x2="30.6" y2="385.5" stroke="#231f20" stroke-width="1"/>
<text x="24.80" y="388.10" font-size="6.4" text-anchor="middle" fill="#222" stroke="#222" stroke-width="0.08">3</text>
<line x1="47.5" y1="450.5" x2="47.5" y2="452.7" stroke="#231f20" stroke-width="1"/>
<text x="47.60" y="462.08" font-size="6.6" text-anchor="middle" fill="#222" stroke="#222" stroke-width="0.08">-2</text>
<line x1="75.5" y1="450.5" x2="75.5" y2="452.7" stroke="#231f20" stroke-width="1"/>
<text x="75.80" y="462.08" font-size="6.6" text-anchor="middle" fill="#222" stroke="#222" stroke-width="0.08">0</text>
<line x1="104.5" y1="450.5" x2="104.5" y2="452.7" stroke="#231f20" stroke-width="1"/>
<text x="104.00" y="462.08" font-size="6.6" text-anchor="middle" fill="#222" stroke="#222" stroke-width="0.08">2</text>
<text x="76.70" y="473.54" font-size="9.0" text-anchor="middle" textLength="20.6" lengthAdjust="spacingAndGlyphs" fill="#222" stroke="#222" stroke-width="0.04">Log2FC</text>
<text x="15.00" y="412.30" font-size="8.6" text-anchor="middle" textLength="36" lengthAdjust="spacingAndGlyphs" fill="#222" stroke="#222" stroke-width="0.04" transform="rotate(-90 15.00 412.30)">−log<tspan font-size="4.3" dy="1.6">10</tspan><tspan dy="-1.6">(FDR)</tspan></text>
<text x="51.20" y="351.94" font-size="7.6" text-anchor="middle" textLength="11.3" lengthAdjust="spacingAndGlyphs" fill="#222" stroke="#222" stroke-width="0.08">NR</text>
<text x="55.00" y="361.94" font-size="7.6" text-anchor="middle" textLength="28.8" lengthAdjust="spacingAndGlyphs" fill="#222" stroke="#222" stroke-width="0.08">(n = 25)</text>
<text x="102.10" y="351.94" font-size="7.6" text-anchor="middle" fill="#222" stroke="#222" stroke-width="0.08">R</text>
<text x="105.60" y="361.94" font-size="7.6" text-anchor="middle" textLength="28.8" lengthAdjust="spacingAndGlyphs" fill="#222" stroke="#222" stroke-width="0.08">(n = 13)</text>
<line x1="39" y1="367.5" x2="65.6" y2="367.5" stroke="#231f20" stroke-width="1"/>
<path d="M36.5,367.5 L42,365.2 L40.6,367.5 L42,369.8Z" fill="#231f20"/>
<line x1="87.7" y1="367.5" x2="114.5" y2="367.5" stroke="#231f20" stroke-width="1"/>
<path d="M117.2,367.5 L111.7,365.2 L113.1,367.5 L111.7,369.8Z" fill="#231f20"/>
<circle cx="74.31" cy="438.34" r="1.25" fill="#c6c6c2" opacity="0.95"/>
<circle cx="75.31" cy="439.11" r="1.25" fill="#c6c6c2" opacity="0.95"/>
<circle cx="72.10" cy="444.44" r="1.25" fill="#c6c6c2" opacity="0.95"/>
<circle cx="80.71" cy="434.33" r="1.25" fill="#c6c6c2" opacity="0.95"/>
<circle cx="73.03" cy="444.86" r="1.25" fill="#c6c6c2" opacity="0.95"/>
<circle cx="74.50" cy="447.62" r="1.25" fill="#c6c6c2" opacity="0.95"/>
<circle cx="78.15" cy="435.47" r="1.25" fill="#c6c6c2" opacity="0.95"/>
<circle cx="70.80" cy="448.76" r="1.25" fill="#c6c6c2" opacity="0.95"/>
<circle cx="73.73" cy="444.78" r="1.25" fill="#c6c6c2" opacity="0.95"/>
<circle cx="74.78" cy="440.13" r="1.25" fill="#c6c6c2" opacity="0.95"/>
<circle cx="76.49" cy="437.07" r="1.25" fill="#c6c6c2" opacity="0.95"/>
<circle cx="77.86" cy="436.11" r="1.25" fill="#c6c6c2" opacity="0.95"/>
<circle cx="83.89" cy="430.47" r="1.25" fill="#c6c6c2" opacity="0.95"/>
<circle cx="78.83" cy="435.95" r="1.25" fill="#c6c6c2" opacity="0.95"/>
<circle cx="76.57" cy="443.41" r="1.25" fill="#c6c6c2" opacity="0.95"/>
<circle cx="76.71" cy="439.31" r="1.25" fill="#c6c6c2" opacity="0.95"/>
<circle cx="81.45" cy="431.11" r="1.25" fill="#c6c6c2" opacity="0.95"/>
<circle cx="75.00" cy="443.27" r="1.25" fill="#c6c6c2" opacity="0.95"/>
<circle cx="81.28" cy="431.10" r="1.25" fill="#c6c6c2" opacity="0.95"/>
<circle cx="78.55" cy="435.37" r="1.25" fill="#c6c6c2" opacity="0.95"/>
<circle cx="70.95" cy="449.71" r="1.25" fill="#c6c6c2" opacity="0.95"/>
<circle cx="80.22" cy="434.94" r="1.25" fill="#c6c6c2" opacity="0.95"/>
<circle cx="74.38" cy="447.32" r="1.25" fill="#c6c6c2" opacity="0.95"/>
<circle cx="72.45" cy="444.22" r="1.25" fill="#c6c6c2" opacity="0.95"/>
<circle cx="73.66" cy="443.77" r="1.25" fill="#c6c6c2" opacity="0.95"/>
<circle cx="79.39" cy="437.05" r="1.25" fill="#c6c6c2" opacity="0.95"/>
<circle cx="73.63" cy="447.42" r="1.25" fill="#c6c6c2" opacity="0.95"/>
<circle cx="79.27" cy="436.10" r="1.25" fill="#c6c6c2" opacity="0.95"/>
<circle cx="72.26" cy="445.61" r="1.25" fill="#c6c6c2" opacity="0.95"/>
<circle cx="81.19" cy="438.48" r="1.25" fill="#c6c6c2" opacity="0.95"/>
<circle cx="73.90" cy="446.22" r="1.25" fill="#c6c6c2" opacity="0.95"/>
<circle cx="75.20" cy="442.18" r="1.25" fill="#c6c6c2" opacity="0.95"/>
<circle cx="71.69" cy="446.25" r="1.25" fill="#c6c6c2" opacity="0.95"/>
<circle cx="77.29" cy="437.88" r="1.25" fill="#c6c6c2" opacity="0.95"/>
<circle cx="80.01" cy="431.30" r="1.25" fill="#c6c6c2" opacity="0.95"/>
<circle cx="80.87" cy="433.24" r="1.25" fill="#c6c6c2" opacity="0.95"/>
<circle cx="81.33" cy="431.01" r="1.25" fill="#c6c6c2" opacity="0.95"/>
<circle cx="73.54" cy="441.39" r="1.25" fill="#c6c6c2" opacity="0.95"/>
<circle cx="75.96" cy="443.50" r="1.25" fill="#c6c6c2" opacity="0.95"/>
<circle cx="77.69" cy="437.10" r="1.25" fill="#c6c6c2" opacity="0.95"/>
<circle cx="72.41" cy="447.87" r="1.25" fill="#c6c6c2" opacity="0.95"/>
<circle cx="79.02" cy="437.56" r="1.25" fill="#c6c6c2" opacity="0.95"/>
<circle cx="77.89" cy="437.71" r="1.25" fill="#c6c6c2" opacity="0.95"/>
<circle cx="79.98" cy="435.28" r="1.25" fill="#c6c6c2" opacity="0.95"/>
<circle cx="78.62" cy="436.13" r="1.25" fill="#c6c6c2" opacity="0.95"/>
<circle cx="75.42" cy="442.20" r="1.25" fill="#c6c6c2" opacity="0.95"/>
<circle cx="71.07" cy="450.19" r="1.25" fill="#c6c6c2" opacity="0.95"/>
<circle cx="72.44" cy="448.60" r="1.25" fill="#c6c6c2" opacity="0.95"/>
<circle cx="78.54" cy="438.25" r="1.25" fill="#c6c6c2" opacity="0.95"/>
<circle cx="82.43" cy="431.94" r="1.25" fill="#c6c6c2" opacity="0.95"/>
<circle cx="78.46" cy="435.00" r="1.25" fill="#c6c6c2" opacity="0.95"/>
<circle cx="73.95" cy="448.52" r="1.25" fill="#c6c6c2" opacity="0.95"/>
<circle cx="79.30" cy="435.14" r="1.25" fill="#c6c6c2" opacity="0.95"/>
<circle cx="76.69" cy="436.50" r="1.25" fill="#c6c6c2" opacity="0.95"/>
<circle cx="75.64" cy="441.88" r="1.25" fill="#c6c6c2" opacity="0.95"/>
<circle cx="77.39" cy="435.01" r="1.25" fill="#c6c6c2" opacity="0.95"/>
<circle cx="78.86" cy="432.40" r="1.25" fill="#c6c6c2" opacity="0.95"/>
<circle cx="80.05" cy="433.39" r="1.25" fill="#c6c6c2" opacity="0.95"/>
<circle cx="81.71" cy="431.04" r="1.25" fill="#c6c6c2" opacity="0.95"/>
<circle cx="80.85" cy="432.47" r="1.25" fill="#c6c6c2" opacity="0.95"/>
<circle cx="84.50" cy="434.00" r="1.2" fill="#c6c6c2"/>
<circle cx="85.50" cy="438.00" r="1.2" fill="#c6c6c2"/>
<circle cx="84.80" cy="441.00" r="1.2" fill="#c6c6c2"/>
<circle cx="86.00" cy="444.00" r="1.2" fill="#c6c6c2"/>
<line x1="69.5" y1="373.7" x2="69.5" y2="450.5" stroke="#231f20" stroke-width="1"/>
<line x1="83.5" y1="373.7" x2="83.5" y2="450.5" stroke="#231f20" stroke-width="1"/>
<line x1="30.6" y1="420.5" x2="122.5" y2="420.5" stroke="#231f20" stroke-width="1"/>
<circle cx="95.50" cy="377.00" r="1.4" fill="#1f3f73"/>
<circle cx="93.00" cy="416.70" r="1.4" fill="#1f3f73"/>
<circle cx="100.80" cy="416.70" r="1.4" fill="#1f3f73"/>
<circle cx="104.60" cy="416.70" r="1.4" fill="#1f3f73"/>
<circle cx="116.30" cy="416.70" r="1.4" fill="#1f3f73"/>
<text x="100.00" y="380.83" font-size="6.2" fill="#222" stroke="#222" stroke-width="0.08">CXCL1</text>
<text x="73.30" y="412.16" font-size="6.0" fill="#222" stroke="#222" stroke-width="0.08">LAMP3</text>
<text x="86.60" y="401.16" font-size="6.0" fill="#222" stroke="#222" stroke-width="0.08">CXCL5</text>
<text x="113.00" y="395.96" font-size="6.0" fill="#222" stroke="#222" stroke-width="0.08">PDGF</text>
<text x="113.00" y="402.56" font-size="6.0" fill="#222" stroke="#222" stroke-width="0.08">subunit B</text>
<text x="118.40" y="410.66" font-size="6.0" fill="#222" stroke="#222" stroke-width="0.08">EGF</text>
<line x1="100.5" y1="402.5" x2="100.5" y2="413.5" stroke="#231f20" stroke-width="0.8"/>
<line x1="112.3" y1="402.5" x2="105.8" y2="413.5" stroke="#231f20" stroke-width="0.8"/>
<line x1="89.5" y1="412" x2="92.3" y2="414.5" stroke="#231f20" stroke-width="0.8"/>
<line x1="118.8" y1="411.5" x2="117.0" y2="415.0" stroke="#231f20" stroke-width="0.8"/>
<text transform="translate(149.09 338.90) scale(0.866 1)" x="0" y="0" font-size="10.87" font-weight="bold" fill="#000">F</text>
<circle cx="178.60" cy="343.70" r="2.1" fill="#c8102e"/>
<text x="183.60" y="345.92" font-size="5.9" fill="#222" stroke="#222" stroke-width="0.08">Non-response</text>
<circle cx="178.60" cy="351.50" r="2.1" fill="#1f3f73"/>
<text x="183.60" y="353.72" font-size="5.9" fill="#222" stroke="#222" stroke-width="0.08">Response</text>
<line x1="177.5" y1="360" x2="177.5" y2="406.1" stroke="#231f20" stroke-width="1"/>
<line x1="176.8" y1="405.5" x2="220.5" y2="405.5" stroke="#231f20" stroke-width="1"/>
<line x1="175.1" y1="369.5" x2="177.3" y2="369.5" stroke="#231f20" stroke-width="1"/>
<text x="172.00" y="371.93" font-size="6.2" text-anchor="end" fill="#222" stroke="#222" stroke-width="0.08">5</text>
<line x1="175.1" y1="380.5" x2="177.3" y2="380.5" stroke="#231f20" stroke-width="1"/>
<text x="172.00" y="382.73" font-size="6.2" text-anchor="end" fill="#222" stroke="#222" stroke-width="0.08">0</text>
<line x1="175.1" y1="392.5" x2="177.3" y2="392.5" stroke="#231f20" stroke-width="1"/>
<text x="172.00" y="394.53" font-size="6.2" text-anchor="end" fill="#222" stroke="#222" stroke-width="0.08">−5</text>
<line x1="175.1" y1="403.5" x2="177.3" y2="403.5" stroke="#231f20" stroke-width="1"/>
<text x="172.00" y="405.53" font-size="6.2" text-anchor="end" fill="#222" stroke="#222" stroke-width="0.08">−10</text>
<line x1="184.5" y1="405.6" x2="184.5" y2="407.8" stroke="#231f20" stroke-width="1"/>
<line x1="192.5" y1="405.6" x2="192.5" y2="407.8" stroke="#231f20" stroke-width="1"/>
<line x1="200.5" y1="405.6" x2="200.5" y2="407.8" stroke="#231f20" stroke-width="1"/>
<line x1="207.5" y1="405.6" x2="207.5" y2="407.8" stroke="#231f20" stroke-width="1"/>
<line x1="216.5" y1="405.6" x2="216.5" y2="407.8" stroke="#231f20" stroke-width="1"/>
<text x="198.60" y="417.90" font-size="6.4" text-anchor="middle" textLength="42.8" lengthAdjust="spacingAndGlyphs" style="white-space:pre" fill="#222" stroke="#222" stroke-width="0.08">−10 0 1020 30</text>
<line x1="177.5" y1="448.5" x2="177.5" y2="494.2" stroke="#231f20" stroke-width="1"/>
<line x1="176.8" y1="493.5" x2="220.5" y2="493.5" stroke="#231f20" stroke-width="1"/>
<line x1="175.1" y1="457.5" x2="177.3" y2="457.5" stroke="#231f20" stroke-width="1"/>
<text x="172.00" y="459.93" font-size="6.2" text-anchor="end" fill="#222" stroke="#222" stroke-width="0.08">5</text>
<line x1="175.1" y1="468.5" x2="177.3" y2="468.5" stroke="#231f20" stroke-width="1"/>
<text x="172.00" y="470.93" font-size="6.2" text-anchor="end" fill="#222" stroke="#222" stroke-width="0.08">0</text>
<line x1="175.1" y1="480.5" x2="177.3" y2="480.5" stroke="#231f20" stroke-width="1"/>
<text x="172.00" y="482.43" font-size="6.2" text-anchor="end" fill="#222" stroke="#222" stroke-width="0.08">−5</text>
<line x1="175.1" y1="491.5" x2="177.3" y2="491.5" stroke="#231f20" stroke-width="1"/>
<text x="172.00" y="493.93" font-size="6.2" text-anchor="end" fill="#222" stroke="#222" stroke-width="0.08">−10</text>
<line x1="184.5" y1="493.7" x2="184.5" y2="495.9" stroke="#231f20" stroke-width="1"/>
<line x1="192.5" y1="493.7" x2="192.5" y2="495.9" stroke="#231f20" stroke-width="1"/>
<line x1="200.5" y1="493.7" x2="200.5" y2="495.9" stroke="#231f20" stroke-width="1"/>
<line x1="207.5" y1="493.7" x2="207.5" y2="495.9" stroke="#231f20" stroke-width="1"/>
<line x1="216.5" y1="493.7" x2="216.5" y2="495.9" stroke="#231f20" stroke-width="1"/>
<text x="198.60" y="506.00" font-size="6.4" text-anchor="middle" textLength="42.8" lengthAdjust="spacingAndGlyphs" style="white-space:pre" fill="#222" stroke="#222" stroke-width="0.08">−10 0 1020 30</text>
<circle cx="175.90" cy="432.00" r="2.0" fill="#1a4a30"/>
<text x="180.90" y="434.31" font-size="5.85" fill="#222" stroke="#222" stroke-width="0.08">Post-HSCT</text>
<circle cx="175.90" cy="439.80" r="2.0" fill="#c8c8c8"/>
<text x="180.90" y="442.01" font-size="5.85" fill="#222" stroke="#222" stroke-width="0.08">Transplant-naive</text>
<text x="156.77" y="429.80" font-size="8.8" text-anchor="middle" textLength="41.8" lengthAdjust="spacingAndGlyphs" fill="#222" stroke="#222" stroke-width="0.04" transform="rotate(-90 156.77 429.80)">PC2 (10.87 %)</text>
<text x="199.10" y="517.54" font-size="9.0" text-anchor="middle" textLength="43.8" lengthAdjust="spacingAndGlyphs" fill="#222" stroke="#222" stroke-width="0.04">PC1 (39.61 %)</text>
<circle cx="188.73" cy="388.44" r="1.15" fill="#c8102e" opacity="0.95"/>
<circle cx="192.86" cy="375.77" r="1.15" fill="#c8102e" opacity="0.95"/>
<circle cx="190.02" cy="379.57" r="1.15" fill="#c8102e" opacity="0.95"/>
<circle cx="199.91" cy="383.32" r="1.15" fill="#c8102e" opacity="0.95"/>
<circle cx="199.27" cy="379.48" r="1.15" fill="#c8102e" opacity="0.95"/>
<circle cx="196.30" cy="384.62" r="1.15" fill="#c8102e" opacity="0.95"/>
<circle cx="193.16" cy="391.37" r="1.15" fill="#c8102e" opacity="0.95"/>
<circle cx="190.19" cy="391.81" r="1.15" fill="#c8102e" opacity="0.95"/>
<circle cx="198.13" cy="384.58" r="1.15" fill="#c8102e" opacity="0.95"/>
<circle cx="198.84" cy="397.67" r="1.15" fill="#c8102e" opacity="0.95"/>
<circle cx="194.42" cy="385.01" r="1.15" fill="#c8102e" opacity="0.95"/>
<circle cx="194.92" cy="384.80" r="1.15" fill="#c8102e" opacity="0.95"/>
<circle cx="193.34" cy="387.90" r="1.15" fill="#c8102e" opacity="0.95"/>
<circle cx="202.84" cy="378.47" r="1.15" fill="#c8102e" opacity="0.95"/>
<circle cx="197.62" cy="389.27" r="1.15" fill="#c8102e" opacity="0.95"/>
<circle cx="202.27" cy="377.57" r="1.15" fill="#c8102e" opacity="0.95"/>
<circle cx="198.70" cy="399.71" r="1.15" fill="#c8102e" opacity="0.95"/>
<circle cx="189.44" cy="392.67" r="1.15" fill="#c8102e" opacity="0.95"/>
<circle cx="202.92" cy="393.18" r="1.15" fill="#c8102e" opacity="0.95"/>
<circle cx="186.74" cy="382.55" r="1.15" fill="#c8102e" opacity="0.95"/>
<circle cx="196.73" cy="382.54" r="1.15" fill="#c8102e" opacity="0.95"/>
<circle cx="195.12" cy="391.00" r="1.15" fill="#c8102e" opacity="0.95"/>
<circle cx="196.95" cy="387.60" r="1.15" fill="#c8102e" opacity="0.95"/>
<circle cx="196.78" cy="394.34" r="1.15" fill="#c8102e" opacity="0.95"/>
<circle cx="200.99" cy="380.85" r="1.15" fill="#c8102e" opacity="0.95"/>
<circle cx="195.49" cy="392.32" r="1.15" fill="#c8102e" opacity="0.95"/>
<circle cx="194.93" cy="381.40" r="1.15" fill="#c8102e" opacity="0.95"/>
<circle cx="196.15" cy="393.56" r="1.15" fill="#c8102e" opacity="0.95"/>
<circle cx="194.43" cy="386.68" r="1.15" fill="#c8102e" opacity="0.95"/>
<circle cx="196.19" cy="386.42" r="1.15" fill="#c8102e" opacity="0.95"/>
<circle cx="191.24" cy="380.18" r="1.15" fill="#c8102e" opacity="0.95"/>
<circle cx="202.24" cy="380.39" r="1.15" fill="#c8102e" opacity="0.95"/>
<circle cx="194.50" cy="395.17" r="1.15" fill="#c8102e" opacity="0.95"/>
<circle cx="196.65" cy="386.18" r="1.15" fill="#c8102e" opacity="0.95"/>
<circle cx="204.25" cy="391.38" r="1.15" fill="#c8102e" opacity="0.95"/>
<circle cx="200.98" cy="391.03" r="1.15" fill="#c8102e" opacity="0.95"/>
<circle cx="201.02" cy="373.91" r="1.15" fill="#c8102e" opacity="0.95"/>
<circle cx="195.32" cy="392.80" r="1.15" fill="#c8102e" opacity="0.95"/>
<circle cx="188.76" cy="394.17" r="1.15" fill="#c8102e" opacity="0.95"/>
<circle cx="202.45" cy="385.65" r="1.15" fill="#c8102e" opacity="0.95"/>
<circle cx="193.42" cy="377.69" r="1.15" fill="#c8102e" opacity="0.95"/>
<circle cx="205.18" cy="379.01" r="1.15" fill="#c8102e" opacity="0.95"/>
<circle cx="199.35" cy="385.93" r="1.15" fill="#c8102e" opacity="0.95"/>
<circle cx="186.16" cy="389.77" r="1.15" fill="#c8102e" opacity="0.95"/>
<circle cx="195.34" cy="400.26" r="1.15" fill="#c8102e" opacity="0.95"/>
<circle cx="191.98" cy="390.32" r="1.15" fill="#c8102e" opacity="0.95"/>
<circle cx="195.84" cy="390.82" r="1.15" fill="#c8102e" opacity="0.95"/>
<circle cx="197.89" cy="386.27" r="1.15" fill="#c8102e" opacity="0.95"/>
<circle cx="184.05" cy="381.25" r="1.15" fill="#c8102e" opacity="0.95"/>
<circle cx="196.69" cy="387.77" r="1.15" fill="#c8102e" opacity="0.95"/>
<circle cx="199.70" cy="381.57" r="1.15" fill="#c8102e" opacity="0.95"/>
<circle cx="194.20" cy="391.81" r="1.15" fill="#c8102e" opacity="0.95"/>
<circle cx="187.61" cy="390.54" r="1.15" fill="#c8102e" opacity="0.95"/>
<circle cx="192.51" cy="393.12" r="1.15" fill="#c8102e" opacity="0.95"/>
<circle cx="204.71" cy="380.99" r="1.15" fill="#c8102e" opacity="0.95"/>
<circle cx="200.13" cy="383.27" r="1.15" fill="#c8102e" opacity="0.95"/>
<circle cx="195.52" cy="384.54" r="1.15" fill="#c8102e" opacity="0.95"/>
<circle cx="189.14" cy="379.53" r="1.15" fill="#c8102e" opacity="0.95"/>
<circle cx="188.34" cy="388.02" r="1.15" fill="#c8102e" opacity="0.95"/>
<circle cx="199.97" cy="386.25" r="1.15" fill="#c8102e" opacity="0.95"/>
<circle cx="203.03" cy="388.27" r="1.15" fill="#c8102e" opacity="0.95"/>
<circle cx="196.72" cy="392.88" r="1.15" fill="#c8102e" opacity="0.95"/>
<circle cx="202.52" cy="378.67" r="1.15" fill="#c8102e" opacity="0.95"/>
<circle cx="199.05" cy="381.98" r="1.15" fill="#c8102e" opacity="0.95"/>
<circle cx="189.96" cy="395.21" r="1.15" fill="#c8102e" opacity="0.95"/>
<circle cx="192.78" cy="391.61" r="1.15" fill="#c8102e" opacity="0.95"/>
<circle cx="194.54" cy="390.80" r="1.15" fill="#c8102e" opacity="0.95"/>
<circle cx="192.39" cy="405.04" r="1.15" fill="#c8102e" opacity="0.95"/>
<circle cx="199.62" cy="380.05" r="1.15" fill="#c8102e" opacity="0.95"/>
<circle cx="192.24" cy="391.61" r="1.15" fill="#c8102e" opacity="0.95"/>
<circle cx="198.86" cy="386.07" r="1.15" fill="#c8102e" opacity="0.95"/>
<circle cx="192.61" cy="378.21" r="1.15" fill="#c8102e" opacity="0.95"/>
<circle cx="194.39" cy="397.69" r="1.15" fill="#c8102e" opacity="0.95"/>
<circle cx="193.02" cy="380.64" r="1.15" fill="#c8102e" opacity="0.95"/>
<circle cx="189.19" cy="385.91" r="1.15" fill="#c8102e" opacity="0.95"/>
<circle cx="194.42" cy="396.58" r="1.15" fill="#c8102e" opacity="0.95"/>
<circle cx="197.19" cy="392.80" r="1.15" fill="#c8102e" opacity="0.95"/>
<circle cx="192.84" cy="380.87" r="1.15" fill="#c8102e" opacity="0.95"/>
<circle cx="198.24" cy="399.28" r="1.15" fill="#c8102e" opacity="0.95"/>
<circle cx="190.36" cy="386.95" r="1.15" fill="#c8102e" opacity="0.95"/>
<circle cx="194.29" cy="376.24" r="1.15" fill="#1f4a7a" opacity="0.95"/>
<circle cx="190.93" cy="381.47" r="1.15" fill="#1f4a7a" opacity="0.95"/>
<circle cx="185.25" cy="376.66" r="1.15" fill="#1f4a7a" opacity="0.95"/>
<circle cx="186.85" cy="369.46" r="1.15" fill="#1f4a7a" opacity="0.95"/>
<circle cx="188.36" cy="379.95" r="1.15" fill="#1f4a7a" opacity="0.95"/>
<circle cx="189.51" cy="367.97" r="1.15" fill="#1f4a7a" opacity="0.95"/>
<circle cx="187.57" cy="381.39" r="1.15" fill="#1f4a7a" opacity="0.95"/>
<circle cx="193.30" cy="371.36" r="1.15" fill="#1f4a7a" opacity="0.95"/>
<circle cx="197.82" cy="374.75" r="1.15" fill="#1f4a7a" opacity="0.95"/>
<circle cx="186.80" cy="374.58" r="1.15" fill="#1f4a7a" opacity="0.95"/>
<circle cx="193.86" cy="382.37" r="1.15" fill="#1f4a7a" opacity="0.95"/>
<circle cx="193.52" cy="374.07" r="1.15" fill="#1f4a7a" opacity="0.95"/>
<circle cx="188.33" cy="369.38" r="1.15" fill="#1f4a7a" opacity="0.95"/>
<circle cx="190.09" cy="373.04" r="1.15" fill="#1f4a7a" opacity="0.95"/>
<circle cx="190.86" cy="370.40" r="1.15" fill="#1f4a7a" opacity="0.95"/>
<circle cx="188.64" cy="371.74" r="1.15" fill="#1f4a7a" opacity="0.95"/>
<circle cx="186.45" cy="370.29" r="1.15" fill="#1f4a7a" opacity="0.95"/>
<circle cx="187.01" cy="370.35" r="1.15" fill="#1f4a7a" opacity="0.95"/>
<circle cx="192.28" cy="376.08" r="1.15" fill="#1f4a7a" opacity="0.95"/>
<circle cx="186.60" cy="377.19" r="1.15" fill="#1f4a7a" opacity="0.95"/>
<circle cx="191.83" cy="381.56" r="1.15" fill="#1f4a7a" opacity="0.95"/>
<circle cx="189.84" cy="374.58" r="1.15" fill="#1f4a7a" opacity="0.95"/>
<circle cx="188.42" cy="375.80" r="1.15" fill="#1f4a7a" opacity="0.95"/>
<circle cx="192.07" cy="376.37" r="1.15" fill="#1f4a7a" opacity="0.95"/>
<circle cx="189.89" cy="377.73" r="1.15" fill="#1f4a7a" opacity="0.95"/>
<circle cx="190.86" cy="376.54" r="1.15" fill="#1f4a7a" opacity="0.95"/>
<circle cx="187.70" cy="376.06" r="1.15" fill="#1f4a7a" opacity="0.95"/>
<circle cx="187.18" cy="371.74" r="1.15" fill="#1f4a7a" opacity="0.95"/>
<circle cx="191.64" cy="384.17" r="1.15" fill="#1f4a7a" opacity="0.95"/>
<circle cx="193.56" cy="375.82" r="1.15" fill="#1f4a7a" opacity="0.95"/>
<circle cx="190.25" cy="379.49" r="1.15" fill="#1f4a7a" opacity="0.95"/>
<circle cx="195.12" cy="380.92" r="1.15" fill="#1f4a7a" opacity="0.95"/>
<circle cx="189.99" cy="376.21" r="1.15" fill="#1f4a7a" opacity="0.95"/>
<circle cx="189.40" cy="374.23" r="1.15" fill="#1f4a7a" opacity="0.95"/>
<circle cx="187.80" cy="374.22" r="1.15" fill="#1f4a7a" opacity="0.95"/>
<circle cx="183.53" cy="369.93" r="1.15" fill="#1f4a7a" opacity="0.95"/>
<circle cx="191.52" cy="371.84" r="1.15" fill="#1f4a7a" opacity="0.95"/>
<circle cx="191.76" cy="370.37" r="1.15" fill="#1f4a7a" opacity="0.95"/>
<circle cx="189.49" cy="377.01" r="1.15" fill="#1f4a7a" opacity="0.95"/>
<circle cx="187.10" cy="372.26" r="1.15" fill="#1f4a7a" opacity="0.95"/>
<circle cx="197.88" cy="373.47" r="1.15" fill="#1f4a7a" opacity="0.95"/>
<circle cx="188.16" cy="372.94" r="1.15" fill="#1f4a7a" opacity="0.95"/>
<circle cx="190.59" cy="375.40" r="1.15" fill="#1f4a7a" opacity="0.95"/>
<circle cx="193.76" cy="379.04" r="1.15" fill="#1f4a7a" opacity="0.95"/>
<circle cx="189.15" cy="373.92" r="1.15" fill="#1f4a7a" opacity="0.95"/>
<circle cx="185.70" cy="368.94" r="1.15" fill="#1f4a7a" opacity="0.95"/>
<circle cx="188.46" cy="378.26" r="1.15" fill="#1f4a7a" opacity="0.95"/>
<circle cx="191.12" cy="378.82" r="1.15" fill="#1f4a7a" opacity="0.95"/>
<circle cx="193.34" cy="375.12" r="1.15" fill="#1f4a7a" opacity="0.95"/>
<circle cx="196.78" cy="374.00" r="1.15" fill="#1f4a7a" opacity="0.95"/>
<circle cx="188.45" cy="373.55" r="1.15" fill="#1f4a7a" opacity="0.95"/>
<circle cx="193.95" cy="375.29" r="1.15" fill="#1f4a7a" opacity="0.95"/>
<circle cx="188.36" cy="377.05" r="1.15" fill="#1f4a7a" opacity="0.95"/>
<circle cx="193.94" cy="375.39" r="1.15" fill="#1f4a7a" opacity="0.95"/>
<circle cx="190.06" cy="379.86" r="1.15" fill="#1f4a7a" opacity="0.95"/>
<circle cx="193.01" cy="382.93" r="1.15" fill="#8a2050" opacity="0.95"/>
<circle cx="190.33" cy="381.58" r="1.15" fill="#8a2050" opacity="0.95"/>
<circle cx="192.06" cy="377.33" r="1.15" fill="#8a2050" opacity="0.95"/>
<circle cx="193.34" cy="381.20" r="1.15" fill="#8a2050" opacity="0.95"/>
<circle cx="190.98" cy="385.63" r="1.15" fill="#8a2050" opacity="0.95"/>
<circle cx="191.72" cy="379.53" r="1.15" fill="#8a2050" opacity="0.95"/>
<circle cx="191.40" cy="382.15" r="1.15" fill="#8a2050" opacity="0.95"/>
<circle cx="192.75" cy="380.88" r="1.15" fill="#8a2050" opacity="0.95"/>
<circle cx="190.18" cy="379.58" r="1.15" fill="#8a2050" opacity="0.95"/>
<circle cx="190.25" cy="378.85" r="1.15" fill="#8a2050" opacity="0.95"/>
<circle cx="191.47" cy="380.00" r="1.15" fill="#8a2050" opacity="0.95"/>
<circle cx="191.58" cy="379.31" r="1.15" fill="#8a2050" opacity="0.95"/>
<circle cx="200.00" cy="367.00" r="1.0" fill="#c8102e"/>
<circle cx="202.00" cy="368.50" r="1.0" fill="#c8102e"/>
<circle cx="206.00" cy="373.00" r="1.0" fill="#c8102e"/>
<circle cx="205.00" cy="382.00" r="1.0" fill="#c8102e"/>
<circle cx="218.70" cy="382.50" r="1.0" fill="#c8102e"/>
<circle cx="188.50" cy="403.00" r="1.0" fill="#c8102e"/>
<circle cx="197.50" cy="397.50" r="1.0" fill="#c8102e"/>
<circle cx="186.50" cy="391.00" r="1.0" fill="#c8102e"/>
<circle cx="178.70" cy="378.30" r="1.0" fill="#1f4a7a"/>
<circle cx="198.50" cy="361.60" r="1.1" fill="#1a3a40"/>
<circle cx="187.75" cy="462.71" r="1.15" fill="#c4c4c4" opacity="0.95"/>
<circle cx="190.02" cy="468.44" r="1.15" fill="#c4c4c4" opacity="0.95"/>
<circle cx="187.84" cy="464.38" r="1.15" fill="#c4c4c4" opacity="0.95"/>
<circle cx="189.71" cy="457.89" r="1.15" fill="#c4c4c4" opacity="0.95"/>
<circle cx="192.82" cy="464.23" r="1.15" fill="#c4c4c4" opacity="0.95"/>
<circle cx="184.38" cy="466.08" r="1.15" fill="#c4c4c4" opacity="0.95"/>
<circle cx="192.97" cy="460.09" r="1.15" fill="#c4c4c4" opacity="0.95"/>
<circle cx="195.77" cy="464.17" r="1.15" fill="#c4c4c4" opacity="0.95"/>
<circle cx="187.26" cy="465.91" r="1.15" fill="#c4c4c4" opacity="0.95"/>
<circle cx="188.71" cy="457.76" r="1.15" fill="#c4c4c4" opacity="0.95"/>
<circle cx="184.06" cy="464.55" r="1.15" fill="#c4c4c4" opacity="0.95"/>
<circle cx="188.58" cy="466.26" r="1.15" fill="#c4c4c4" opacity="0.95"/>
<circle cx="191.42" cy="461.27" r="1.15" fill="#c4c4c4" opacity="0.95"/>
<circle cx="189.78" cy="471.07" r="1.15" fill="#c4c4c4" opacity="0.95"/>
<circle cx="196.11" cy="466.72" r="1.15" fill="#c4c4c4" opacity="0.95"/>
<circle cx="188.91" cy="459.30" r="1.15" fill="#c4c4c4" opacity="0.95"/>
<circle cx="190.16" cy="470.63" r="1.15" fill="#c4c4c4" opacity="0.95"/>
<circle cx="191.76" cy="462.26" r="1.15" fill="#c4c4c4" opacity="0.95"/>
<circle cx="186.83" cy="464.22" r="1.15" fill="#c4c4c4" opacity="0.95"/>
<circle cx="187.82" cy="463.55" r="1.15" fill="#c4c4c4" opacity="0.95"/>
<circle cx="193.32" cy="468.08" r="1.15" fill="#c4c4c4" opacity="0.95"/>
<circle cx="190.75" cy="462.04" r="1.15" fill="#c4c4c4" opacity="0.95"/>
<circle cx="192.11" cy="471.21" r="1.15" fill="#c4c4c4" opacity="0.95"/>
<circle cx="190.94" cy="457.51" r="1.15" fill="#c4c4c4" opacity="0.95"/>
<circle cx="195.37" cy="464.58" r="1.15" fill="#c4c4c4" opacity="0.95"/>
<circle cx="200.90" cy="461.49" r="1.15" fill="#c4c4c4" opacity="0.95"/>
<circle cx="190.06" cy="462.23" r="1.15" fill="#c4c4c4" opacity="0.95"/>
<circle cx="191.36" cy="461.03" r="1.15" fill="#c4c4c4" opacity="0.95"/>
<circle cx="185.01" cy="455.29" r="1.15" fill="#c4c4c4" opacity="0.95"/>
<circle cx="189.86" cy="461.30" r="1.15" fill="#c4c4c4" opacity="0.95"/>
<circle cx="189.81" cy="472.56" r="1.15" fill="#c4c4c4" opacity="0.95"/>
<circle cx="193.48" cy="468.16" r="1.15" fill="#c4c4c4" opacity="0.95"/>
<circle cx="189.13" cy="464.78" r="1.15" fill="#c4c4c4" opacity="0.95"/>
<circle cx="189.75" cy="462.63" r="1.15" fill="#c4c4c4" opacity="0.95"/>
<circle cx="193.08" cy="466.08" r="1.15" fill="#c4c4c4" opacity="0.95"/>
<circle cx="191.50" cy="464.13" r="1.15" fill="#c4c4c4" opacity="0.95"/>
<circle cx="185.73" cy="460.35" r="1.15" fill="#c4c4c4" opacity="0.95"/>
<circle cx="191.48" cy="461.94" r="1.15" fill="#c4c4c4" opacity="0.95"/>
<circle cx="188.31" cy="465.02" r="1.15" fill="#c4c4c4" opacity="0.95"/>
<circle cx="187.35" cy="460.63" r="1.15" fill="#c4c4c4" opacity="0.95"/>
<circle cx="193.01" cy="461.97" r="1.15" fill="#c4c4c4" opacity="0.95"/>
<circle cx="195.12" cy="465.73" r="1.15" fill="#c4c4c4" opacity="0.95"/>
<circle cx="193.54" cy="468.32" r="1.15" fill="#c4c4c4" opacity="0.95"/>
<circle cx="183.87" cy="463.16" r="1.15" fill="#c4c4c4" opacity="0.95"/>
<circle cx="186.33" cy="461.52" r="1.15" fill="#c4c4c4" opacity="0.95"/>
<circle cx="190.82" cy="468.80" r="1.15" fill="#c4c4c4" opacity="0.95"/>
<circle cx="191.20" cy="470.50" r="1.15" fill="#c4c4c4" opacity="0.95"/>
<circle cx="188.87" cy="463.26" r="1.15" fill="#c4c4c4" opacity="0.95"/>
<circle cx="191.26" cy="467.53" r="1.15" fill="#c4c4c4" opacity="0.95"/>
<circle cx="190.03" cy="460.87" r="1.15" fill="#c4c4c4" opacity="0.95"/>
<circle cx="188.79" cy="457.53" r="1.15" fill="#c4c4c4" opacity="0.95"/>
<circle cx="194.71" cy="466.68" r="1.15" fill="#c4c4c4" opacity="0.95"/>
<circle cx="191.94" cy="464.68" r="1.15" fill="#c4c4c4" opacity="0.95"/>
<circle cx="188.45" cy="461.77" r="1.15" fill="#c4c4c4" opacity="0.95"/>
<circle cx="192.56" cy="460.14" r="1.15" fill="#c4c4c4" opacity="0.95"/>
<circle cx="188.92" cy="470.21" r="1.15" fill="#c4c4c4" opacity="0.95"/>
<circle cx="195.39" cy="464.74" r="1.15" fill="#c4c4c4" opacity="0.95"/>
<circle cx="192.21" cy="464.29" r="1.15" fill="#c4c4c4" opacity="0.95"/>
<circle cx="194.61" cy="461.62" r="1.15" fill="#c4c4c4" opacity="0.95"/>
<circle cx="191.00" cy="465.56" r="1.15" fill="#c4c4c4" opacity="0.95"/>
<circle cx="194.75" cy="462.44" r="1.15" fill="#c4c4c4" opacity="0.95"/>
<circle cx="190.96" cy="461.42" r="1.15" fill="#c4c4c4" opacity="0.95"/>
<circle cx="188.18" cy="460.73" r="1.15" fill="#c4c4c4" opacity="0.95"/>
<circle cx="191.20" cy="467.26" r="1.15" fill="#c4c4c4" opacity="0.95"/>
<circle cx="188.10" cy="460.95" r="1.15" fill="#c4c4c4" opacity="0.95"/>
<circle cx="192.15" cy="480.24" r="1.15" fill="#1e6a3a" opacity="0.95"/>
<circle cx="193.50" cy="471.55" r="1.15" fill="#1e6a3a" opacity="0.95"/>
<circle cx="192.71" cy="473.27" r="1.15" fill="#1e6a3a" opacity="0.95"/>
<circle cx="193.99" cy="472.68" r="1.15" fill="#1e6a3a" opacity="0.95"/>
<circle cx="188.22" cy="477.31" r="1.15" fill="#1e6a3a" opacity="0.95"/>
<circle cx="191.29" cy="474.12" r="1.15" fill="#1e6a3a" opacity="0.95"/>
<circle cx="193.95" cy="478.17" r="1.15" fill="#1e6a3a" opacity="0.95"/>
<circle cx="193.69" cy="478.92" r="1.15" fill="#1e6a3a" opacity="0.95"/>
<circle cx="194.89" cy="473.31" r="1.15" fill="#1e6a3a" opacity="0.95"/>
<circle cx="192.96" cy="477.88" r="1.15" fill="#1e6a3a" opacity="0.95"/>
<circle cx="186.57" cy="483.69" r="1.15" fill="#1e6a3a" opacity="0.95"/>
<circle cx="189.29" cy="476.66" r="1.15" fill="#1e6a3a" opacity="0.95"/>
<circle cx="191.63" cy="479.29" r="1.15" fill="#1e6a3a" opacity="0.95"/>
<circle cx="194.86" cy="479.28" r="1.15" fill="#1e6a3a" opacity="0.95"/>
<circle cx="191.68" cy="482.19" r="1.15" fill="#1e6a3a" opacity="0.95"/>
<circle cx="193.84" cy="475.59" r="1.15" fill="#1e6a3a" opacity="0.95"/>
<circle cx="194.14" cy="481.26" r="1.15" fill="#1e6a3a" opacity="0.95"/>
<circle cx="195.52" cy="479.93" r="1.15" fill="#1e6a3a" opacity="0.95"/>
<circle cx="195.08" cy="482.35" r="1.15" fill="#1e6a3a" opacity="0.95"/>
<circle cx="201.26" cy="475.37" r="1.15" fill="#1e6a3a" opacity="0.95"/>
<circle cx="190.14" cy="488.12" r="1.15" fill="#1e6a3a" opacity="0.95"/>
<circle cx="188.98" cy="473.61" r="1.15" fill="#1e6a3a" opacity="0.95"/>
<circle cx="185.57" cy="484.45" r="1.15" fill="#1e6a3a" opacity="0.95"/>
<circle cx="198.23" cy="479.82" r="1.15" fill="#1e6a3a" opacity="0.95"/>
<circle cx="193.87" cy="484.56" r="1.15" fill="#1e6a3a" opacity="0.95"/>
<circle cx="191.85" cy="475.79" r="1.15" fill="#1e6a3a" opacity="0.95"/>
<circle cx="193.55" cy="478.72" r="1.15" fill="#1e6a3a" opacity="0.95"/>
<circle cx="193.77" cy="479.50" r="1.15" fill="#1e6a3a" opacity="0.95"/>
<circle cx="187.90" cy="488.66" r="1.15" fill="#1e6a3a" opacity="0.95"/>
<circle cx="192.04" cy="481.74" r="1.15" fill="#1e6a3a" opacity="0.95"/>
<circle cx="190.53" cy="480.25" r="1.15" fill="#1e6a3a" opacity="0.95"/>
<circle cx="190.03" cy="472.03" r="1.15" fill="#1e6a3a" opacity="0.95"/>
<circle cx="195.26" cy="479.77" r="1.15" fill="#1e6a3a" opacity="0.95"/>
<circle cx="186.06" cy="471.84" r="1.15" fill="#1e6a3a" opacity="0.95"/>
<circle cx="189.54" cy="475.92" r="1.15" fill="#1e6a3a" opacity="0.95"/>
<circle cx="193.35" cy="477.71" r="1.15" fill="#1e6a3a" opacity="0.95"/>
<circle cx="199.46" cy="477.37" r="1.15" fill="#1e6a3a" opacity="0.95"/>
<circle cx="192.37" cy="479.16" r="1.15" fill="#1e6a3a" opacity="0.95"/>
<circle cx="181.84" cy="480.15" r="1.15" fill="#1e6a3a" opacity="0.95"/>
<circle cx="189.70" cy="479.40" r="1.15" fill="#1e6a3a" opacity="0.95"/>
<circle cx="194.41" cy="478.22" r="1.15" fill="#1e6a3a" opacity="0.95"/>
<circle cx="195.14" cy="473.37" r="1.15" fill="#1e6a3a" opacity="0.95"/>
<circle cx="193.84" cy="476.87" r="1.15" fill="#1e6a3a" opacity="0.95"/>
<circle cx="193.53" cy="479.26" r="1.15" fill="#1e6a3a" opacity="0.95"/>
<circle cx="192.36" cy="479.41" r="1.15" fill="#1e6a3a" opacity="0.95"/>
<circle cx="194.42" cy="482.16" r="1.15" fill="#1e6a3a" opacity="0.95"/>
<circle cx="193.08" cy="479.44" r="1.15" fill="#1e6a3a" opacity="0.95"/>
<circle cx="202.76" cy="475.31" r="1.15" fill="#1e6a3a" opacity="0.95"/>
<circle cx="196.35" cy="481.28" r="1.15" fill="#1e6a3a" opacity="0.95"/>
<circle cx="190.64" cy="482.85" r="1.15" fill="#1e6a3a" opacity="0.95"/>
<circle cx="196.20" cy="478.26" r="1.15" fill="#1e6a3a" opacity="0.95"/>
<circle cx="197.48" cy="479.19" r="1.15" fill="#1e6a3a" opacity="0.95"/>
<circle cx="196.08" cy="473.06" r="1.15" fill="#1e6a3a" opacity="0.95"/>
<circle cx="193.65" cy="474.96" r="1.15" fill="#1e6a3a" opacity="0.95"/>
<circle cx="197.41" cy="476.07" r="1.15" fill="#1e6a3a" opacity="0.95"/>
<circle cx="187.46" cy="466.49" r="1.15" fill="#1e6a3a" opacity="0.95"/>
<circle cx="188.50" cy="470.41" r="1.15" fill="#1e6a3a" opacity="0.95"/>
<circle cx="190.82" cy="456.17" r="1.15" fill="#1e6a3a" opacity="0.95"/>
<circle cx="190.65" cy="470.60" r="1.15" fill="#1e6a3a" opacity="0.95"/>
<circle cx="193.15" cy="463.16" r="1.15" fill="#1e6a3a" opacity="0.95"/>
<circle cx="194.26" cy="468.58" r="1.15" fill="#1e6a3a" opacity="0.95"/>
<circle cx="197.13" cy="470.05" r="1.15" fill="#1e6a3a" opacity="0.95"/>
<circle cx="193.28" cy="462.47" r="1.15" fill="#1e6a3a" opacity="0.95"/>
<circle cx="192.99" cy="467.36" r="1.15" fill="#1e6a3a" opacity="0.95"/>
<circle cx="192.05" cy="467.89" r="1.15" fill="#1e6a3a" opacity="0.95"/>
<circle cx="187.86" cy="468.56" r="1.15" fill="#1e6a3a" opacity="0.95"/>
<circle cx="192.04" cy="467.60" r="1.15" fill="#1e6a3a" opacity="0.95"/>
<circle cx="191.66" cy="464.66" r="1.15" fill="#1e6a3a" opacity="0.95"/>
<circle cx="192.89" cy="469.51" r="1.15" fill="#1e6a3a" opacity="0.95"/>
<circle cx="190.88" cy="467.46" r="1.15" fill="#1e6a3a" opacity="0.95"/>
<circle cx="189.33" cy="467.87" r="1.15" fill="#1e6a3a" opacity="0.95"/>
<circle cx="192.06" cy="460.27" r="1.15" fill="#1e6a3a" opacity="0.95"/>
<circle cx="196.05" cy="462.02" r="1.15" fill="#1e6a3a" opacity="0.95"/>
<circle cx="192.28" cy="460.13" r="1.15" fill="#1e6a3a" opacity="0.95"/>
<circle cx="185.97" cy="468.95" r="1.15" fill="#1e6a3a" opacity="0.95"/>
<circle cx="187.13" cy="456.72" r="1.15" fill="#1e6a3a" opacity="0.95"/>
<circle cx="191.25" cy="459.07" r="1.15" fill="#1e6a3a" opacity="0.95"/>
<circle cx="192.39" cy="483.27" r="1.15" fill="#c4c4c4" opacity="0.95"/>
<circle cx="191.83" cy="477.42" r="1.15" fill="#c4c4c4" opacity="0.95"/>
<circle cx="194.67" cy="476.98" r="1.15" fill="#c4c4c4" opacity="0.95"/>
<circle cx="192.64" cy="481.99" r="1.15" fill="#c4c4c4" opacity="0.95"/>
<circle cx="192.76" cy="477.41" r="1.15" fill="#c4c4c4" opacity="0.95"/>
<circle cx="193.33" cy="470.91" r="1.15" fill="#c4c4c4" opacity="0.95"/>
<circle cx="193.95" cy="476.22" r="1.15" fill="#c4c4c4" opacity="0.95"/>
<circle cx="194.93" cy="478.74" r="1.15" fill="#c4c4c4" opacity="0.95"/>
<circle cx="197.66" cy="468.47" r="1.15" fill="#c4c4c4" opacity="0.95"/>
<circle cx="191.34" cy="474.12" r="1.15" fill="#c4c4c4" opacity="0.95"/>
<circle cx="190.43" cy="477.64" r="1.15" fill="#c4c4c4" opacity="0.95"/>
<circle cx="192.77" cy="476.55" r="1.15" fill="#c4c4c4" opacity="0.95"/>
<circle cx="200.00" cy="455.30" r="1.0" fill="#1a5a32"/>
<circle cx="202.00" cy="457.00" r="1.0" fill="#1a5a32"/>
<circle cx="205.90" cy="470.40" r="1.0" fill="#1a5a32"/>
<circle cx="218.70" cy="470.60" r="1.0" fill="#1a5a32"/>
<circle cx="179.30" cy="466.50" r="1.0" fill="#1a5a32"/>
<circle cx="204.00" cy="476.00" r="1.0" fill="#1a5a32"/>
<circle cx="203.00" cy="482.00" r="1.0" fill="#1a5a32"/>
<circle cx="198.00" cy="486.50" r="1.0" fill="#1a5a32"/>
<circle cx="198.00" cy="449.80" r="1.0" fill="#d0d0d0"/>
<circle cx="205.00" cy="461.00" r="1.0" fill="#d0d0d0"/>
<circle cx="187.50" cy="491.00" r="0.9" fill="#d8d8d8"/>
<text transform="translate(235.77 338.60) scale(0.981 1)" x="0" y="0" font-size="10.87" font-weight="bold" fill="#000">G</text>
<text x="278.00" y="346.50" font-size="6.4" text-anchor="middle" fill="#222" stroke="#222" stroke-width="0.08">Non-</text>
<text x="266.30" y="354.30" font-size="6.4" fill="#222" stroke="#222" stroke-width="0.08">response</text>
<text x="293.50" y="354.30" font-size="6.4" textLength="27" lengthAdjust="spacingAndGlyphs" fill="#222" stroke="#222" stroke-width="0.08">Response</text>
<rect x="265.00" y="358.00" width="27.60" height="6.50" fill="#c0132e"/>
<rect x="292.60" y="358.00" width="28.40" height="6.50" fill="#1f4e80"/>
<rect x="265.10" y="368.30" width="7.61" height="10.90" fill="#a9d3ea"/>
<rect x="272.11" y="368.30" width="7.61" height="10.90" fill="#86c2e4"/>
<rect x="279.12" y="368.30" width="7.61" height="10.90" fill="#6fb5dd"/>
<rect x="286.13" y="368.30" width="7.61" height="10.90" fill="#6fb5dd"/>
<rect x="293.14" y="368.30" width="7.61" height="10.90" fill="#f08a4b"/>
<rect x="300.15" y="368.30" width="7.61" height="10.90" fill="#fbb868"/>
<rect x="307.16" y="368.30" width="7.61" height="10.90" fill="#ee6b3b"/>
<rect x="314.17" y="368.30" width="7.01" height="10.90" fill="#f5a25e"/>
<rect x="265.10" y="378.60" width="7.61" height="10.90" fill="#3b8bc6"/>
<rect x="272.11" y="378.60" width="7.61" height="10.90" fill="#d9edf4"/>
<rect x="279.12" y="378.60" width="7.61" height="10.90" fill="#b9dcee"/>
<rect x="286.13" y="378.60" width="7.61" height="10.90" fill="#6fb5dd"/>
<rect x="293.14" y="378.60" width="7.61" height="10.90" fill="#f9b46a"/>
<rect x="300.15" y="378.60" width="7.61" height="10.90" fill="#fccd7e"/>
<rect x="307.16" y="378.60" width="7.61" height="10.90" fill="#e9512f"/>
<rect x="314.17" y="378.60" width="7.01" height="10.90" fill="#f08a4b"/>
<rect x="265.10" y="388.90" width="7.61" height="10.90" fill="#e2f1f1"/>
<rect x="272.11" y="388.90" width="7.61" height="10.90" fill="#6fb5dd"/>
<rect x="279.12" y="388.90" width="7.61" height="10.90" fill="#6fb5dd"/>
<rect x="286.13" y="388.90" width="7.61" height="10.90" fill="#6fb5dd"/>
<rect x="293.14" y="388.90" width="7.61" height="10.90" fill="#f08a4b"/>
<rect x="300.15" y="388.90" width="7.61" height="10.90" fill="#f9a862"/>
<rect x="307.16" y="388.90" width="7.61" height="10.90" fill="#ee6b3b"/>
<rect x="314.17" y="388.90" width="7.01" height="10.90" fill="#f5a25e"/>
<rect x="265.10" y="399.20" width="7.61" height="10.90" fill="#8cc8e8"/>
<rect x="272.11" y="399.20" width="7.61" height="10.90" fill="#8cc8e8"/>
<rect x="279.12" y="399.20" width="7.61" height="10.90" fill="#80c0e4"/>
<rect x="286.13" y="399.20" width="7.61" height="10.90" fill="#80c0e4"/>
<rect x="293.14" y="399.20" width="7.61" height="10.90" fill="#f08a4b"/>
<rect x="300.15" y="399.20" width="7.61" height="10.90" fill="#f9a862"/>
<rect x="307.16" y="399.20" width="7.61" height="10.90" fill="#ee6b3b"/>
<rect x="314.17" y="399.20" width="7.01" height="10.90" fill="#f5a25e"/>
<rect x="265.10" y="409.50" width="7.61" height="10.90" fill="#f4f0d2"/>
<rect x="272.11" y="409.50" width="7.61" height="10.90" fill="#6fb5dd"/>
<rect x="279.12" y="409.50" width="7.61" height="10.90" fill="#2f80c0"/>
<rect x="286.13" y="409.50" width="7.61" height="10.90" fill="#b9dcee"/>
<rect x="293.14" y="409.50" width="7.61" height="10.90" fill="#f08a4b"/>
<rect x="300.15" y="409.50" width="7.61" height="10.90" fill="#fde0a0"/>
<rect x="307.16" y="409.50" width="7.61" height="10.90" fill="#e43c22"/>
<rect x="314.17" y="409.50" width="7.01" height="10.90" fill="#f9a862"/>
<rect x="265.10" y="419.80" width="7.61" height="10.30" fill="#a9d3ea"/>
<rect x="272.11" y="419.80" width="7.61" height="10.30" fill="#6fb5dd"/>
<rect x="279.12" y="419.80" width="7.61" height="10.30" fill="#2f80c0"/>
<rect x="286.13" y="419.80" width="7.61" height="10.30" fill="#c9e5f1"/>
<rect x="293.14" y="419.80" width="7.61" height="10.30" fill="#f08a4b"/>
<rect x="300.15" y="419.80" width="7.61" height="10.30" fill="#f08a4b"/>
<rect x="307.16" y="419.80" width="7.61" height="10.30" fill="#ee7a40"/>
<rect x="314.17" y="419.80" width="7.01" height="10.30" fill="#f08a4b"/>
<rect x="265.10" y="368.30" width="56.08" height="61.80" fill="none" stroke="#4a4a4a" stroke-width="0.9"/>
<text x="261.80" y="376.07" font-size="6.3" text-anchor="end" fill="#222" stroke="#222" stroke-width="0.08">EGF</text>
<text x="261.80" y="384.97" font-size="6.3" text-anchor="end" fill="#222" stroke="#222" stroke-width="0.08">CXCL1</text>
<text x="261.80" y="393.87" font-size="6.3" text-anchor="end" fill="#222" stroke="#222" stroke-width="0.08">PDGF</text>
<text x="261.80" y="401.07" font-size="6.3" text-anchor="end" fill="#222" stroke="#222" stroke-width="0.08">subunit B</text>
<text x="261.80" y="409.67" font-size="6.3" text-anchor="end" fill="#222" stroke="#222" stroke-width="0.08">CXCL5</text>
<text x="261.80" y="419.27" font-size="6.3" text-anchor="end" fill="#222" stroke="#222" stroke-width="0.08">CCL17</text>
<text x="261.80" y="428.07" font-size="6.3" text-anchor="end" fill="#222" stroke="#222" stroke-width="0.08">LAMP3</text>
<text x="270.94" y="432.80" font-size="6.5" text-anchor="end" textLength="28.5" lengthAdjust="spacingAndGlyphs" fill="#222" stroke="#222" stroke-width="0.08" transform="rotate(-90 270.94 432.80)">Screening</text>
<text x="277.95" y="432.80" font-size="6.5" text-anchor="end" textLength="20.4" lengthAdjust="spacingAndGlyphs" fill="#222" stroke="#222" stroke-width="0.08" transform="rotate(-90 277.95 432.80)">Lead-in</text>
<text x="284.96" y="432.80" font-size="6.5" text-anchor="end" textLength="21" lengthAdjust="spacingAndGlyphs" fill="#222" stroke="#222" stroke-width="0.08" transform="rotate(-90 284.96 432.80)">Cycle 1</text>
<text x="291.97" y="432.80" font-size="6.5" text-anchor="end" textLength="21" lengthAdjust="spacingAndGlyphs" fill="#222" stroke="#222" stroke-width="0.08" transform="rotate(-90 291.97 432.80)">Cycle 2</text>
<text x="298.99" y="432.80" font-size="6.5" text-anchor="end" textLength="28.5" lengthAdjust="spacingAndGlyphs" fill="#222" stroke="#222" stroke-width="0.08" transform="rotate(-90 298.99 432.80)">Screening</text>
<text x="306.00" y="432.80" font-size="6.5" text-anchor="end" textLength="20.4" lengthAdjust="spacingAndGlyphs" fill="#222" stroke="#222" stroke-width="0.08" transform="rotate(-90 306.00 432.80)">Lead-in</text>
<text x="313.00" y="432.80" font-size="6.5" text-anchor="end" textLength="21" lengthAdjust="spacingAndGlyphs" fill="#222" stroke="#222" stroke-width="0.08" transform="rotate(-90 313.00 432.80)">Cycle 1</text>
<text x="320.01" y="432.80" font-size="6.5" text-anchor="end" textLength="21" lengthAdjust="spacingAndGlyphs" fill="#222" stroke="#222" stroke-width="0.08" transform="rotate(-90 320.01 432.80)">Cycle 2</text>
<defs><linearGradient id="gz" x1="0" x2="1" y1="0" y2="0"><stop offset="0" stop-color="#1a2a6a"/><stop offset="0.18" stop-color="#2a64ac"/><stop offset="0.35" stop-color="#6ab8e0"/><stop offset="0.5" stop-color="#f6f4e2"/><stop offset="0.65" stop-color="#fbb262"/><stop offset="0.82" stop-color="#e8602a"/><stop offset="1" stop-color="#a01020"/></linearGradient></defs>
<rect x="277.10" y="470.10" width="29.70" height="4.00" fill="url(#gz)" stroke="#333" stroke-width="0.4"/>
<line x1="278.5" y1="474.1" x2="278.5" y2="476.8" stroke="#231f20" stroke-width="0.8"/>
<line x1="285.5" y1="474.1" x2="285.5" y2="476.8" stroke="#231f20" stroke-width="0.8"/>
<line x1="292.5" y1="474.1" x2="292.5" y2="476.8" stroke="#231f20" stroke-width="0.8"/>
<line x1="299.5" y1="474.1" x2="299.5" y2="476.8" stroke="#231f20" stroke-width="0.8"/>
<line x1="306.5" y1="474.1" x2="306.5" y2="476.8" stroke="#231f20" stroke-width="0.8"/>
<text x="278.70" y="485.56" font-size="6.0" text-anchor="middle" fill="#222" stroke="#222" stroke-width="0.08">−2</text>
<text x="292.40" y="485.56" font-size="6.0" text-anchor="middle" fill="#222" stroke="#222" stroke-width="0.08">0</text>
<text x="306.20" y="485.56" font-size="6.0" text-anchor="middle" fill="#222" stroke="#222" stroke-width="0.08">2</text>
<text x="292.70" y="497.70" font-size="8.6" text-anchor="middle" textLength="50" lengthAdjust="spacingAndGlyphs" fill="#222" stroke="#222" stroke-width="0.04">Olink row Z-score</text>
<text transform="translate(331.85 339.00) scale(1.060 1)" x="0" y="0" font-size="10.87" font-weight="bold" fill="#000">H</text>
<text x="413.50" y="342.30" font-size="6.4" text-anchor="middle" fill="#222" stroke="#222" stroke-width="0.08">Non-</text>
<text x="413.50" y="350.30" font-size="6.4" text-anchor="middle" fill="#222" stroke="#222" stroke-width="0.08">response</text>
<text x="446.00" y="350.30" font-size="6.4" text-anchor="middle" fill="#222" stroke="#222" stroke-width="0.08">Response</text>
<text x="471.50" y="342.30" font-size="6.4" text-anchor="middle" fill="#222" stroke="#222" stroke-width="0.08">Healthy</text>
<text x="471.50" y="350.30" font-size="6.4" text-anchor="middle" fill="#222" stroke="#222" stroke-width="0.08">donor</text>
<rect x="401.20" y="354.20" width="24.40" height="3.60" fill="#9a1a30"/>
<rect x="433.80" y="354.20" width="24.30" height="3.60" fill="#1c4170"/>
<rect x="467.10" y="354.20" width="8.70" height="3.60" fill="#1a5040"/>
<rect x="401.20" y="360.20" width="8.73" height="7.40" fill="#e63a1c"/>
<rect x="409.33" y="360.20" width="8.73" height="7.40" fill="#f4a086"/>
<rect x="417.47" y="360.20" width="8.13" height="7.40" fill="#f49076"/>
<rect x="401.20" y="367.00" width="8.73" height="7.40" fill="#f4a082"/>
<rect x="409.33" y="367.00" width="8.73" height="7.40" fill="#f5b096"/>
<rect x="417.47" y="367.00" width="8.13" height="7.40" fill="#f39575"/>
<rect x="401.20" y="373.80" width="8.73" height="7.40" fill="#e8603e"/>
<rect x="409.33" y="373.80" width="8.73" height="7.40" fill="#f4a586"/>
<rect x="417.47" y="373.80" width="8.13" height="7.40" fill="#f39a7b"/>
<rect x="401.20" y="380.60" width="8.73" height="7.40" fill="#f5b096"/>
<rect x="409.33" y="380.60" width="8.73" height="7.40" fill="#f08a66"/>
<rect x="417.47" y="380.60" width="8.13" height="7.40" fill="#f4a586"/>
<rect x="401.20" y="387.40" width="8.73" height="7.40" fill="#f5b89e"/>
<rect x="409.33" y="387.40" width="8.73" height="7.40" fill="#f29a7b"/>
<rect x="417.47" y="387.40" width="8.13" height="7.40" fill="#f5b096"/>
<rect x="401.20" y="394.20" width="8.73" height="7.40" fill="#eceaf0"/>
<rect x="409.33" y="394.20" width="8.73" height="7.40" fill="#f5b59b"/>
<rect x="417.47" y="394.20" width="8.13" height="7.40" fill="#b8c8c8"/>
<rect x="401.20" y="401.00" width="8.73" height="7.40" fill="#f5c8b2"/>
<rect x="409.33" y="401.00" width="8.73" height="7.40" fill="#f5c8b2"/>
<rect x="417.47" y="401.00" width="8.13" height="7.40" fill="#f5c8b2"/>
<rect x="401.20" y="407.80" width="8.73" height="7.40" fill="#e8e4f0"/>
<rect x="409.33" y="407.80" width="8.73" height="7.40" fill="#e8e4f0"/>
<rect x="417.47" y="407.80" width="8.13" height="7.40" fill="#e8e4f0"/>
<rect x="401.20" y="414.60" width="8.73" height="7.40" fill="#d8d0ea"/>
<rect x="409.33" y="414.60" width="8.73" height="7.40" fill="#e4e0f0"/>
<rect x="417.47" y="414.60" width="8.13" height="7.40" fill="#c8b8e0"/>
<rect x="401.20" y="421.40" width="8.73" height="7.40" fill="#e4e0f0"/>
<rect x="409.33" y="421.40" width="8.73" height="7.40" fill="#f0ecf4"/>
<rect x="417.47" y="421.40" width="8.13" height="7.40" fill="#a898d0"/>
<rect x="401.20" y="428.20" width="8.73" height="7.40" fill="#a898d0"/>
<rect x="409.33" y="428.20" width="8.73" height="7.40" fill="#f4f0f8"/>
<rect x="417.47" y="428.20" width="8.13" height="7.40" fill="#5a3aa0"/>
<rect x="401.20" y="435.00" width="8.73" height="7.40" fill="#c8c4d0"/>
<rect x="409.33" y="435.00" width="8.73" height="7.40" fill="#c8b8e0"/>
<rect x="417.47" y="435.00" width="8.13" height="7.40" fill="#b8a8d8"/>
<rect x="401.20" y="441.80" width="8.73" height="7.40" fill="#c8b8e0"/>
<rect x="409.33" y="441.80" width="8.73" height="7.40" fill="#c8c4d0"/>
<rect x="417.47" y="441.80" width="8.13" height="7.40" fill="#c8c4d0"/>
<rect x="401.20" y="448.60" width="8.73" height="7.40" fill="#b8a8d8"/>
<rect x="409.33" y="448.60" width="8.73" height="7.40" fill="#c8b8e0"/>
<rect x="417.47" y="448.60" width="8.13" height="7.40" fill="#c8c4d0"/>
<rect x="401.20" y="455.40" width="8.73" height="7.40" fill="#c8b8e0"/>
<rect x="409.33" y="455.40" width="8.73" height="7.40" fill="#c8b8e0"/>
<rect x="417.47" y="455.40" width="8.13" height="7.40" fill="#c8b8e0"/>
<rect x="401.20" y="462.20" width="8.73" height="7.40" fill="#c8c4d0"/>
<rect x="409.33" y="462.20" width="8.73" height="7.40" fill="#c0b0dc"/>
<rect x="417.47" y="462.20" width="8.13" height="7.40" fill="#c0b0dc"/>
<rect x="401.20" y="469.00" width="8.73" height="7.40" fill="#5a3aa0"/>
<rect x="409.33" y="469.00" width="8.73" height="7.40" fill="#8a70c0"/>
<rect x="417.47" y="469.00" width="8.13" height="7.40" fill="#5a3aa0"/>
<rect x="401.20" y="475.80" width="8.73" height="7.40" fill="#7a5cb8"/>
<rect x="409.33" y="475.80" width="8.73" height="7.40" fill="#6a48b0"/>
<rect x="417.47" y="475.80" width="8.13" height="7.40" fill="#d0d0d8"/>
<rect x="401.20" y="482.60" width="8.73" height="7.40" fill="#5a3aa0"/>
<rect x="409.33" y="482.60" width="8.73" height="7.40" fill="#4a2aa0"/>
<rect x="417.47" y="482.60" width="8.13" height="7.40" fill="#5a3aa0"/>
<rect x="401.20" y="489.40" width="8.73" height="6.80" fill="#d0d0d8"/>
<rect x="409.33" y="489.40" width="8.73" height="6.80" fill="#4a2aa0"/>
<rect x="417.47" y="489.40" width="8.13" height="6.80" fill="#4a2aa0"/>
<rect x="401.20" y="360.20" width="24.40" height="136.00" fill="none" stroke="#4a4a4a" stroke-width="0.9"/>
<rect x="433.80" y="360.20" width="8.70" height="7.40" fill="#e63a1c"/>
<rect x="441.90" y="360.20" width="8.70" height="7.40" fill="#e63a1c"/>
<rect x="450.00" y="360.20" width="8.10" height="7.40" fill="#f4a086"/>
<rect x="433.80" y="367.00" width="8.70" height="7.40" fill="#f4a586"/>
<rect x="441.90" y="367.00" width="8.70" height="7.40" fill="#ece6f0"/>
<rect x="450.00" y="367.00" width="8.10" height="7.40" fill="#a898d0"/>
<rect x="433.80" y="373.80" width="8.70" height="7.40" fill="#f09a7b"/>
<rect x="441.90" y="373.80" width="8.70" height="7.40" fill="#dcdcf0"/>
<rect x="450.00" y="373.80" width="8.10" height="7.40" fill="#a898d0"/>
<rect x="433.80" y="380.60" width="8.70" height="7.40" fill="#f5c0a6"/>
<rect x="441.90" y="380.60" width="8.70" height="7.40" fill="#f5b89e"/>
<rect x="450.00" y="380.60" width="8.10" height="7.40" fill="#f0e8f0"/>
<rect x="433.80" y="387.40" width="8.70" height="7.40" fill="#f8e0ce"/>
<rect x="441.90" y="387.40" width="8.70" height="7.40" fill="#f5b89e"/>
<rect x="450.00" y="387.40" width="8.10" height="7.40" fill="#e8e4f0"/>
<rect x="433.80" y="394.20" width="8.70" height="7.40" fill="#f5b096"/>
<rect x="441.90" y="394.20" width="8.70" height="7.40" fill="#f5d0be"/>
<rect x="450.00" y="394.20" width="8.10" height="7.40" fill="#d0c8e8"/>
<rect x="433.80" y="401.00" width="8.70" height="7.40" fill="#f5c0a6"/>
<rect x="441.90" y="401.00" width="8.70" height="7.40" fill="#e4e0f0"/>
<rect x="450.00" y="401.00" width="8.10" height="7.40" fill="#d8d0ea"/>
<rect x="433.80" y="407.80" width="8.70" height="7.40" fill="#f0ecf4"/>
<rect x="441.90" y="407.80" width="8.70" height="7.40" fill="#b0a0d8"/>
<rect x="450.00" y="407.80" width="8.10" height="7.40" fill="#8c78c0"/>
<rect x="433.80" y="414.60" width="8.70" height="7.40" fill="#e4e0f0"/>
<rect x="441.90" y="414.60" width="8.70" height="7.40" fill="#8c78c0"/>
<rect x="450.00" y="414.60" width="8.10" height="7.40" fill="#7a64b8"/>
<rect x="433.80" y="421.40" width="8.70" height="7.40" fill="#e8d8e0"/>
<rect x="441.90" y="421.40" width="8.70" height="7.40" fill="#a898d0"/>
<rect x="450.00" y="421.40" width="8.10" height="7.40" fill="#8c78c0"/>
<rect x="433.80" y="428.20" width="8.70" height="7.40" fill="#f8d8be"/>
<rect x="441.90" y="428.20" width="8.70" height="7.40" fill="#d8d0ea"/>
<rect x="450.00" y="428.20" width="8.10" height="7.40" fill="#d8d0ea"/>
<rect x="433.80" y="435.00" width="8.70" height="7.40" fill="#e4e0f0"/>
<rect x="441.90" y="435.00" width="8.70" height="7.40" fill="#7a5cb8"/>
<rect x="450.00" y="435.00" width="8.10" height="7.40" fill="#7a5cb8"/>
<rect x="433.80" y="441.80" width="8.70" height="7.40" fill="#dcd4ec"/>
<rect x="441.90" y="441.80" width="8.70" height="7.40" fill="#7a5cb8"/>
<rect x="450.00" y="441.80" width="8.10" height="7.40" fill="#6a48b0"/>
<rect x="433.80" y="448.60" width="8.70" height="7.40" fill="#e2d8ea"/>
<rect x="441.90" y="448.60" width="8.70" height="7.40" fill="#7a5cb8"/>
<rect x="450.00" y="448.60" width="8.10" height="7.40" fill="#6a48b0"/>
<rect x="433.80" y="455.40" width="8.70" height="7.40" fill="#c8c4d0"/>
<rect x="441.90" y="455.40" width="8.70" height="7.40" fill="#b0a0d8"/>
<rect x="450.00" y="455.40" width="8.10" height="7.40" fill="#8a70c0"/>
<rect x="433.80" y="462.20" width="8.70" height="7.40" fill="#9a88c8"/>
<rect x="441.90" y="462.20" width="8.70" height="7.40" fill="#8a70c0"/>
<rect x="450.00" y="462.20" width="8.10" height="7.40" fill="#8a70c0"/>
<rect x="433.80" y="469.00" width="8.70" height="7.40" fill="#e4e0f0"/>
<rect x="441.90" y="469.00" width="8.70" height="7.40" fill="#6a48b0"/>
<rect x="450.00" y="469.00" width="8.10" height="7.40" fill="#6a48b0"/>
<rect x="433.80" y="475.80" width="8.70" height="7.40" fill="#8a70c0"/>
<rect x="441.90" y="475.80" width="8.70" height="7.40" fill="#d0d0c8"/>
<rect x="450.00" y="475.80" width="8.10" height="7.40" fill="#4a2aa0"/>
<rect x="433.80" y="482.60" width="8.70" height="7.40" fill="#4a2aa0"/>
<rect x="441.90" y="482.60" width="8.70" height="7.40" fill="#5a3aa0"/>
<rect x="450.00" y="482.60" width="8.10" height="7.40" fill="#3a20a0"/>
<rect x="433.80" y="489.40" width="8.70" height="6.80" fill="#d0d0c8"/>
<rect x="441.90" y="489.40" width="8.70" height="6.80" fill="#d0d0c8"/>
<rect x="450.00" y="489.40" width="8.10" height="6.80" fill="#3a20a0"/>
<rect x="433.80" y="360.20" width="24.30" height="136.00" fill="none" stroke="#4a4a4a" stroke-width="0.9"/>
<rect x="467.10" y="360.20" width="8.70" height="7.40" fill="#f4a88e"/>
<rect x="467.10" y="367.00" width="8.70" height="7.40" fill="#f0eef4"/>
<rect x="467.10" y="373.80" width="8.70" height="7.40" fill="#d8d0ea"/>
<rect x="467.10" y="380.60" width="8.70" height="7.40" fill="#a898d0"/>
<rect x="467.10" y="387.40" width="8.70" height="7.40" fill="#a898d0"/>
<rect x="467.10" y="394.20" width="8.70" height="7.40" fill="#e0dcf0"/>
<rect x="467.10" y="401.00" width="8.70" height="7.40" fill="#9080c4"/>
<rect x="467.10" y="407.80" width="8.70" height="7.40" fill="#d4cce8"/>
<rect x="467.10" y="414.60" width="8.70" height="7.40" fill="#9080c4"/>
<rect x="467.10" y="421.40" width="8.70" height="7.40" fill="#9888c8"/>
<rect x="467.10" y="428.20" width="8.70" height="7.40" fill="#8a78c0"/>
<rect x="467.10" y="435.00" width="8.70" height="7.40" fill="#7a64b8"/>
<rect x="467.10" y="441.80" width="8.70" height="7.40" fill="#7a64b8"/>
<rect x="467.10" y="448.60" width="8.70" height="7.40" fill="#6a4aa8"/>
<rect x="467.10" y="455.40" width="8.70" height="7.40" fill="#6a4aa8"/>
<rect x="467.10" y="462.20" width="8.70" height="7.40" fill="#5a3aa0"/>
<rect x="467.10" y="469.00" width="8.70" height="7.40" fill="#8a78c0"/>
<rect x="467.10" y="475.80" width="8.70" height="7.40" fill="#4a30a0"/>
<rect x="467.10" y="482.60" width="8.70" height="7.40" fill="#4a30a0"/>
<rect x="467.10" y="489.40" width="8.70" height="6.80" fill="#4a30a0"/>
<rect x="467.10" y="360.20" width="8.70" height="136.00" fill="none" stroke="#4a4a4a" stroke-width="0.9"/>
<text x="398.30" y="366.09" font-size="6.5" text-anchor="end" fill="#222" stroke="#222" stroke-width="0.08">CD16<tspan dy="-2" font-size="4.6">+</tspan><tspan dy="2"> Mono</tspan></text>
<text x="398.30" y="372.89" font-size="6.5" text-anchor="end" fill="#222" stroke="#222" stroke-width="0.08">conventional DC</text>
<text x="398.30" y="379.69" font-size="6.5" text-anchor="end" fill="#222" stroke="#222" stroke-width="0.08">NK</text>
<text x="398.30" y="386.49" font-size="6.5" text-anchor="end" fill="#222" stroke="#222" stroke-width="0.08">HSC</text>
<text x="398.30" y="393.29" font-size="6.5" text-anchor="end" fill="#222" stroke="#222" stroke-width="0.08">CD14<tspan dy="-2" font-size="4.6">+</tspan><tspan dy="2"> Mono</tspan></text>
<text x="398.30" y="400.09" font-size="6.5" text-anchor="end" fill="#222" stroke="#222" stroke-width="0.08">Progenitor DC</text>
<text x="398.30" y="406.89" font-size="6.5" text-anchor="end" fill="#222" stroke="#222" stroke-width="0.08">LMPP</text>
<text x="398.30" y="413.69" font-size="6.5" text-anchor="end" fill="#222" stroke="#222" stroke-width="0.08">plasmacytoid DC</text>
<text x="398.30" y="420.49" font-size="6.5" text-anchor="end" fill="#222" stroke="#222" stroke-width="0.08">CD56<tspan dy="-2" font-size="3.6">bright</tspan><tspan dy="2"> NK</tspan></text>
<text x="398.30" y="427.29" font-size="6.5" text-anchor="end" fill="#222" stroke="#222" stroke-width="0.08">Memory CD8<tspan dy="-2" font-size="4.6">+</tspan><tspan dy="2"> T cell (2)</tspan></text>
<text x="398.30" y="434.09" font-size="6.5" text-anchor="end" fill="#222" stroke="#222" stroke-width="0.08">Effector CD8<tspan dy="-2" font-size="4.6">+</tspan><tspan dy="2"> T cell (1)</tspan></text>
<text x="398.30" y="440.89" font-size="6.5" text-anchor="end" fill="#222" stroke="#222" stroke-width="0.08">GMP</text>
<text x="398.30" y="447.69" font-size="6.5" text-anchor="end" fill="#222" stroke="#222" stroke-width="0.08">Memory CD4<tspan dy="-2" font-size="4.6">+</tspan><tspan dy="2"> T cell</tspan></text>
<text x="398.30" y="454.49" font-size="6.5" text-anchor="end" fill="#222" stroke="#222" stroke-width="0.08">Effector CD8<tspan dy="-2" font-size="4.6">+</tspan><tspan dy="2"> T cell (2)</tspan></text>
<text x="398.30" y="461.29" font-size="6.5" text-anchor="end" fill="#222" stroke="#222" stroke-width="0.08">Treg</text>
<text x="398.30" y="468.09" font-size="6.5" text-anchor="end" fill="#222" stroke="#222" stroke-width="0.08">MAIT</text>
<text x="398.30" y="474.89" font-size="6.5" text-anchor="end" fill="#222" stroke="#222" stroke-width="0.08">γδ T cells</text>
<text x="398.30" y="481.69" font-size="6.5" text-anchor="end" fill="#222" stroke="#222" stroke-width="0.08">Naive CD4<tspan dy="-2" font-size="4.6">+</tspan><tspan dy="2"> T cell</tspan></text>
<text x="398.30" y="488.49" font-size="6.5" text-anchor="end" fill="#222" stroke="#222" stroke-width="0.08">Memory CD8<tspan dy="-2" font-size="4.6">+</tspan><tspan dy="2"> T cell (1)</tspan></text>
<text x="398.30" y="495.29" font-size="6.5" text-anchor="end" fill="#222" stroke="#222" stroke-width="0.08">Naive CD8<tspan dy="-2" font-size="4.6">+</tspan><tspan dy="2"> T cell</tspan></text>
<text x="407.61" y="499.40" font-size="6.5" text-anchor="end" textLength="28.1" lengthAdjust="spacingAndGlyphs" fill="#222" stroke="#222" stroke-width="0.08" transform="rotate(-90 407.61 499.40)">Screening</text>
<text x="415.74" y="499.40" font-size="6.5" text-anchor="end" textLength="31.2" lengthAdjust="spacingAndGlyphs" fill="#222" stroke="#222" stroke-width="0.08" transform="rotate(-90 415.74 499.40)">Decitabine</text>
<text x="423.87" y="499.40" font-size="6.5" text-anchor="end" textLength="31.9" lengthAdjust="spacingAndGlyphs" fill="#222" stroke="#222" stroke-width="0.08" transform="rotate(-90 423.87 499.40)">Ipilimumab</text>
<text x="440.19" y="499.40" font-size="6.5" text-anchor="end" textLength="28.1" lengthAdjust="spacingAndGlyphs" fill="#222" stroke="#222" stroke-width="0.08" transform="rotate(-90 440.19 499.40)">Screening</text>
<text x="448.29" y="499.40" font-size="6.5" text-anchor="end" textLength="31.2" lengthAdjust="spacingAndGlyphs" fill="#222" stroke="#222" stroke-width="0.08" transform="rotate(-90 448.29 499.40)">Decitabine</text>
<text x="456.39" y="499.40" font-size="6.5" text-anchor="end" textLength="31.9" lengthAdjust="spacingAndGlyphs" fill="#222" stroke="#222" stroke-width="0.08" transform="rotate(-90 456.39 499.40)">Ipilimumab</text>
<defs><linearGradient id="gh" x1="0" x2="0" y1="1" y2="0"><stop offset="0" stop-color="#1a3a5e"/><stop offset="0.18" stop-color="#1f3f78"/><stop offset="0.3" stop-color="#4a3a8a"/><stop offset="0.4" stop-color="#8070b0"/><stop offset="0.46" stop-color="#d8d2e8"/><stop offset="0.49" stop-color="#f8f4f6"/><stop offset="0.57" stop-color="#f4c0b8"/><stop offset="0.72" stop-color="#e04848"/><stop offset="0.86" stop-color="#c01828"/><stop offset="1" stop-color="#8b0a1a"/></linearGradient></defs>
<rect x="494.00" y="404.80" width="4.00" height="56.70" fill="url(#gh)"/>
<text x="495.60" y="393.10" font-size="6.4" text-anchor="middle" fill="#222" stroke="#222" stroke-width="0.08">Total</text>
<text x="495.60" y="400.50" font-size="6.4" text-anchor="middle" fill="#222" stroke="#222" stroke-width="0.08">interactions</text>
<line x1="498" y1="459.6" x2="500.5" y2="459.6" stroke="#231f20" stroke-width="0.7"/>
<text x="503.30" y="461.76" font-size="6.0" fill="#222" stroke="#222" stroke-width="0.08">0</text>
<line x1="498" y1="448.92" x2="500.5" y2="448.92" stroke="#231f20" stroke-width="0.7"/>
<text x="503.30" y="451.08" font-size="6.0" fill="#222" stroke="#222" stroke-width="0.08">50</text>
<line x1="498" y1="438.24" x2="500.5" y2="438.24" stroke="#231f20" stroke-width="0.7"/>
<text x="503.30" y="440.40" font-size="6.0" fill="#222" stroke="#222" stroke-width="0.08">100</text>
<line x1="498" y1="427.56" x2="500.5" y2="427.56" stroke="#231f20" stroke-width="0.7"/>
<text x="503.30" y="429.72" font-size="6.0" fill="#222" stroke="#222" stroke-width="0.08">150</text>
<line x1="498" y1="416.88" x2="500.5" y2="416.88" stroke="#231f20" stroke-width="0.7"/>
<text x="503.30" y="419.04" font-size="6.0" fill="#222" stroke="#222" stroke-width="0.08">200</text>
<line x1="498" y1="406.2" x2="500.5" y2="406.2" stroke="#231f20" stroke-width="0.7"/>
<text x="503.30" y="408.36" font-size="6.0" fill="#222" stroke="#222" stroke-width="0.08">250</text>
</g>
<rect x="0.5" y="0.5" width="519" height="537" fill="none" stroke="#5a5a5a" stroke-width="1"/>
</svg></body></html>
